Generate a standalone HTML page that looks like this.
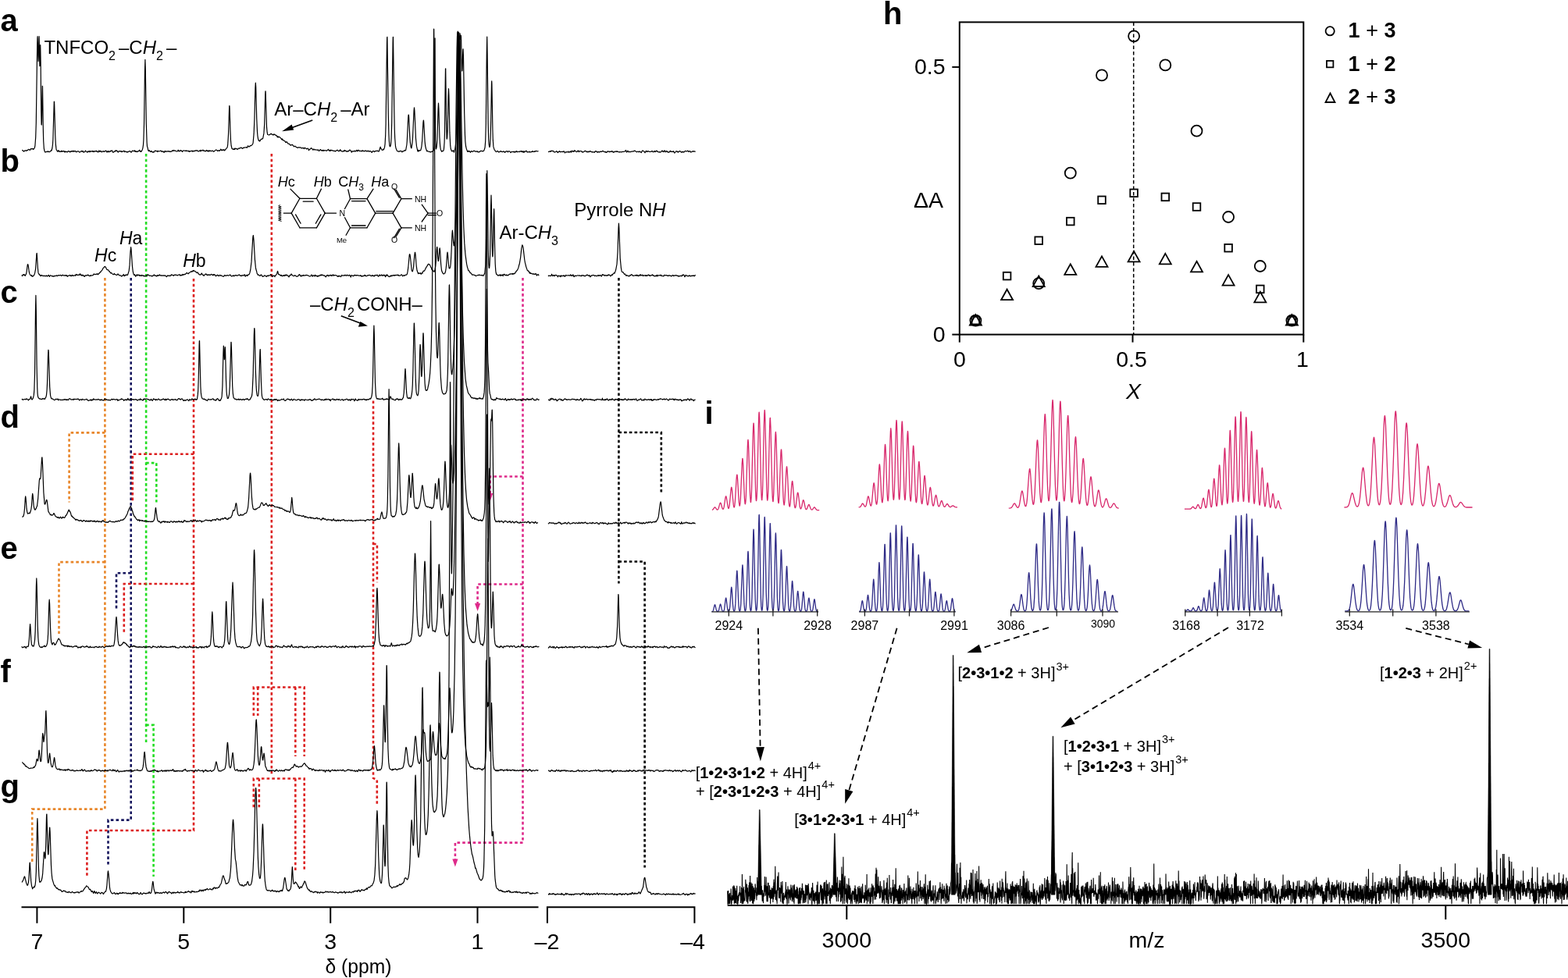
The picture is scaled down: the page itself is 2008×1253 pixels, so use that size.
<!DOCTYPE html><html><head><meta charset="utf-8"><style>html,body{margin:0;padding:0;background:#fff;overflow:hidden}svg{display:block;font-family:'Liberation Sans',Arial,sans-serif}</style></head><body><svg width="2008" height="1253" viewBox="0 0 2008 1253" style="font-family:'Liberation Sans',Arial,Helvetica,sans-serif"><rect width="2008" height="1253" fill="#fff"/><g fill="none" stroke-width="2.6" stroke-dasharray="3.6 3.1"><path d="M134.4,356 L134.4,1036.6 L41.2,1036.6 L41.2,1105" stroke="#E8862A"/><path d="M134.4,554.4 L88.6,554.4 L88.6,643.6" stroke="#E8862A"/><path d="M134.4,720.1 L75.5,720.1 L75.5,812" stroke="#E8862A"/><path d="M167.7,356 L167.7,1050.6 L138.5,1050.6 L138.5,1108.5" stroke="#16165E"/><path d="M167.7,734.2 L149,734.2 L149,781.6" stroke="#16165E"/><path d="M187.1,197 L187.1,951.8" stroke="#22DD22"/><path d="M187.1,593.1 L200.3,593.1 L200.3,643.6" stroke="#22DD22"/><path d="M187.1,928.9 L196.6,928.9 L196.6,1122.9" stroke="#22DD22"/><path d="M248,357 L248,1064 L111.4,1064 L111.4,1122" stroke="#DC2020"/><path d="M248,581.8 L169.8,581.8 L169.8,643.6" stroke="#DC2020"/><path d="M248,748 L158.8,748 L158.8,811.7" stroke="#DC2020"/><path d="M347.8,197 L347.8,991.6" stroke="#DC2020"/><path d="M324.8,917 L324.8,880.5 L389.7,880.5 L389.7,969" stroke="#DC2020"/><path d="M330.2,880.5 L330.2,917" stroke="#DC2020"/><path d="M378.3,880.5 L378.3,969" stroke="#DC2020"/><path d="M324.8,1034.3 L324.8,997.5 L389.7,997.5 L389.7,1116" stroke="#DC2020"/><path d="M331.8,997.5 L331.8,1034.3" stroke="#DC2020"/><path d="M378.3,997.5 L378.3,1116" stroke="#DC2020"/><path d="M478,513.5 L478,997 L482.8,999 L482.8,1030" stroke="#DC2020"/><path d="M478,697 L482.9,697 L482.9,746.3" stroke="#DC2020"/><path d="M669.5,356 L669.5,1079.6 L582.9,1079.6 L582.9,1102" stroke="#DE2A8A"/><path d="M669.5,610.5 L627.7,610.5 L627.7,634" stroke="#DE2A8A"/><path d="M669.5,748.5 L611.6,748.5 L611.6,775" stroke="#DE2A8A"/><path d="M792.4,356 L792.4,747.5" stroke="#000"/><path d="M792.4,554 L846.8,554 L846.8,631.3" stroke="#000"/><path d="M792.4,719.5 L825.6,719.5 L825.6,1111.6" stroke="#000"/><path d="M624.1,631.9 L631.3000000000001,631.9 L627.7,641.9 Z" fill="#DE2A8A" stroke="none"/><path d="M608.0,773.1 L615.2,773.1 L611.6,783.1 Z" fill="#DE2A8A" stroke="none"/><path d="M579.3,1100.5 L586.5,1100.5 L582.9,1110.5 Z" fill="#DE2A8A" stroke="none"/></g><g fill="none" stroke="#000" stroke-width="1.2" stroke-linejoin="round"><path d="M28.5,193.0L28.9,192.3 29.5,193.4 30.1,193.5 30.7,194.2 31.3,193.2 31.9,192.8 33.1,192.8 33.7,193.4 34.3,192.6 34.9,192.5 35.5,192.7 36.1,191.5 36.9,191.4 37.9,192.0 38.3,192.5 39.5,190.6 39.7,190.8 40.3,190.6 40.9,191.0 42.1,190.3 42.7,191.4 43.5,190.7 44.3,189.5 44.9,186.7 45.7,175.8 46.3,157.1 47.7,57.1 47.9,48.8 48.1,46.7 49.1,78.6 49.3,76.5 49.9,49.2 50.1,46.7 50.9,84.6 51.1,84.0 51.7,57.5 52.1,79.0 52.7,142.3 53.1,159.7 53.3,160.0 53.5,155.3 54.1,119.0 54.3,110.2 54.5,110.7 55.3,164.7 55.7,180.7 56.3,189.8 56.9,193.1 57.7,194.9 58.3,194.9 59.5,194.3 60.1,194.6 61.3,193.8 61.9,194.7 62.5,194.2 62.9,194.5 63.7,194.6 64.3,193.8 64.9,193.7 65.5,192.4 66.1,192.8 66.9,189.5 67.5,184.9 67.9,178.5 69.3,130.0 69.5,130.3 69.7,134.4 70.7,172.0 71.3,184.6 72.1,191.7 72.7,192.3 73.3,193.7 73.9,194.3 74.5,193.1 75.1,192.7 75.7,194.3 76.3,193.9 77.1,194.5 77.5,194.5 78.7,193.2 79.3,194.5 79.9,193.7 80.5,193.6 81.1,194.1 81.7,193.4 82.3,193.9 82.9,195.1 83.5,193.8 84.1,194.5 84.7,194.6 85.3,194.1 85.9,194.8 86.3,195.0 87.1,193.8 87.7,193.5 88.3,193.6 88.9,194.4 89.5,194.8 90.1,194.0 90.7,194.5 91.3,193.5 91.5,193.5 91.9,193.9 92.5,193.7 93.1,194.2 93.7,193.1 94.3,194.2 94.9,193.9 95.5,194.0 96.1,193.2 96.7,194.2 97.3,194.2 97.9,194.9 99.1,193.8 99.7,194.0 100.3,193.7 100.9,194.3 101.5,194.5 101.9,195.1 102.7,194.7 103.3,194.0 103.9,194.0 104.5,193.3 105.1,194.2 105.9,193.5 106.3,193.4 106.9,195.1 107.1,195.2 108.1,194.7 108.7,194.1 109.3,193.0 109.9,193.9 110.5,193.8 111.7,195.2 112.3,194.7 112.9,193.6 114.1,194.6 114.7,193.4 115.3,194.7 115.9,193.8 116.5,193.6 117.1,194.1 117.7,194.0 118.3,193.3 118.9,194.3 119.5,193.7 120.1,194.7 120.7,193.7 122.5,193.8 123.1,193.2 123.7,194.0 124.1,193.6 124.3,193.7 124.9,194.6 125.3,194.8 125.5,194.5 126.1,194.7 126.7,192.9 127.3,193.9 127.9,194.3 128.5,193.4 129.1,193.4 129.7,194.4 130.3,194.9 130.9,194.3 131.7,193.7 132.1,193.9 132.7,193.7 133.1,194.5 133.3,194.5 134.5,193.6 135.1,193.6 135.7,193.0 136.3,193.8 136.9,195.0 137.1,195.0 137.5,194.7 138.1,193.4 138.7,194.3 139.3,194.8 139.9,193.8 140.5,194.2 141.1,194.3 141.7,193.2 142.3,193.6 143.5,192.8 144.7,195.2 144.9,195.3 145.9,194.7 146.5,193.7 147.1,194.1 147.7,193.8 148.3,192.5 148.9,193.5 149.5,193.0 150.1,193.3 151.3,195.1 151.9,194.0 152.7,193.6 153.1,193.6 153.7,194.0 154.3,193.6 154.9,193.6 155.5,194.7 156.1,193.8 156.5,194.2 157.3,194.3 157.9,194.0 158.5,193.1 159.1,193.5 159.7,194.7 160.3,194.0 161.5,194.2 162.1,194.6 162.7,195.2 163.3,194.3 163.9,194.8 165.5,193.7 166.3,193.5 168.1,195.2 169.5,193.0 169.9,193.4 170.9,193.7 172.1,192.8 172.3,192.9 172.9,194.3 173.5,193.3 174.1,194.4 174.7,194.5 175.3,193.9 175.9,194.6 177.1,193.7 177.7,193.6 178.3,192.6 178.7,192.3 178.9,192.4 179.5,194.1 179.9,194.0 180.1,193.6 180.7,194.4 181.1,194.1 182.3,191.7 182.9,189.6 183.5,185.5 183.9,179.4 184.5,159.3 185.5,90.1 185.9,76.3 186.3,90.1 187.3,158.3 188.1,182.5 188.5,187.6 189.1,189.2 189.7,192.4 190.3,193.6 190.9,192.7 191.5,192.7 192.1,194.0 192.7,194.5 193.3,194.4 193.9,193.3 195.1,195.0 195.5,195.2 196.3,194.3 196.9,195.2 197.5,194.2 198.1,194.0 198.7,192.9 199.5,193.5 200.5,193.7 201.1,193.3 201.7,194.5 202.3,193.4 202.9,193.8 204.7,193.6 205.3,193.1 205.9,193.0 207.1,194.3 207.7,193.8 208.3,194.2 208.9,193.8 210.1,195.4 211.3,193.3 211.9,194.1 212.5,194.5 213.1,193.9 214.3,193.8 214.9,194.1 216.1,193.6 217.3,194.4 217.9,194.1 218.5,194.2 218.9,194.5 220.3,193.6 220.9,192.7 221.5,193.5 222.7,192.4 223.3,193.2 225.1,193.2 225.7,194.0 226.7,194.0 227.5,193.7 228.1,192.2 229.3,194.0 229.9,193.1 230.5,193.4 231.7,192.5 232.3,193.4 232.9,193.3 233.5,194.5 234.1,193.5 235.3,192.8 236.5,193.2 237.7,193.3 238.3,192.8 238.9,193.6 239.5,193.2 240.1,193.5 240.7,193.4 241.3,193.8 241.9,193.2 242.5,194.5 243.5,193.6 244.3,193.5 244.9,193.7 246.1,193.0 246.7,194.1 247.3,193.7 247.9,194.0 248.5,193.1 249.1,193.6 249.7,193.4 250.9,192.5 251.5,193.0 252.1,193.1 252.7,192.6 253.3,193.6 253.9,194.1 254.5,193.6 255.1,193.6 256.3,192.5 256.9,194.0 257.5,192.5 258.1,192.8 259.3,192.9 259.9,192.1 260.5,193.2 261.1,193.2 261.7,192.8 262.3,193.8 262.9,193.5 263.1,193.8 263.5,193.5 264.5,192.5 265.3,193.7 265.9,192.9 266.5,193.9 267.1,193.0 267.7,193.9 268.3,192.9 268.9,193.5 269.5,193.2 270.1,193.3 270.7,193.7 271.9,193.0 272.5,193.0 273.1,193.9 273.7,194.3 276.7,191.9 277.9,192.6 278.5,193.5 279.1,193.0 279.7,192.8 280.3,193.3 280.9,192.7 281.3,193.2 282.1,192.4 282.7,191.0 283.9,192.8 284.5,192.1 285.1,191.8 285.7,192.5 286.5,191.8 286.9,191.7 287.5,192.9 287.7,192.9 289.3,190.8 290.9,189.2 291.3,187.8 291.7,184.9 292.5,172.3 293.7,135.5 293.9,135.5 294.1,138.9 294.9,166.4 295.5,180.0 296.1,186.5 297.1,190.5 297.7,190.6 298.3,191.3 298.9,191.2 299.5,191.4 300.1,190.1 300.7,191.4 301.9,190.0 302.1,190.0 302.5,190.5 303.1,190.5 303.7,191.5 304.3,190.9 304.9,191.0 305.5,190.2 305.9,190.0 306.1,189.9 306.7,190.1 307.9,189.6 308.5,188.9 309.7,189.6 310.3,190.4 310.9,190.2 311.5,189.2 312.7,189.4 313.3,188.8 314.5,189.0 315.1,188.7 315.7,188.7 316.3,189.2 316.5,189.1 316.9,188.6 317.5,186.8 317.7,186.9 318.1,187.7 318.7,187.6 319.3,188.0 320.5,186.7 321.7,186.7 323.5,184.8 324.1,183.1 325.1,171.4 325.9,152.2 326.9,112.8 327.3,106.1 327.7,111.8 328.7,151.5 329.5,168.9 329.9,173.8 330.5,177.6 331.3,180.2 331.9,179.9 332.5,181.0 333.1,180.4 334.3,178.3 334.9,178.5 335.5,177.8 336.1,177.9 336.7,177.1 337.9,170.9 338.7,158.7 339.7,121.3 339.9,116.8 340.1,116.8 341.5,162.3 342.1,169.2 342.5,171.5 342.7,172.4 342.9,172.5 343.9,172.8 344.9,172.8 345.7,172.4 346.3,171.6 347.5,171.3 348.1,172.1 348.7,172.2 348.9,172.5 349.3,172.5 349.9,173.1 350.5,172.0 351.1,172.4 351.7,172.1 352.3,172.9 354.1,173.6 355.3,175.8 355.9,174.5 356.5,176.0 357.7,175.3 357.9,175.3 360.1,177.7 360.7,178.8 361.3,177.8 361.9,179.5 362.5,179.3 363.7,180.4 364.9,180.8 365.7,182.5 366.1,182.5 366.7,181.8 367.1,181.7 367.9,182.5 368.5,183.8 370.3,184.3 370.9,184.8 371.5,185.9 372.1,185.9 372.3,186.1 373.5,185.5 373.9,185.7 374.5,185.3 375.1,186.2 375.7,186.7 376.3,187.8 376.9,187.7 377.5,187.2 378.1,187.4 379.3,188.5 379.9,188.6 380.1,188.9 381.1,189.4 381.7,189.0 382.3,189.0 382.9,188.6 383.5,189.2 384.7,188.8 385.9,189.8 386.5,189.8 387.9,189.4 388.3,189.5 389.5,190.6 390.1,189.2 391.9,190.3 392.5,190.9 394.3,190.1 394.9,190.9 395.5,192.7 396.1,191.7 397.9,190.5 398.5,189.5 399.1,190.4 400.3,191.1 400.9,192.3 401.5,191.2 402.1,191.2 402.7,191.9 403.3,191.7 404.5,192.0 404.9,191.9 406.1,192.3 406.9,192.2 407.5,191.8 408.1,193.3 409.3,193.0 410.1,191.6 410.5,191.7 411.3,192.6 412.3,193.1 412.9,192.4 413.5,193.2 414.1,192.2 414.7,193.3 415.9,192.5 416.5,192.8 417.7,192.9 418.3,193.4 419.5,192.1 420.1,191.9 420.5,191.3 421.3,193.0 421.7,193.2 421.9,192.8 422.5,193.3 423.1,192.0 423.7,193.1 424.3,192.3 424.9,192.7 425.7,192.7 426.9,193.5 427.9,193.0 428.5,193.6 429.1,193.6 429.7,193.9 430.3,193.1 432.1,192.2 433.3,193.7 433.5,193.7 434.5,193.0 435.1,193.4 435.7,191.7 436.1,192.1 436.3,192.7 436.9,193.1 437.5,193.9 438.1,193.9 438.7,194.2 439.3,194.0 439.9,193.4 440.5,193.8 441.1,192.3 441.7,193.4 442.5,193.2 442.9,193.2 443.5,193.7 444.1,194.4 444.7,193.8 445.3,193.6 445.9,194.1 446.5,193.2 447.1,193.1 447.7,192.0 448.9,192.5 450.3,195.1 450.7,194.2 451.3,194.1 451.7,193.6 452.5,193.6 452.9,194.0 453.7,194.0 454.3,193.0 454.9,193.9 455.5,194.0 456.1,193.6 456.7,192.3 457.3,192.8 457.9,193.9 458.5,192.8 459.1,192.3 459.7,192.5 460.3,193.6 462.1,193.3 463.3,193.9 463.9,192.9 464.5,192.7 465.1,193.7 466.3,193.4 467.1,193.8 468.5,192.8 469.9,194.2 470.5,193.5 471.1,193.2 471.7,193.2 472.3,194.2 472.5,194.2 472.9,194.2 473.5,193.5 474.1,193.5 474.7,194.0 475.3,194.1 475.9,195.3 476.3,195.3 476.5,194.8 477.1,194.4 477.7,193.3 478.9,193.7 479.5,194.6 480.1,194.2 480.7,193.5 481.5,193.3 481.9,193.5 483.7,193.1 484.3,193.9 485.3,194.0 487.1,188.3 487.3,188.4 487.9,190.6 488.5,190.8 489.1,192.2 490.3,192.3 490.9,191.0 491.5,191.6 492.5,188.9 493.1,184.3 493.7,173.1 494.1,158.7 495.5,55.5 495.7,47.8 495.9,47.4 497.3,147.3 497.9,171.6 498.3,180.1 498.9,186.5 499.3,187.6 499.5,187.8 499.7,187.7 500.1,186.8 500.5,184.8 501.1,177.1 501.7,157.7 503.1,55.0 503.3,47.6 503.5,47.4 504.7,135.0 505.3,166.8 505.7,177.0 506.5,187.3 507.1,190.0 508.3,193.0 510.1,194.4 510.7,193.8 511.3,193.8 511.9,194.2 512.5,193.3 513.1,193.5 513.7,193.4 514.9,194.8 515.5,193.9 516.7,194.0 517.9,192.6 519.3,192.8 519.7,192.2 520.9,185.5 521.3,180.7 522.7,151.3 523.1,147.0 523.3,147.2 523.5,148.5 523.7,151.3 524.7,173.6 525.3,182.2 526.1,187.8 526.5,189.3 526.9,189.8 527.9,183.6 528.5,176.6 530.1,141.5 530.5,137.8 530.9,141.8 532.5,177.5 533.5,187.4 534.9,193.7 535.3,194.1 535.9,192.2 536.5,193.6 537.3,193.1 537.7,192.6 538.3,192.8 538.5,192.6 538.9,192.1 539.9,187.8 540.7,179.8 541.9,157.4 542.3,154.1 542.5,154.5 542.7,156.7 544.1,181.4 544.7,187.0 545.5,190.5 546.7,193.8 547.3,193.2 547.9,194.0 549.1,194.1 549.7,194.5 550.3,194.6 550.9,194.3 551.5,194.9 552.7,194.4 553.3,193.8 553.9,194.2 554.3,194.1 555.7,191.9 556.1,187.2 556.3,179.8 556.5,161.7 556.9,49.2 557.1,48.9 557.5,161.4 557.7,179.7 558.1,189.7 558.3,190.8 558.5,190.9 559.1,188.8 559.9,179.8 561.1,139.7 561.5,132.2 561.9,139.0 562.9,175.8 563.7,187.7 564.3,191.4 565.1,193.2 565.9,194.3 566.5,193.4 567.3,193.5 567.7,193.4 568.3,191.7 568.5,190.3 569.1,182.4 569.5,168.7 570.3,100.6 570.5,88.0 570.7,87.8 571.5,154.1 572.1,176.8 572.3,178.2 572.7,176.1 573.1,167.9 574.1,123.3 574.5,113.7 574.9,122.2 575.9,169.4 576.7,186.2 577.3,190.8 578.5,193.8 579.1,193.3 579.7,193.7 580.3,192.9 580.9,193.6 581.5,195.2 582.1,192.2 582.7,191.2 583.5,185.2 583.9,180.0 584.3,170.2 584.9,141.7 585.9,52.7 586.1,42.3 586.3,40.2 587.5,98.4 587.7,97.4 587.9,91.2 588.5,55.9 588.9,42.7 589.1,43.1 589.7,50.2 590.3,45.4 590.5,47.0 591.3,80.9 591.7,91.0 591.9,90.7 592.1,86.9 592.7,67.3 592.9,63.4 593.1,62.8 593.5,73.8 594.7,145.5 595.5,173.8 595.9,181.6 596.5,187.0 597.3,190.6 598.5,193.8 598.9,194.4 599.5,193.4 600.1,194.1 600.7,193.3 601.3,194.3 601.9,194.1 602.5,195.3 603.1,194.2 603.7,193.6 604.3,193.7 604.9,194.5 606.1,194.0 606.7,193.2 607.5,193.3 608.9,194.2 609.7,194.2 610.3,193.8 610.9,194.2 611.5,193.8 612.1,194.9 613.3,194.6 613.9,194.8 615.1,193.3 615.7,193.6 616.7,193.4 617.5,193.5 618.1,194.0 618.7,193.6 619.3,193.5 619.9,192.6 620.7,190.3 621.1,188.5 621.7,180.9 622.3,158.5 623.3,67.5 623.7,47.0 624.1,68.0 625.1,158.1 625.7,178.6 626.1,184.6 626.7,188.1 626.9,188.5 627.1,188.4 627.5,186.4 628.1,177.1 628.7,154.1 629.5,107.0 629.7,103.8 629.9,107.5 630.9,165.7 631.3,179.4 631.9,187.9 633.1,191.9 633.7,192.3 634.3,193.5 635.5,194.6 636.7,193.6 637.3,193.4 637.9,194.3 638.9,195.1 639.7,194.2 640.1,194.0 640.9,194.1 641.5,193.5 642.1,194.5 643.3,194.4 643.9,194.7 644.5,194.0 645.3,193.9 645.7,194.2 646.3,195.2 646.7,195.3 647.5,194.2 648.1,193.9 648.7,194.0 649.3,193.6 650.5,194.8 651.1,193.7 651.7,193.9 652.3,193.8 652.9,194.2 654.1,195.6 654.7,194.8 655.7,194.2 656.9,194.7 657.7,194.7 658.3,193.9 658.9,195.2 659.5,194.8 660.1,195.0 660.9,193.6 661.3,193.7 661.9,194.5 662.3,194.8 663.1,194.0 664.9,194.7 665.5,193.9 666.1,194.1 666.7,193.8 667.3,194.1 667.9,193.5 668.5,194.6 669.1,194.0 669.7,194.8 670.3,193.8 670.9,195.5 671.5,194.2 672.1,193.8 672.7,194.4 673.9,193.2 674.5,193.6 675.1,195.1 675.7,194.5 677.5,194.9 678.1,194.0 678.7,194.8 679.9,194.9 681.1,194.1 681.7,194.4 682.3,193.5 682.9,194.5 684.3,194.3 684.7,193.7 685.3,194.2 686.5,193.3 687.1,193.6 688.9,193.8 689.5,193.4"/><path d="M702.0,194.6L703.6,194.1 704.2,194.3 704.8,193.5 705.4,194.2 706.0,193.4 706.4,193.2 707.8,193.6 708.4,193.3 709.0,193.9 709.6,194.8 710.4,194.8 711.6,194.6 712.6,193.6 713.0,193.8 714.4,195.5 715.6,194.1 716.2,194.4 716.8,193.6 717.4,194.7 718.2,194.7 719.6,194.2 720.4,194.4 720.8,194.7 722.0,193.7 722.8,194.5 723.4,195.9 725.2,194.4 726.0,195.1 727.0,194.7 727.6,194.0 728.6,195.4 729.8,194.3 730.6,193.9 731.2,195.3 731.8,194.0 732.4,193.1 733.0,194.1 733.8,193.8 734.2,193.4 734.8,194.3 735.4,193.7 736.0,192.5 736.6,193.7 737.2,194.0 737.8,194.0 738.4,194.6 739.6,194.0 740.2,192.8 741.4,194.7 742.0,193.5 742.6,193.7 743.2,193.5 743.8,193.5 744.4,193.9 745.0,193.7 745.6,195.1 746.2,194.7 746.8,195.0 748.0,194.3 748.6,193.5 749.4,193.2 749.8,193.7 750.4,193.8 751.0,194.8 751.6,194.0 752.2,194.1 752.8,195.0 754.0,193.9 754.6,194.7 755.8,193.5 757.0,194.3 757.2,194.7 757.6,194.5 758.2,194.8 758.6,194.6 759.4,194.9 760.0,194.8 760.6,194.9 761.2,195.3 762.4,193.6 763.6,193.8 764.2,194.8 764.8,194.3 765.4,195.2 766.2,194.5 766.6,194.3 767.6,195.1 769.0,194.1 770.8,194.3 771.6,193.4 772.0,193.3 773.2,194.4 774.4,194.4 775.0,195.0 775.6,194.3 776.2,195.3 776.6,195.4 776.8,195.4 778.0,193.9 778.6,194.2 779.2,193.9 780.6,194.8 781.0,194.0 781.6,194.5 782.0,194.3 782.8,194.3 783.4,193.5 784.0,194.2 784.6,194.1 785.2,195.3 785.8,194.5 786.4,194.9 787.0,194.7 787.6,193.9 788.2,194.2 789.4,194.5 790.0,193.5 790.6,194.4 791.8,194.4 793.0,195.1 793.6,194.5 795.4,194.8 796.0,194.6 796.2,194.8 797.6,194.2 798.4,194.5 800.2,193.8 800.8,193.9 801.4,192.4 802.6,195.1 804.0,193.2 805.0,194.6 805.4,194.9 806.2,194.2 807.4,194.8 808.6,194.1 809.2,194.0 809.8,194.2 810.4,193.8 811.0,194.0 811.6,193.9 812.2,193.0 812.8,193.4 813.2,193.3 814.0,193.7 814.4,194.1 814.6,194.0 815.2,194.8 815.8,194.6 816.4,194.2 817.0,194.1 817.6,194.7 818.2,194.2 818.8,194.7 819.4,194.0 819.6,194.1 821.2,195.7 822.2,193.5 823.0,192.9 823.6,193.0 824.2,194.0 825.4,194.4 826.0,195.8 827.4,193.3 827.8,193.3 828.4,194.4 829.0,194.3 830.0,193.5 831.2,194.3 832.0,194.3 833.2,194.5 833.8,194.4 834.4,193.5 835.0,193.6 835.2,193.4 836.4,194.9 836.8,194.5 837.4,194.3 838.0,193.3 838.6,194.6 839.2,194.5 839.8,194.0 840.4,193.0 841.0,194.0 841.8,193.6 842.2,193.8 843.0,194.9 844.0,195.0 844.6,194.5 845.2,195.2 846.8,194.5 847.6,193.1 848.2,193.2 848.8,194.1 849.4,193.9 850.0,194.7 850.8,193.1 851.2,192.9 852.2,194.7 852.4,194.8 853.0,193.8 853.4,193.7 853.6,193.9 854.2,193.6 854.8,194.9 856.0,194.8 856.6,195.4 857.2,194.2 857.8,194.2 858.4,193.2 859.0,194.3 859.6,194.2 861.2,194.3 861.4,194.2 862.0,194.6 862.6,193.7 863.8,196.1 865.0,194.8 865.6,193.8 866.2,194.0 866.8,193.7 867.4,194.6 868.0,194.3 868.6,195.0 869.2,194.1 869.8,194.2 870.4,193.5 871.0,193.6 872.8,195.4 873.4,194.4 874.2,194.4 874.6,195.0 875.2,194.4 875.6,194.8 876.4,194.7 877.0,193.7 877.6,193.4 878.2,193.5 878.8,193.9 880.0,193.6 880.6,193.2 880.8,193.2 881.2,193.4 881.8,194.4 883.2,193.9 883.6,193.5 884.8,195.1 885.4,194.5 886.0,194.5 887.2,193.7 887.8,193.7 888.4,194.2 889.0,193.8 889.6,194.0 889.8,193.9 890.2,194.3 890.6,194.1"/><path d="M27.6,352.8L28.0,352.8 28.6,353.5 29.2,352.3 29.8,351.7 30.4,352.4 30.8,351.7 31.0,351.7 32.2,353.4 32.8,352.1 33.4,351.4 34.0,348.8 35.2,339.6 35.6,338.5 36.0,339.4 36.4,341.5 37.2,348.0 37.8,350.4 38.4,351.9 40.0,353.4 40.6,352.6 41.2,354.4 41.8,353.9 42.4,353.9 43.0,352.9 43.8,352.4 44.6,349.9 45.6,344.6 46.8,326.4 47.0,324.6 47.2,324.4 48.4,343.2 49.0,349.4 49.6,351.1 50.2,351.1 50.8,352.4 51.4,352.4 52.0,353.8 52.6,352.5 53.2,353.1 53.8,352.7 55.0,353.6 55.6,353.7 56.2,353.1 57.4,353.8 58.0,353.5 58.6,353.6 59.2,353.0 60.4,354.0 61.0,353.4 61.6,353.2 62.0,352.4 62.2,352.3 62.8,353.7 63.4,354.4 64.0,353.3 64.6,352.8 65.2,352.9 66.4,353.9 67.0,353.5 67.6,353.6 68.2,354.3 68.6,354.2 69.4,353.3 70.0,353.9 72.4,352.8 73.0,353.8 74.8,352.5 75.4,353.0 76.2,352.7 76.6,352.9 77.2,352.4 77.8,352.5 78.4,353.5 80.2,352.2 80.8,353.0 81.4,352.9 82.6,353.2 83.2,352.7 83.8,352.6 84.4,353.3 85.6,352.6 86.2,354.4 87.4,353.3 88.0,353.2 88.6,352.9 89.2,352.9 89.8,352.4 90.4,353.6 91.0,353.2 91.6,353.7 92.2,352.6 92.8,352.4 93.4,353.3 94.0,353.4 94.6,353.0 95.8,352.8 96.4,353.3 97.0,352.0 97.6,351.4 98.2,352.5 98.8,352.2 100.0,352.4 101.2,352.2 101.8,352.3 102.4,350.8 103.0,351.2 103.6,352.7 104.2,352.1 104.8,353.2 105.4,352.9 106.0,352.1 106.6,353.3 107.2,353.7 107.8,353.3 108.4,354.4 109.0,352.9 110.2,353.1 110.8,352.6 111.4,352.9 112.0,352.8 112.6,352.0 113.2,352.4 114.0,353.4 115.0,353.7 115.6,352.7 116.2,353.5 116.6,353.0 117.4,352.7 118.0,353.0 119.2,352.6 119.8,351.5 120.4,350.9 121.6,351.8 122.2,351.4 123.2,351.4 124.0,351.1 124.6,350.6 125.2,351.8 125.4,351.7 129.4,347.8 130.0,346.8 131.2,345.6 131.8,344.0 132.4,343.1 133.0,343.0 133.6,341.9 134.2,341.3 135.0,341.9 136.0,343.6 136.6,345.1 137.2,345.6 137.8,345.4 138.4,346.0 139.0,346.1 139.6,347.6 140.2,347.7 140.8,348.8 141.4,349.2 142.0,350.1 142.6,349.6 143.2,350.0 144.4,351.5 145.0,351.5 145.6,351.8 146.2,350.4 146.8,351.4 147.8,351.5 148.0,351.8 149.0,352.4 149.8,352.3 151.0,351.0 152.8,352.9 153.4,352.8 154.0,353.0 154.6,352.8 155.6,354.0 156.4,353.4 157.0,353.4 158.2,351.5 158.8,353.0 159.4,353.7 160.0,352.6 160.6,352.9 161.2,351.9 161.8,352.5 162.4,352.1 163.0,352.5 163.6,352.2 165.2,346.8 166.0,339.9 167.0,322.3 167.6,316.7 168.0,319.1 169.4,340.6 170.2,347.6 171.0,351.1 171.2,351.4 171.4,351.4 172.0,352.7 172.6,351.7 173.8,354.3 174.4,352.9 175.6,351.8 176.2,353.2 176.8,352.4 178.0,352.1 178.6,353.3 179.0,353.4 179.2,353.4 179.8,352.6 180.2,353.1 181.0,353.6 181.6,352.4 182.2,352.9 182.8,352.9 183.4,353.5 184.0,353.0 184.6,353.8 185.8,353.6 186.4,353.7 186.8,353.2 187.6,352.7 188.2,353.7 188.8,352.2 189.4,351.6 190.8,353.1 191.2,353.0 191.8,353.3 192.4,353.1 193.6,353.5 194.2,353.3 194.8,354.1 195.4,353.3 196.0,353.0 196.6,353.1 197.2,351.9 197.8,352.9 198.4,352.9 199.0,353.5 199.6,353.2 199.8,353.2 200.2,353.4 200.8,354.1 201.4,352.6 202.0,352.6 202.6,353.3 203.2,352.5 203.8,352.8 204.4,351.9 205.0,352.9 205.6,352.8 206.2,353.2 206.8,352.8 208.0,353.1 209.8,352.9 210.2,353.2 211.6,352.9 212.2,353.8 212.8,354.0 213.4,354.7 214.6,352.9 215.2,353.3 215.8,353.3 216.4,352.9 217.0,353.4 217.6,353.6 218.2,353.0 218.8,353.2 219.4,351.8 221.2,352.6 221.8,352.5 222.4,353.4 223.0,352.4 223.6,352.0 224.2,352.0 224.8,352.4 225.4,352.0 225.8,352.1 226.6,352.9 227.0,353.0 227.8,352.4 229.0,352.2 229.6,351.6 229.8,351.7 230.2,352.0 230.8,353.3 231.0,353.2 231.4,352.5 232.0,352.2 232.6,352.9 233.2,352.8 233.8,351.4 234.4,352.1 235.0,351.6 235.6,352.2 236.2,351.4 237.4,351.4 239.2,349.5 241.0,350.9 242.2,349.5 243.4,349.0 244.0,348.2 245.2,347.6 245.8,348.3 246.4,347.7 247.0,346.7 247.6,347.4 248.2,346.3 248.8,347.2 249.4,347.6 250.6,347.8 251.2,349.0 252.4,349.6 253.0,348.8 253.6,350.0 254.2,350.2 254.8,351.5 255.4,352.0 256.0,351.8 256.6,352.2 257.0,352.0 258.2,350.0 258.4,350.0 259.0,351.8 259.6,352.2 260.2,352.2 261.0,353.3 261.4,353.2 262.0,352.6 262.6,351.3 263.2,351.5 263.8,350.8 264.4,352.1 265.0,351.7 265.6,352.7 266.2,352.2 266.8,352.3 267.4,351.8 268.0,352.4 268.6,352.1 269.2,352.5 269.8,352.1 270.4,351.4 272.2,352.1 272.8,352.9 273.4,351.5 274.0,352.2 274.6,351.7 275.2,351.9 275.8,353.2 276.4,353.7 277.0,353.5 278.2,352.2 278.8,352.8 279.4,352.5 280.0,353.6 280.4,353.6 281.8,352.3 282.4,353.1 283.6,352.9 284.8,353.9 286.0,354.3 286.6,354.1 287.2,353.0 287.8,352.5 288.2,352.5 288.4,353.0 289.4,353.4 290.8,352.5 291.4,352.6 292.0,353.2 292.2,353.2 293.2,352.9 293.8,352.3 294.4,352.4 295.0,352.1 296.2,353.8 296.8,353.9 297.4,353.8 298.0,353.5 298.6,352.7 299.2,353.6 299.8,353.8 300.4,353.1 301.0,352.7 301.6,352.8 302.2,352.5 302.8,353.1 303.4,353.1 304.0,352.8 304.6,353.1 305.8,352.1 306.4,351.9 307.6,353.3 308.2,353.4 308.8,352.9 309.4,353.7 310.0,352.8 310.6,352.7 311.2,352.9 311.8,352.7 312.4,353.0 313.0,351.8 313.6,352.3 314.2,354.3 314.8,353.3 316.0,352.3 316.6,353.5 317.2,352.9 317.8,351.9 318.6,351.8 319.2,351.4 319.8,349.9 320.8,345.5 322.0,335.4 323.8,304.6 324.2,301.7 324.4,301.6 325.0,307.5 326.4,332.4 327.4,342.9 327.8,345.0 328.6,347.5 329.2,350.5 329.8,351.0 330.4,352.4 331.0,352.1 332.8,353.4 333.4,353.1 334.0,352.2 334.6,352.1 335.0,352.3 335.8,353.9 336.2,354.3 337.0,354.1 338.2,353.6 338.8,352.8 340.0,353.3 340.6,354.1 341.2,354.5 341.8,353.5 342.4,353.7 343.0,352.8 343.6,353.7 344.2,353.1 346.0,352.7 346.6,351.6 347.8,353.1 348.4,353.4 349.0,354.6 349.6,353.3 350.2,353.0 350.8,353.5 351.4,353.3 352.0,354.7 352.6,352.7 353.8,352.2 354.6,350.8 355.4,347.6 355.6,347.4 356.6,351.3 356.8,351.6 357.4,351.5 358.6,352.6 359.2,352.4 359.8,353.3 360.4,352.4 361.0,353.5 361.6,353.8 362.4,352.9 362.8,352.9 363.4,353.5 363.6,353.5 364.0,352.6 364.6,353.4 365.2,352.0 365.8,352.9 366.2,352.8 367.0,351.9 367.6,352.9 368.2,353.2 368.8,353.1 370.0,354.9 371.2,352.5 371.8,352.9 372.4,352.4 373.0,350.9 373.6,352.1 374.0,352.2 375.2,353.4 376.0,353.7 376.6,353.3 377.2,353.2 377.8,352.7 379.6,354.1 380.2,354.4 380.8,353.9 381.4,353.9 381.8,353.7 383.0,351.9 383.8,351.7 384.4,353.3 385.0,353.0 385.6,354.1 386.2,353.1 386.8,352.9 388.0,353.5 388.6,352.4 389.2,352.9 390.4,353.2 391.0,352.6 391.6,352.8 392.2,352.3 392.8,352.6 393.4,352.5 394.0,352.9 394.8,353.0 395.8,353.7 397.0,354.1 397.4,354.0 398.8,352.1 399.4,352.3 400.0,354.3 400.6,353.3 401.4,352.9 401.8,352.8 402.4,353.8 402.6,353.8 403.0,353.5 403.6,352.2 404.2,353.7 404.8,353.2 405.2,353.2 406.6,354.3 407.2,353.1 407.8,354.0 409.0,353.0 409.6,353.1 410.2,352.2 410.8,352.9 411.4,352.0 412.0,352.8 412.6,352.0 414.2,353.1 414.4,353.1 415.0,352.6 415.6,353.4 416.2,353.7 417.0,354.7 417.4,354.8 418.0,353.3 418.6,352.8 419.2,353.1 419.8,352.3 421.0,353.8 422.2,352.5 422.8,352.6 423.4,353.1 424.0,352.2 424.6,353.4 425.2,353.2 425.8,352.9 426.4,351.7 427.2,353.1 428.6,352.7 430.0,352.7 431.8,353.4 432.4,354.5 432.6,354.5 433.0,354.3 433.6,353.3 433.8,353.4 434.2,354.2 434.8,353.4 435.4,353.8 436.0,354.0 436.4,354.6 436.6,354.5 437.8,352.4 438.4,353.0 439.0,353.2 440.2,352.7 440.8,353.2 442.0,352.2 442.6,352.9 443.2,353.1 443.8,353.1 444.4,352.2 445.0,352.8 445.6,352.8 446.8,353.3 447.4,352.3 448.6,353.3 449.2,355.1 449.8,353.0 450.6,352.6 452.0,353.7 452.2,353.6 452.8,353.7 453.4,352.4 454.0,352.9 454.6,352.3 455.2,352.8 455.8,352.7 456.4,353.1 457.2,352.5 457.6,352.5 458.2,352.9 459.8,353.1 460.0,353.0 461.2,353.5 461.8,352.7 462.4,353.2 463.0,354.3 463.6,353.6 464.2,353.9 465.0,353.6 465.4,353.7 466.0,353.3 466.6,352.4 467.2,353.3 467.8,352.5 468.4,353.7 469.0,353.5 469.6,353.6 470.2,353.5 471.4,352.4 472.0,352.8 472.6,352.9 473.2,352.4 473.8,352.4 474.4,353.2 475.6,353.8 476.2,352.8 476.8,352.6 477.4,353.6 478.0,353.0 478.6,353.4 479.2,354.0 479.8,352.7 481.0,353.0 481.6,352.3 482.2,352.9 483.2,352.1 483.4,352.3 484.0,353.8 484.4,354.2 485.2,353.8 485.8,352.2 486.4,352.2 487.0,353.3 487.6,353.1 488.8,352.0 489.4,353.1 489.8,353.3 490.6,352.9 491.2,352.2 491.8,353.0 492.4,352.4 493.0,353.0 493.6,354.7 494.8,352.0 495.4,353.0 496.0,352.0 497.2,353.9 498.8,354.6 499.6,354.0 500.2,353.0 500.8,354.0 501.4,353.0 502.0,353.5 502.6,352.8 503.2,352.9 503.8,352.5 504.4,353.0 505.0,352.4 505.6,353.1 506.6,352.4 507.4,352.8 508.0,352.4 509.2,352.0 509.8,353.1 510.4,352.3 511.0,353.0 512.2,353.4 513.4,352.2 514.4,351.8 514.6,351.9 515.2,353.5 515.8,353.8 516.4,353.1 517.0,352.8 517.6,352.7 518.2,353.4 519.4,352.2 520.8,352.1 521.4,350.9 522.0,348.2 522.8,342.7 524.2,327.0 524.6,325.6 525.0,326.3 525.4,328.8 527.2,346.0 527.8,347.6 528.2,347.8 528.4,347.6 529.2,344.4 529.6,341.6 530.8,327.3 531.4,323.3 531.6,323.4 532.0,325.8 533.2,340.3 534.0,346.3 535.6,350.7 536.2,349.7 537.4,350.4 538.6,349.7 539.2,351.3 540.4,349.7 541.0,350.1 541.8,347.6 542.2,347.2 543.0,347.3 544.0,346.1 544.6,345.2 545.2,343.1 545.8,343.1 546.4,341.2 547.0,341.0 547.6,339.5 548.8,338.2 549.4,338.9 549.8,338.8 550.6,339.4 551.8,342.5 552.4,343.1 553.0,345.6 553.4,345.8 553.6,345.7 555.6,348.0 556.0,348.2 556.2,347.9 557.0,345.4 557.8,340.8 558.4,333.5 559.2,319.3 559.6,316.4 559.8,316.6 560.0,318.1 560.8,331.4 561.2,334.5 561.4,334.5 561.6,334.0 561.8,332.7 562.8,319.6 563.0,318.1 563.2,317.8 563.6,321.0 564.6,337.9 565.4,345.5 565.8,347.3 566.8,349.7 567.8,350.9 568.6,351.0 569.2,350.2 569.8,350.2 570.6,347.5 571.0,345.2 571.6,339.9 572.6,325.7 573.0,323.1 573.4,325.1 574.4,338.4 575.0,343.0 575.4,344.0 575.8,343.9 576.2,343.3 576.8,341.3 577.2,337.6 577.8,327.6 579.0,299.2 579.4,295.0 579.8,298.1 580.6,310.2 581.2,314.8 581.4,314.8 581.8,313.0 582.4,305.6 583.6,278.4 584.4,249.4 585.4,199.8 587.4,74.3 588.0,52.3 588.2,48.2 588.4,46.2 588.6,46.1 589.0,51.8 589.6,75.0 592.0,221.8 592.8,258.3 593.8,291.1 594.8,311.9 596.0,326.3 597.6,338.2 598.6,342.8 599.2,344.4 599.8,346.9 600.2,346.7 601.0,347.0 601.6,348.6 602.2,349.6 602.8,349.6 603.4,350.5 604.0,351.0 604.6,352.1 605.4,352.2 605.8,351.8 606.4,352.1 607.0,352.1 607.6,352.7 608.2,352.5 609.4,353.7 610.0,353.2 611.2,352.8 611.8,352.6 612.4,352.8 613.6,351.9 614.2,352.6 614.8,352.5 615.8,352.5 616.6,353.0 617.2,352.3 618.4,353.3 619.0,353.3 620.2,350.9 620.8,350.3 621.8,339.2 622.4,319.7 623.4,236.9 623.8,218.6 624.2,237.0 625.2,319.3 625.8,338.0 626.2,342.9 626.4,343.5 626.6,343.3 627.0,340.5 627.6,326.8 628.6,264.6 629.0,250.0 629.4,263.8 630.2,314.9 630.6,326.8 630.8,328.8 631.0,328.4 631.4,320.2 632.2,279.0 632.6,267.7 632.8,271.0 633.6,315.6 634.2,337.7 634.8,347.1 635.2,349.5 635.8,351.5 637.0,352.1 637.6,353.0 638.0,353.3 639.4,352.1 640.0,352.4 640.6,353.5 641.2,351.8 642.4,353.0 643.6,352.0 644.2,353.6 644.8,351.7 645.4,351.6 645.8,351.3 646.0,351.4 646.6,352.5 647.2,352.4 647.8,352.8 648.4,352.0 649.0,352.9 649.6,352.4 650.8,352.9 651.4,351.8 652.2,351.7 652.6,351.2 653.2,351.4 653.6,350.9 654.4,350.8 655.6,351.2 656.2,350.3 656.8,351.4 657.4,350.7 658.0,351.1 658.6,350.1 659.2,350.3 659.8,350.0 660.4,348.5 662.8,345.6 664.0,342.6 664.6,340.0 665.2,338.3 666.6,330.1 667.8,318.6 668.8,313.8 669.6,315.6 670.0,317.1 671.8,333.0 672.4,336.4 673.8,342.0 675.4,346.6 675.6,346.7 676.0,346.5 676.6,347.4 677.2,347.4 677.8,349.3 678.4,350.0 679.0,349.1 679.6,350.4 680.8,350.4 682.2,351.1 682.6,351.1 683.2,350.6 683.8,351.3 684.4,351.2 685.0,351.5 685.6,351.1 686.2,350.4 687.4,353.1 688.0,352.0 688.6,351.9 689.2,351.5 689.8,352.7 690.4,353.1"/><path d="M702.0,353.2L702.4,353.6 703.0,352.9 703.6,353.4 704.0,353.2 705.2,353.7 706.0,352.7 706.6,351.2 707.2,353.0 707.8,353.6 709.0,352.3 709.6,353.4 710.2,353.7 710.8,352.5 711.4,352.6 711.8,352.3 712.6,353.0 713.2,352.9 713.8,353.4 714.4,354.9 715.0,353.3 715.6,353.1 716.8,354.0 717.4,353.5 718.0,354.7 718.6,352.8 719.2,353.5 719.8,353.7 720.8,353.4 721.0,353.0 721.6,353.5 722.2,352.8 722.8,353.8 723.4,354.4 724.6,352.4 725.2,353.0 726.4,352.8 727.4,353.0 728.6,352.6 728.8,352.9 730.0,353.2 730.6,351.9 731.2,353.0 731.8,352.4 732.4,353.6 733.0,353.2 733.8,351.9 734.2,352.4 734.8,354.3 735.2,354.7 736.4,353.0 737.6,353.6 739.0,353.0 740.2,352.8 741.4,353.3 742.0,352.9 742.6,352.9 744.2,353.8 745.0,352.6 745.6,352.8 746.2,353.2 746.8,352.9 747.4,352.9 748.0,353.6 748.6,353.3 749.2,353.9 749.8,353.2 750.4,352.8 751.0,353.0 752.0,351.9 752.8,352.8 754.0,353.5 754.6,352.6 755.2,353.2 755.8,354.9 756.4,353.7 757.0,353.7 757.6,352.9 758.2,353.1 759.4,352.4 760.0,352.6 760.6,352.6 761.8,353.7 762.4,353.0 763.0,353.3 763.6,353.3 764.2,353.8 765.0,353.4 766.0,352.4 766.6,353.4 767.2,352.8 767.8,353.3 768.4,352.6 769.0,352.5 770.2,354.1 770.8,353.1 771.4,351.5 772.6,352.4 773.2,352.1 774.4,353.3 775.0,352.5 775.6,353.0 776.2,352.9 776.8,353.3 777.4,352.7 778.0,353.2 778.6,352.2 779.2,352.6 779.8,351.8 780.4,352.5 781.0,352.6 781.8,353.8 782.2,353.6 783.4,351.9 784.0,352.7 784.6,351.5 785.2,350.8 785.8,350.5 786.4,349.5 787.0,350.2 788.2,347.1 788.8,344.8 790.0,338.5 791.0,323.2 792.0,292.5 792.4,286.2 792.8,292.1 794.2,330.8 795.4,343.5 796.2,347.9 797.2,348.8 797.8,348.6 799.2,350.8 799.6,351.3 800.2,350.9 802.0,353.3 802.6,352.5 803.2,353.1 803.8,353.0 805.6,354.1 806.2,353.1 806.8,352.7 807.4,353.0 808.6,351.6 809.2,352.1 809.8,352.2 810.4,353.4 811.8,353.3 812.2,353.0 812.8,353.1 813.4,352.6 814.0,352.7 814.6,353.4 815.2,352.4 815.8,352.2 816.4,353.4 817.0,352.8 817.6,353.8 818.2,352.7 819.4,353.2 820.0,351.5 820.8,352.9 821.2,352.8 821.8,353.0 822.4,352.1 823.6,353.5 824.2,352.9 824.8,352.7 826.0,353.3 826.6,352.7 827.2,353.6 827.8,352.6 828.4,353.5 828.6,353.5 829.6,352.8 830.0,352.2 830.8,352.0 831.4,353.3 832.0,352.7 832.6,353.5 833.2,353.0 833.8,353.2 834.4,352.6 835.0,352.4 835.2,352.0 835.6,351.8 836.2,353.2 836.8,352.8 838.0,353.9 838.6,353.8 839.2,353.3 839.8,353.7 840.4,352.8 841.0,353.9 841.6,352.3 842.2,353.8 842.8,352.8 844.4,352.9 845.2,352.4 845.6,352.7 845.8,353.0 846.4,352.2 847.0,353.6 847.6,353.3 848.8,353.7 849.4,353.5 850.0,353.9 850.6,352.3 851.2,352.7 851.8,352.5 852.4,353.0 853.6,352.5 854.8,353.4 855.4,353.0 856.0,353.5 856.6,352.9 857.4,352.8 857.8,352.8 858.4,353.5 859.0,353.3 859.6,353.8 860.0,353.9 861.4,352.5 862.0,352.5 862.6,353.7 863.8,352.9 864.4,352.8 865.0,353.1 865.6,352.6 866.4,352.8 867.4,353.6 868.0,353.1 868.6,353.4 869.2,354.3 870.4,353.4 871.0,353.6 872.2,353.2 872.8,353.8 873.0,353.8 873.4,353.5 874.0,352.1 874.6,352.6 875.4,351.8 875.8,352.3 876.8,354.6 877.0,354.7 878.2,352.4 880.0,353.6 880.6,353.6 881.2,353.3 881.8,353.9 882.4,353.1 883.0,353.4 883.6,353.0 884.2,353.8 884.6,353.9 886.0,353.0 886.6,353.5 887.2,353.2 887.8,353.5 888.4,352.9 889.0,353.6 889.6,353.6 890.2,352.5 890.6,353.0"/><path d="M28.1,512.2L28.5,511.3 28.7,511.4 29.1,512.3 30.3,511.9 30.9,512.0 31.3,511.5 32.1,511.3 32.5,511.6 33.3,511.9 33.9,510.8 34.5,511.1 35.1,511.7 35.7,511.8 36.3,512.9 36.9,511.9 37.5,511.5 38.1,511.6 38.5,511.2 39.5,507.9 39.7,508.2 40.5,511.6 41.1,512.0 42.3,510.3 43.3,506.4 43.9,499.1 44.5,479.3 45.5,396.6 45.9,378.4 46.3,397.6 47.1,468.3 47.7,495.6 48.1,504.1 48.5,507.8 49.1,509.5 50.1,510.6 50.9,511.2 51.9,510.9 52.5,511.5 53.5,511.6 54.3,510.5 54.9,511.1 55.5,511.1 56.1,510.4 57.3,511.5 58.9,508.6 59.5,506.1 60.1,499.8 60.5,491.5 61.5,456.5 61.9,448.3 62.1,448.7 62.3,452.0 63.7,495.8 64.5,506.1 64.9,508.1 65.7,510.5 66.3,510.9 66.9,510.7 69.9,512.7 70.5,512.0 71.1,511.9 71.7,511.1 72.9,511.7 73.5,511.6 74.1,510.9 74.7,512.7 75.3,512.1 75.5,512.3 76.7,511.8 78.1,512.7 78.9,512.2 79.5,512.0 80.7,512.7 81.3,511.9 81.9,511.8 82.5,512.1 83.1,511.4 83.7,512.1 84.3,512.3 84.9,511.7 85.5,512.6 86.1,511.9 86.7,512.0 87.3,512.5 87.9,511.9 88.5,510.8 89.9,510.9 91.1,512.2 92.5,511.7 93.3,511.9 93.9,512.3 94.5,511.0 95.1,511.9 95.7,511.4 96.3,511.2 97.5,511.8 98.1,511.6 98.7,511.0 99.3,511.3 99.9,511.4 100.3,511.1 100.5,511.1 101.7,513.0 102.3,512.1 102.9,511.8 103.5,511.8 104.1,512.3 104.7,512.6 105.3,511.2 105.9,512.0 107.1,511.9 107.9,512.3 108.9,512.1 110.1,511.4 110.7,511.6 111.3,511.4 111.9,512.5 113.3,513.5 114.5,512.8 114.9,513.0 115.5,512.3 116.1,511.9 116.7,513.1 117.3,512.1 117.9,513.0 118.5,512.1 119.1,512.4 119.7,510.8 120.9,512.0 121.5,511.8 122.3,512.2 123.3,512.1 123.9,511.7 124.5,512.1 124.9,512.2 125.7,511.3 126.9,512.1 127.5,512.1 128.1,512.8 128.7,512.0 129.3,512.6 130.1,511.9 130.5,512.0 131.3,512.8 132.3,512.9 132.7,512.9 133.5,512.0 134.1,510.8 134.7,511.0 135.3,512.2 136.5,511.7 137.1,512.5 137.7,512.4 138.9,512.7 139.5,512.2 140.1,512.7 140.7,512.7 141.3,513.0 141.9,512.6 142.5,511.7 143.1,511.3 143.7,511.3 144.3,512.3 144.9,511.5 145.5,511.3 147.3,512.1 148.5,511.8 149.1,512.0 149.7,511.4 150.3,511.8 150.9,513.5 151.5,512.3 152.1,512.6 153.9,512.0 154.5,511.4 155.1,511.8 155.7,510.7 156.3,511.3 157.5,511.5 158.7,513.3 159.3,512.5 160.1,511.9 160.5,512.0 161.1,512.6 161.7,511.8 162.3,512.6 162.7,512.6 163.9,510.4 164.7,512.4 165.1,512.4 165.3,512.2 165.9,512.7 167.1,511.2 167.9,511.9 168.9,511.4 169.5,511.9 170.1,511.6 170.7,511.6 171.3,512.3 171.9,511.9 173.1,511.9 173.7,511.5 174.3,511.5 174.9,512.3 175.5,512.4 176.1,513.2 177.3,512.0 177.9,511.8 179.1,512.6 179.7,510.8 180.9,512.2 181.5,512.0 182.7,512.9 183.3,512.8 183.9,511.2 184.5,511.8 184.7,511.1 185.1,510.8 185.9,511.7 186.9,510.9 188.1,511.0 189.3,511.6 189.9,511.5 191.1,512.7 191.7,512.3 192.3,512.8 192.9,512.4 193.5,511.3 195.1,513.4 195.9,512.3 196.5,510.8 197.1,511.4 198.9,511.9 199.5,512.8 200.1,511.5 200.7,512.0 201.7,512.4 202.9,511.0 203.1,511.0 203.7,511.6 204.3,512.5 204.9,512.4 205.5,512.7 206.1,512.1 206.9,512.3 207.3,511.9 207.9,511.9 208.5,511.2 209.1,511.5 209.3,511.1 209.7,511.0 210.7,512.3 211.5,512.5 212.1,511.1 212.7,512.7 213.3,511.7 213.9,512.0 214.5,511.2 215.1,511.6 215.7,511.1 216.9,512.3 217.5,512.3 218.1,512.9 219.3,511.6 220.5,511.9 221.1,511.4 221.7,512.6 222.3,512.1 223.5,512.0 224.1,511.5 224.7,512.2 225.3,512.0 225.9,512.1 226.5,512.9 227.5,512.0 228.3,510.8 229.5,510.5 230.1,511.6 230.7,511.7 231.3,512.1 231.9,511.2 232.5,511.2 232.9,510.8 234.3,512.1 234.9,513.4 235.5,513.0 236.1,513.2 236.7,512.4 237.3,513.1 237.9,513.1 238.5,512.5 239.7,511.8 240.5,512.1 240.9,512.7 241.9,513.6 242.7,511.9 243.1,511.5 243.9,512.5 244.5,512.7 245.1,512.3 245.7,510.8 247.5,512.3 248.1,511.8 248.7,511.9 249.3,511.6 249.9,511.0 251.1,512.4 251.7,511.6 252.3,511.8 252.5,510.9 253.3,505.4 253.7,500.0 254.3,483.0 255.1,442.5 255.3,436.8 255.5,436.6 256.9,495.6 257.3,502.4 257.7,506.0 258.1,508.2 258.9,510.4 259.9,511.1 260.7,511.4 261.3,511.1 261.9,511.2 262.5,512.1 263.1,512.0 263.7,512.4 264.9,512.9 265.3,513.5 266.1,512.5 266.7,511.2 267.3,511.6 269.1,512.1 269.7,511.7 270.5,512.1 272.7,510.8 273.1,511.1 273.9,512.3 274.5,512.1 275.7,513.1 276.3,512.2 276.9,512.9 277.5,511.5 278.3,510.5 278.7,510.5 279.3,511.8 279.9,511.8 280.5,513.3 280.9,513.5 281.1,513.5 281.7,512.6 282.3,513.2 282.9,511.5 283.5,510.7 284.1,508.2 284.9,495.0 285.9,453.1 286.3,443.1 286.5,444.3 287.3,460.7 287.5,460.0 288.1,446.9 288.3,444.6 288.5,446.4 289.5,487.2 290.1,501.7 290.5,506.1 291.3,510.3 291.5,510.5 291.9,510.5 292.5,509.8 293.5,505.3 294.3,494.2 295.9,438.4 296.1,438.5 296.5,448.0 297.7,494.8 298.3,504.0 299.1,509.4 300.5,511.2 301.5,511.4 301.7,511.2 302.1,511.2 302.7,512.2 304.5,511.7 305.1,512.1 305.7,511.1 306.9,512.3 308.1,511.3 308.7,511.9 309.3,512.1 309.5,512.5 309.9,512.5 310.5,512.1 310.9,511.5 311.7,511.4 312.3,512.4 312.9,512.5 314.1,511.4 314.7,511.5 315.3,511.1 315.9,511.7 316.5,510.7 317.1,511.4 317.3,511.2 318.5,512.7 318.7,512.7 319.5,511.9 320.1,511.9 322.3,507.8 322.7,506.0 323.1,502.3 324.1,480.9 325.3,429.8 325.7,420.7 325.9,420.7 326.1,424.0 327.3,474.1 328.1,495.4 328.5,501.2 329.1,505.9 329.5,506.8 330.1,507.5 330.3,507.4 330.5,507.0 330.9,505.1 331.5,498.7 332.9,451.6 333.1,447.7 333.3,447.6 334.5,489.8 335.1,503.7 335.5,507.4 336.3,510.7 336.9,510.8 337.5,511.8 338.1,512.3 339.3,512.1 339.9,511.6 341.1,511.5 342.3,512.6 342.9,511.4 343.5,510.8 344.1,511.4 345.3,512.3 345.9,512.0 346.5,512.4 347.1,511.3 347.7,512.0 348.3,512.3 348.9,512.0 349.5,512.7 350.1,512.8 351.3,511.5 351.9,512.3 352.5,511.6 353.1,512.4 353.7,511.4 354.9,512.4 355.5,513.6 356.1,512.4 356.3,512.3 356.7,512.8 357.3,512.8 357.9,513.1 358.5,512.5 359.1,512.5 359.7,512.3 360.9,511.3 361.5,511.9 362.7,511.7 363.3,511.0 363.9,512.6 364.5,513.2 365.3,513.5 366.3,512.5 366.9,512.2 367.5,511.4 368.1,511.1 369.3,511.6 369.9,511.3 370.5,512.3 371.1,512.1 371.7,512.4 371.9,512.7 372.3,512.5 373.1,511.2 373.3,511.2 374.1,512.2 374.5,513.0 375.3,512.6 375.7,512.0 376.5,511.3 377.1,511.9 378.3,512.1 378.9,512.6 379.7,512.7 380.7,512.5 381.3,511.6 381.9,511.8 382.3,511.5 383.7,512.1 384.3,513.3 385.5,511.9 386.1,512.5 386.7,511.9 387.9,512.4 388.5,512.0 389.1,512.2 389.7,513.2 390.1,512.9 390.9,511.7 393.3,512.5 393.9,512.3 394.5,512.7 395.1,512.5 395.7,511.8 397.5,511.6 398.7,513.2 399.1,513.3 399.9,512.7 400.5,513.1 401.7,511.6 402.3,511.9 402.9,510.7 403.5,511.3 404.1,512.2 404.3,512.3 405.3,512.2 405.9,511.6 406.5,511.5 407.1,511.8 408.3,511.1 408.9,511.0 409.5,511.7 410.7,512.0 411.3,512.6 411.9,511.8 412.5,512.4 413.5,512.0 414.7,512.8 415.5,512.2 416.1,511.4 416.7,512.5 417.3,511.5 417.9,511.1 418.5,512.2 420.3,511.3 421.5,512.4 422.1,511.6 422.7,512.9 423.3,513.6 423.9,511.9 425.7,511.5 426.3,510.8 426.9,512.1 427.7,512.2 428.1,512.5 428.7,511.6 429.3,512.5 429.9,512.6 430.5,512.4 431.1,511.3 432.3,511.5 432.9,512.4 433.1,512.4 433.5,512.2 434.1,511.4 434.3,511.4 434.7,512.0 435.9,512.7 438.3,511.5 438.9,512.0 439.5,513.1 440.9,512.1 441.3,512.0 442.1,512.3 443.1,511.4 443.7,511.4 444.3,511.2 444.7,511.5 445.5,512.7 446.1,512.1 446.7,512.9 447.3,511.9 447.9,511.9 448.7,513.2 449.1,513.1 449.9,511.2 450.9,512.0 452.5,511.4 453.3,512.3 453.9,513.8 455.1,510.9 455.7,512.0 456.3,512.5 456.9,512.8 457.5,512.7 457.7,513.1 458.1,513.2 459.3,511.3 459.9,512.4 460.5,511.8 461.1,511.9 462.3,511.6 462.9,512.1 463.5,511.8 464.1,512.1 464.7,511.5 465.5,511.4 465.9,511.6 466.5,511.3 467.1,512.1 467.7,511.9 468.3,512.5 468.9,511.8 469.5,512.7 470.1,511.7 470.7,512.0 471.3,511.6 471.9,512.1 473.1,511.2 473.3,510.8 473.7,510.7 474.5,511.1 474.7,510.9 475.7,508.5 476.1,507.0 476.5,504.0 477.1,494.8 477.5,482.8 478.5,428.0 478.9,417.0 479.3,427.9 480.5,490.9 481.3,505.5 481.7,508.3 482.3,510.3 482.7,510.9 483.3,511.2 483.9,510.5 484.5,510.8 485.1,511.5 485.7,511.4 486.3,511.0 486.9,511.4 487.5,511.5 488.1,511.2 488.7,511.2 489.9,510.2 490.5,511.7 491.1,511.8 491.7,512.3 492.9,511.4 493.5,511.4 494.1,511.7 494.7,511.7 495.3,510.6 495.9,511.4 496.5,511.4 496.7,511.7 497.1,511.8 498.3,511.5 498.9,512.0 499.5,508.9 499.9,507.9 500.3,508.3 501.1,510.3 501.9,511.3 502.5,511.7 503.1,511.0 503.7,512.0 504.5,512.2 504.9,512.1 505.9,512.9 506.1,512.9 507.3,511.2 507.9,511.6 508.5,510.8 509.1,511.5 509.7,511.1 510.3,512.2 510.9,512.7 511.5,511.5 512.3,511.4 513.3,512.4 513.9,511.7 514.5,511.9 515.1,511.8 515.7,510.1 516.3,510.0 517.3,503.1 518.9,472.5 519.1,472.7 519.3,475.2 520.3,498.1 520.7,503.5 521.3,508.1 521.7,509.7 522.1,510.1 522.9,510.1 523.5,510.4 524.1,509.3 525.3,510.8 525.9,510.4 526.3,509.3 527.3,505.0 527.9,499.8 528.3,493.0 528.9,475.2 529.9,425.4 530.3,414.0 530.5,414.2 530.9,425.3 532.3,486.9 532.9,499.5 533.3,503.7 533.9,505.8 534.3,506.1 534.9,506.9 535.5,505.4 536.1,500.5 536.9,482.4 537.7,450.0 538.1,441.4 538.3,442.5 538.5,447.3 539.5,479.9 539.7,482.0 539.9,482.4 540.1,481.1 540.5,473.4 541.9,426.9 542.1,426.9 542.3,430.6 543.5,477.3 544.1,491.2 544.7,497.3 545.1,499.4 545.7,500.3 546.1,499.8 546.9,500.1 547.5,498.9 549.1,491.3 550.1,484.1 550.7,477.7 551.3,468.1 552.1,449.3 552.9,416.6 553.5,372.1 554.1,298.3 555.5,37.2 555.7,37.4 555.9,57.5 557.3,326.6 557.9,388.0 558.5,424.7 559.3,450.5 559.7,456.7 559.9,458.1 560.3,458.7 560.7,455.1 561.9,417.9 562.1,414.1 562.3,413.5 562.7,422.2 563.7,465.4 564.3,482.2 565.5,498.3 566.5,502.7 566.7,503.3 567.3,503.9 567.9,504.9 568.7,504.9 569.7,504.5 570.3,504.5 570.9,503.6 572.1,500.2 572.7,492.7 573.3,479.1 573.7,464.2 574.9,382.9 575.3,365.5 575.5,364.8 575.9,380.2 576.9,446.2 577.7,472.1 578.3,478.8 578.7,479.8 578.9,479.0 579.9,470.7 580.9,454.2 582.1,418.4 583.3,359.6 584.3,285.1 586.3,95.2 586.9,55.9 587.3,43.0 587.5,41.4 587.9,47.8 588.5,79.8 590.9,303.6 591.7,361.5 592.5,404.1 593.3,433.6 594.5,463.2 596.1,485.5 597.3,493.9 599.3,502.5 599.7,503.6 601.5,506.0 602.1,506.4 602.7,508.2 603.3,508.5 603.9,509.6 604.5,509.9 605.1,509.5 605.7,509.6 606.3,510.3 606.9,510.6 607.5,509.9 608.1,510.3 608.5,510.2 609.3,511.2 609.9,510.2 611.1,511.6 611.7,510.6 612.3,511.0 612.9,510.9 613.7,509.8 614.1,509.7 614.7,510.8 615.3,510.2 616.3,511.0 616.5,510.9 617.1,511.1 617.7,510.5 618.3,511.1 619.3,508.1 620.1,502.9 620.5,496.5 620.9,484.3 621.5,442.1 622.5,263.8 622.9,222.5 623.3,262.0 624.1,411.0 624.5,449.2 624.9,464.8 625.7,476.9 626.7,499.3 627.3,504.4 627.9,506.3 628.7,510.0 629.3,511.4 630.3,511.9 630.9,511.6 631.5,512.3 632.1,512.0 632.7,512.8 633.3,511.7 634.5,512.6 635.1,511.6 635.7,509.6 635.9,509.6 636.3,510.4 637.1,510.7 637.5,510.4 638.1,511.0 639.3,511.1 639.9,511.7 640.5,510.9 641.1,512.0 641.7,511.6 642.3,511.6 642.9,512.0 643.5,511.1 644.7,511.8 645.3,511.8 645.9,512.3 646.5,511.8 647.1,510.8 647.5,510.6 648.3,512.9 648.7,513.2 650.7,511.3 651.3,512.3 651.9,511.6 652.5,512.3 653.1,511.7 653.7,512.2 654.9,510.9 655.5,511.8 656.1,511.7 656.5,512.0 656.7,512.0 657.3,511.3 657.9,511.5 658.5,511.0 659.1,511.0 659.7,511.9 660.3,511.5 660.9,513.0 662.1,512.3 663.1,512.8 663.9,511.9 665.1,512.1 666.3,511.9 666.9,512.9 667.5,511.7 668.1,513.5 668.3,513.5 669.5,511.5 669.9,511.2 670.5,511.6 671.1,511.3 671.7,512.1 672.3,512.2 672.9,511.9 673.5,512.8 674.1,511.7 674.9,510.8 675.3,510.9 675.9,511.9 676.5,511.4 677.1,512.5 677.7,511.5 678.3,512.1 678.9,511.6 679.5,511.3 680.1,512.3 680.7,511.0 681.3,510.8 681.9,510.1 682.5,511.0 684.3,512.8 684.9,512.1 685.5,512.7 686.1,512.6 686.5,512.8 687.3,511.0 687.7,510.9 687.9,511.1 688.5,511.3 689.1,512.3 689.7,512.5 690.3,511.8 690.5,511.9"/><path d="M702.0,512.3L703.0,512.2 704.0,513.1 704.2,513.0 704.8,510.7 705.4,511.6 706.0,511.7 706.6,510.2 707.2,511.1 708.4,510.9 709.0,512.3 709.6,512.1 710.4,512.2 711.4,511.3 711.6,511.4 712.0,512.1 712.6,512.2 713.2,513.8 714.4,512.5 716.2,511.2 716.8,511.5 717.4,511.3 718.0,511.6 718.6,512.9 719.2,511.8 720.4,513.2 720.8,513.3 721.6,512.2 722.2,511.9 723.4,510.8 724.0,511.6 724.6,511.4 725.2,511.6 725.8,512.5 726.0,512.5 726.4,512.2 728.2,511.7 728.8,512.0 729.4,511.9 730.0,512.3 730.6,512.1 731.2,512.2 732.6,511.2 733.0,511.2 734.2,511.8 734.8,511.3 736.0,512.0 736.6,511.7 737.8,512.8 739.0,511.4 739.6,512.1 740.2,511.9 741.4,512.7 742.0,512.3 742.6,512.2 743.8,510.4 744.2,510.9 744.4,511.8 745.0,512.2 745.6,513.9 746.8,513.0 747.4,511.3 748.0,511.8 748.6,510.9 749.8,512.1 751.0,511.2 751.6,511.3 752.2,512.2 752.8,511.9 754.0,511.9 754.6,511.6 755.2,511.5 755.8,512.0 756.4,511.5 757.0,512.4 758.2,511.9 758.8,512.7 760.0,512.1 761.2,513.3 761.8,512.4 762.4,512.0 763.6,512.7 764.2,511.3 765.4,511.8 766.2,511.4 767.2,512.0 768.4,511.5 769.0,512.2 770.8,512.5 771.4,510.2 772.0,512.1 772.6,512.4 772.8,512.5 773.2,512.1 774.4,512.7 775.0,511.5 775.6,512.5 776.2,511.6 776.8,511.9 777.4,510.8 779.2,513.1 779.8,512.3 780.4,512.2 780.6,511.7 781.0,511.6 781.6,512.3 782.2,511.7 783.2,512.3 783.4,512.2 784.0,510.7 784.6,511.6 785.2,511.6 786.4,512.7 787.0,513.0 787.6,511.4 788.2,512.0 788.8,511.3 789.4,511.8 790.6,511.5 791.2,512.9 792.4,511.4 793.0,512.0 794.2,511.7 794.8,512.0 795.4,511.6 796.0,512.4 796.6,511.7 797.2,512.7 797.8,511.8 798.4,511.8 799.0,512.6 799.6,511.1 800.2,511.5 800.8,510.8 801.4,511.4 802.0,512.5 802.6,512.7 803.2,512.3 803.8,512.7 804.4,511.0 805.6,512.0 806.2,511.9 806.8,512.2 807.4,511.6 808.0,512.4 809.2,511.5 809.8,512.3 810.4,511.7 811.0,512.0 811.6,511.3 812.2,511.3 812.8,512.2 813.4,512.2 814.0,511.6 814.4,510.9 814.6,510.9 815.8,513.3 817.0,513.0 817.6,512.1 818.2,511.9 818.8,512.2 819.4,512.0 820.0,511.2 820.6,510.9 821.8,512.9 823.0,512.8 823.6,512.0 824.2,512.4 824.8,513.0 825.4,511.3 826.0,511.2 826.6,511.8 827.2,511.8 827.8,512.4 828.4,512.1 828.8,512.5 829.6,512.2 830.0,511.7 830.8,511.6 831.4,512.5 832.6,511.7 833.2,511.6 833.8,512.7 834.4,511.6 835.0,513.3 835.6,512.7 836.2,513.1 836.8,511.8 837.4,512.1 837.8,511.6 838.0,511.6 838.6,511.9 839.2,511.8 840.4,512.4 841.0,512.5 841.6,512.1 842.2,512.1 842.8,511.5 843.4,512.2 844.2,511.3 845.2,511.4 845.8,510.7 846.4,511.1 848.2,511.5 848.8,512.1 850.6,510.9 851.2,511.8 851.8,512.1 853.4,510.9 854.8,512.1 855.4,512.2 856.0,513.1 856.6,512.6 857.4,511.2 857.8,511.1 858.6,511.7 859.0,511.5 859.6,511.6 860.2,511.1 860.8,511.6 861.4,511.5 862.0,511.0 862.6,512.2 863.2,511.7 863.8,512.8 864.4,511.1 865.2,511.5 865.6,512.0 866.2,512.2 866.8,511.7 867.4,512.5 868.6,512.2 869.0,512.8 869.2,512.9 870.4,511.8 871.0,512.1 871.6,511.8 872.2,512.2 872.8,513.8 873.0,513.8 874.0,513.0 874.6,513.2 875.2,512.8 875.8,512.0 876.4,512.6 877.0,512.1 877.6,512.2 878.2,511.9 878.8,512.8 879.4,512.7 880.6,510.9 881.2,511.6 882.0,511.4 882.4,511.6 883.0,513.2 883.6,512.2 884.2,511.9 884.8,510.8 886.0,512.3 886.6,512.1 887.2,512.2 887.8,512.6 888.4,513.7 889.0,512.6 889.6,512.1 889.8,512.0 890.6,512.3"/><path d="M28.5,662.3L28.9,662.4 29.5,661.4 30.1,661.1 30.9,657.4 31.5,651.5 32.3,638.7 32.7,635.8 33.1,638.5 34.1,651.7 34.7,655.7 35.5,658.2 37.3,657.2 37.9,657.9 38.1,657.8 39.1,655.3 39.9,652.2 40.5,647.6 41.3,635.6 41.7,632.3 42.1,634.5 43.1,647.4 43.7,650.8 44.1,652.1 44.7,653.2 45.1,653.2 46.3,651.4 46.9,649.5 47.5,648.5 48.7,638.7 50.3,615.8 50.7,613.4 50.9,613.0 51.5,613.5 51.7,613.3 52.1,611.2 53.5,587.8 53.7,586.1 53.9,585.9 54.5,594.6 55.9,631.2 57.1,645.4 57.5,646.1 57.9,645.8 59.3,640.9 59.7,640.3 60.1,641.1 60.3,642.1 61.9,655.1 63.1,657.3 63.7,657.9 64.3,659.6 64.9,659.6 65.5,659.2 66.1,660.3 66.5,660.2 67.9,659.4 68.7,657.7 69.3,657.8 70.5,660.6 71.5,661.9 71.9,662.0 72.7,662.6 73.3,662.5 73.9,663.3 74.5,662.5 75.9,664.0 76.3,663.8 77.3,662.2 77.5,662.2 78.1,663.4 78.5,663.8 78.7,663.6 79.3,664.0 79.9,662.4 80.5,662.9 81.1,662.5 82.3,663.5 82.5,663.4 83.5,662.3 84.1,660.4 84.7,660.4 85.1,659.9 87.5,654.4 88.3,653.1 88.9,655.1 89.5,654.9 90.3,656.7 91.5,661.2 91.9,661.3 92.5,661.2 93.1,662.7 93.7,662.6 94.3,663.7 94.9,663.8 95.5,664.6 96.1,665.0 96.7,666.1 97.3,665.3 97.9,666.1 98.5,665.4 99.7,666.3 100.3,666.3 100.9,667.3 101.5,667.5 102.7,666.5 103.3,666.9 103.9,666.4 104.5,667.6 105.7,668.1 107.1,666.5 107.5,666.5 108.7,667.5 109.3,667.5 109.9,668.4 110.5,667.1 111.1,667.2 111.7,667.8 112.3,667.6 112.9,668.3 113.5,667.2 114.1,668.0 114.7,668.2 115.3,667.0 115.9,668.0 116.5,667.2 117.1,667.5 117.5,667.3 118.9,668.3 119.5,667.4 120.1,667.5 120.7,668.2 121.3,667.0 121.9,668.3 122.5,668.6 122.7,668.6 123.1,668.2 123.7,668.4 124.3,667.2 124.9,668.0 125.3,668.0 125.5,668.2 126.1,667.7 126.7,668.8 127.3,668.1 127.9,668.1 129.1,668.3 129.7,669.1 130.3,667.7 130.9,667.8 131.5,666.9 131.9,666.8 132.1,666.9 132.7,667.9 134.5,668.8 135.1,669.4 135.7,668.9 136.3,668.9 136.9,669.5 138.1,668.9 138.7,669.1 139.9,667.5 140.5,667.7 140.9,667.3 142.1,668.2 143.5,668.7 144.1,668.4 145.3,668.8 145.9,668.4 146.5,669.0 147.3,668.7 148.7,667.5 149.5,668.2 150.1,668.5 151.3,667.0 151.9,667.6 152.5,668.0 153.7,667.3 154.3,666.4 154.9,666.0 155.5,666.5 156.1,666.5 157.3,665.9 157.9,666.1 158.5,664.8 159.1,664.8 160.3,663.3 162.1,660.1 163.3,657.7 163.9,655.1 164.5,654.3 165.1,652.4 166.7,649.2 167.3,648.7 167.5,648.7 168.1,650.8 168.7,651.7 169.3,654.3 169.9,655.4 170.5,658.3 171.7,660.6 172.3,662.2 172.9,662.0 174.7,665.2 175.3,665.4 176.5,666.8 177.1,665.9 177.3,665.9 177.7,666.3 178.3,665.9 178.9,667.8 179.5,666.7 179.9,666.4 180.7,666.5 181.9,667.5 182.5,666.7 183.1,667.3 183.9,667.4 184.9,668.0 185.5,667.0 186.1,667.9 186.5,667.8 186.7,668.0 187.3,667.6 187.7,668.1 188.5,668.0 189.1,668.5 189.7,668.0 190.3,668.4 191.7,668.0 193.3,668.7 193.9,667.9 194.5,668.3 195.7,668.4 196.3,667.3 196.9,667.1 197.7,664.8 198.3,660.7 199.1,652.1 199.3,650.7 199.5,650.6 201.1,663.1 201.7,666.0 202.3,667.5 202.9,667.8 203.5,668.6 204.1,667.8 205.9,670.2 207.1,668.2 207.7,669.0 208.3,668.0 208.9,668.1 209.5,668.4 210.1,667.7 210.7,669.1 211.1,669.2 211.3,669.2 211.9,668.1 212.3,668.0 213.7,669.1 214.3,669.3 214.9,668.0 215.5,668.8 216.1,668.9 216.3,669.2 217.3,669.4 217.9,668.4 218.9,667.6 219.1,667.6 219.7,668.2 220.3,668.5 220.9,668.5 221.5,669.5 222.9,667.7 224.5,668.8 225.1,668.2 225.7,669.1 226.3,668.4 226.9,668.1 227.5,668.8 227.9,668.7 228.7,667.5 229.3,667.6 229.9,668.7 230.5,668.3 231.1,668.8 231.7,668.5 232.3,667.7 232.9,669.0 233.5,668.7 234.1,669.3 234.5,669.0 234.7,668.4 235.3,668.5 235.9,666.5 236.5,667.1 237.1,667.0 237.7,667.3 238.3,668.4 238.9,668.6 239.7,668.0 240.1,667.9 240.7,668.5 241.3,668.0 241.9,668.2 242.3,668.0 243.1,668.1 244.3,666.9 244.9,666.6 245.5,667.9 246.1,668.6 246.7,667.4 247.5,666.5 247.9,666.7 248.5,667.6 249.7,666.7 250.1,666.0 251.5,668.3 252.1,668.1 252.7,666.8 253.3,667.7 254.1,667.8 255.7,666.8 256.3,667.3 257.5,667.3 258.1,669.1 258.7,667.9 259.3,668.1 259.9,667.7 260.5,667.9 261.7,667.5 262.3,666.7 263.1,666.3 264.1,666.1 264.7,666.6 265.3,666.4 265.9,667.0 266.5,666.9 267.1,667.1 267.7,666.5 268.3,666.8 268.9,666.4 269.5,667.4 270.1,667.7 270.7,667.0 270.9,667.3 271.3,667.3 272.1,665.7 272.3,665.6 273.5,666.2 274.3,666.0 274.9,665.4 276.1,666.9 277.3,664.8 277.9,664.6 278.7,664.7 279.7,666.1 280.3,665.3 280.9,666.0 281.5,666.1 282.1,666.6 282.7,664.8 283.9,665.2 284.5,664.0 285.1,664.0 285.7,665.2 286.3,664.5 286.5,664.7 286.9,664.5 287.9,663.0 288.1,663.1 288.7,664.3 289.3,663.7 289.9,664.9 290.3,665.2 290.5,665.4 291.1,664.8 291.7,665.6 292.9,663.6 293.5,664.0 294.1,663.9 294.7,663.1 295.5,663.1 295.9,662.8 296.5,661.0 297.1,660.3 297.7,657.2 298.9,653.5 299.5,654.3 300.3,653.8 300.7,653.1 301.9,645.9 302.3,644.6 302.7,645.4 302.9,646.5 304.1,656.0 304.7,658.8 305.5,660.2 306.7,660.7 308.5,659.0 309.1,660.1 309.7,660.1 310.3,659.6 311.5,660.0 312.5,658.7 313.7,657.6 313.9,657.5 314.5,657.7 314.9,657.6 315.7,656.6 316.3,655.1 317.5,650.7 317.9,647.2 318.7,636.8 320.1,609.0 320.5,606.0 320.7,606.3 321.1,610.7 322.3,635.2 323.1,645.3 323.9,650.4 324.3,651.9 324.7,652.4 325.9,652.3 326.5,653.2 327.1,652.8 327.7,651.8 328.3,652.4 330.1,650.8 331.1,650.5 331.9,649.8 332.5,649.9 334.5,644.6 335.1,643.9 336.1,644.5 337.3,647.6 337.9,647.2 338.5,647.3 340.1,645.4 340.9,644.8 341.5,646.5 342.7,647.5 343.3,648.6 343.7,648.5 343.9,648.0 344.5,647.5 345.1,646.5 345.7,647.4 346.9,648.2 348.7,646.9 349.3,647.7 350.3,647.6 351.7,649.4 354.1,649.5 354.7,649.8 355.9,649.6 356.5,650.1 357.1,650.3 357.7,651.1 358.3,650.0 358.9,651.1 359.3,651.3 360.1,651.4 360.7,650.9 361.3,651.2 361.9,652.2 363.1,652.7 363.7,652.4 364.5,654.1 364.9,654.3 365.9,653.7 367.1,655.4 368.3,654.9 369.7,655.1 370.5,656.1 371.1,656.4 371.5,656.1 371.7,655.6 372.3,652.8 373.7,637.4 374.1,640.2 375.1,652.7 375.7,656.3 376.3,658.1 376.9,658.1 377.5,658.7 378.1,658.6 378.7,659.7 379.9,659.8 380.5,659.4 381.7,660.6 382.3,660.6 382.9,660.0 383.5,660.7 384.1,660.4 384.7,660.5 386.7,661.4 387.1,661.3 387.7,661.5 388.3,660.5 388.9,660.8 389.5,661.9 390.1,662.2 390.7,662.9 391.3,661.6 391.9,662.3 392.5,662.4 393.1,662.9 393.7,662.7 394.3,663.4 394.9,663.7 395.7,663.3 396.1,662.9 396.7,663.0 397.1,662.7 397.9,663.9 398.5,663.0 399.1,663.9 399.7,663.3 401.5,663.8 402.1,664.7 402.7,664.2 403.3,664.4 403.9,664.2 404.5,664.4 405.1,663.1 405.7,663.7 406.1,663.3 406.3,663.4 406.9,664.9 407.3,664.7 407.5,664.4 408.1,664.6 408.7,664.1 409.3,664.5 410.5,666.0 411.1,665.8 411.3,666.2 411.7,666.1 412.9,663.9 413.5,664.7 414.1,663.7 415.3,665.3 415.9,664.9 417.1,665.2 418.3,666.5 419.1,666.4 419.5,665.7 420.1,665.2 420.7,665.8 422.5,665.8 423.1,666.3 424.3,665.9 424.9,667.2 425.5,666.9 426.1,665.8 426.7,665.8 426.9,665.1 427.3,664.7 427.9,666.8 428.1,666.9 429.5,666.3 429.7,666.4 430.3,667.7 430.9,667.5 431.5,666.4 432.1,666.6 432.7,666.2 433.3,667.4 433.9,666.2 435.1,666.6 435.7,667.5 437.3,666.2 438.1,666.7 438.7,666.0 439.3,665.8 439.9,666.1 440.5,665.7 441.1,667.1 442.3,666.8 442.5,667.1 442.9,667.1 444.1,666.7 445.1,667.4 445.9,666.9 446.5,666.3 448.3,667.3 449.5,666.4 450.1,667.0 450.7,666.4 451.3,667.7 451.7,667.8 454.3,666.8 454.9,666.8 455.5,667.4 456.1,666.3 456.7,666.9 457.9,666.9 458.5,666.6 459.3,667.0 460.9,666.2 461.5,666.9 462.1,666.2 462.7,666.6 463.9,666.9 464.5,666.3 465.7,666.5 466.3,667.1 466.9,666.7 467.5,667.5 468.1,667.8 468.7,666.6 469.3,666.1 471.1,665.6 471.7,665.6 472.5,666.5 474.1,666.2 474.7,665.7 475.3,665.9 475.9,665.4 476.5,666.0 477.1,665.6 477.7,666.4 478.9,666.8 479.5,666.8 480.1,666.0 480.7,666.6 481.9,665.7 482.5,664.9 483.1,665.3 483.7,664.2 484.3,665.2 484.9,665.4 485.3,665.5 486.7,665.0 488.3,657.4 488.9,655.9 489.3,656.9 489.9,660.5 490.9,664.2 492.1,664.3 492.7,664.1 493.3,664.2 493.9,663.8 494.5,662.9 495.3,659.4 495.9,652.7 496.3,642.6 496.9,609.9 497.7,521.3 498.1,498.5 498.5,521.7 499.5,623.9 500.1,648.1 500.5,655.3 501.1,660.4 501.3,660.8 501.7,660.8 502.9,662.4 503.5,661.6 504.1,661.4 504.7,662.0 505.3,661.5 506.3,660.0 506.7,658.9 507.7,653.7 508.5,641.9 508.9,632.3 510.3,574.6 510.7,567.8 511.1,574.1 512.1,617.7 512.9,641.0 513.3,647.6 513.9,653.5 514.5,657.3 515.1,659.0 515.3,659.3 516.7,659.4 518.5,658.3 519.1,658.2 519.7,656.8 520.1,656.6 520.5,655.9 520.9,654.4 521.9,643.6 523.5,611.2 523.7,609.1 523.9,608.7 524.3,612.5 525.3,632.3 525.7,636.6 525.9,637.4 526.1,637.4 526.7,631.6 528.1,606.4 528.3,606.7 528.7,611.7 529.9,637.8 530.3,643.2 530.9,648.2 531.3,649.6 532.1,650.9 532.9,651.7 533.5,649.9 534.1,651.5 534.7,651.8 534.9,651.7 535.9,650.5 537.1,647.8 538.3,642.2 540.1,625.4 540.5,622.8 540.9,621.8 541.3,622.7 541.5,624.4 543.1,640.2 544.9,647.7 545.3,648.4 546.7,648.9 547.3,649.8 547.9,649.3 548.5,649.3 550.3,650.5 550.9,649.9 551.5,650.6 552.1,650.0 552.7,651.5 552.9,651.6 553.3,651.6 553.9,650.4 554.5,650.5 555.5,647.0 555.9,643.9 557.1,623.7 557.5,619.7 557.7,620.0 557.9,621.5 559.1,637.6 559.3,638.8 559.5,639.2 559.7,638.9 560.3,634.4 561.5,614.6 561.9,612.9 562.3,616.2 563.3,636.9 563.9,645.4 564.3,648.7 565.1,652.5 565.3,653.2 565.5,653.3 565.9,653.2 566.7,651.4 567.1,649.6 567.9,642.1 568.5,629.6 569.5,597.9 569.9,591.1 570.1,591.5 570.5,598.9 571.9,638.6 572.9,648.2 573.3,649.9 573.7,650.3 574.3,648.2 574.7,644.7 575.5,632.3 576.1,616.6 577.1,576.7 577.5,569.8 577.7,570.6 577.9,574.1 579.3,612.9 579.7,617.9 579.9,618.8 580.1,619.0 580.7,616.0 581.5,605.3 582.7,570.5 583.7,521.3 584.7,445.5 587.5,101.4 588.1,55.9 588.5,47.6 588.9,57.6 589.5,103.3 591.9,406.8 592.7,480.5 593.5,534.5 594.5,579.8 595.7,612.7 596.5,627.1 597.3,637.5 597.7,641.6 598.9,649.6 600.7,657.2 601.1,658.0 601.9,658.8 602.5,660.1 603.1,660.8 603.7,662.5 604.3,662.8 604.9,664.4 606.1,663.3 606.3,662.9 606.7,662.9 607.3,663.7 607.9,665.5 608.5,664.7 608.9,664.6 609.1,664.9 609.7,664.7 610.1,665.4 610.9,666.2 611.5,665.8 612.1,666.0 612.7,667.2 613.3,666.5 614.1,666.6 614.5,666.2 615.1,666.7 615.7,666.0 616.3,667.3 616.9,666.6 617.5,667.4 617.9,666.9 618.7,664.8 619.3,663.8 620.3,657.1 620.7,650.6 621.1,638.0 621.7,599.9 622.9,404.7 623.3,370.3 623.7,404.6 624.9,598.7 625.5,634.4 626.1,645.7 626.3,646.4 626.5,645.7 626.7,643.0 627.3,623.8 628.5,543.7 628.7,538.1 628.9,536.8 629.3,539.2 629.5,538.4 630.1,525.5 630.3,525.0 630.7,541.3 631.9,633.7 632.7,656.0 633.1,661.4 633.7,665.9 634.3,666.6 634.9,668.2 635.5,668.7 636.1,667.7 636.7,667.9 637.5,668.6 638.9,667.1 639.7,668.9 640.1,668.9 640.3,668.4 640.9,668.2 641.3,667.7 642.1,667.3 642.7,668.2 643.3,668.0 643.9,668.4 644.5,669.8 645.1,668.9 645.3,668.9 646.9,667.2 647.5,668.0 648.1,667.8 649.3,668.5 649.9,669.5 650.5,669.0 651.1,668.9 651.7,668.0 652.3,668.5 653.1,667.6 654.1,669.5 654.5,669.8 656.5,667.9 656.9,668.2 657.7,669.6 658.9,669.9 659.5,668.5 660.1,668.9 661.3,667.9 662.5,669.7 663.1,669.0 664.3,670.1 664.7,670.3 665.5,669.9 666.1,668.7 666.7,669.6 667.3,669.9 667.9,669.2 668.5,669.5 669.1,669.4 669.7,669.0 671.3,669.5 672.1,668.7 673.3,669.1 673.9,669.0 674.5,669.8 676.3,668.0 676.9,668.8 677.5,668.7 678.1,670.4 678.7,669.6 679.1,670.2 679.9,669.0 680.5,669.0 681.1,668.7 681.7,668.8 682.3,669.4 682.9,669.6 683.5,669.1 684.1,670.4 685.7,668.4 685.9,668.4 686.5,669.8 686.9,670.1 687.7,670.4 688.3,669.5 688.9,669.7"/><path d="M702.0,670.4L702.4,670.9 702.6,670.8 703.6,669.6 704.2,669.4 705.4,670.2 706.0,670.2 706.6,669.8 707.2,670.3 707.8,670.1 708.4,670.2 709.0,669.9 709.6,670.9 710.2,670.8 710.8,671.2 712.0,670.3 712.6,671.0 713.2,670.5 713.8,670.5 714.4,669.8 715.0,670.0 715.6,669.0 716.2,669.6 716.8,669.4 717.4,670.3 718.0,669.9 718.6,671.5 719.2,671.6 719.8,671.0 720.4,670.9 721.0,670.3 721.6,670.6 722.2,670.3 722.8,670.7 723.4,669.4 724.6,670.0 725.2,670.7 726.0,671.2 727.0,670.3 727.4,669.6 728.2,669.1 730.0,671.2 731.2,671.0 732.4,670.2 733.0,670.6 734.2,669.5 734.8,669.8 735.4,669.8 736.6,670.9 737.8,669.8 738.4,669.8 739.0,670.0 739.6,670.6 740.4,670.7 741.4,669.1 741.6,669.2 742.0,670.3 742.6,670.0 743.0,670.6 743.2,670.7 743.8,669.7 744.2,669.5 744.4,669.7 745.0,669.2 745.6,670.4 746.2,669.9 746.8,669.7 747.4,670.3 748.0,670.2 748.6,669.3 749.2,669.4 749.4,669.1 749.8,669.0 750.4,670.0 751.6,670.8 752.2,670.1 752.8,670.8 754.0,670.5 755.2,669.8 755.8,669.8 756.4,670.4 757.0,670.0 757.6,670.7 758.2,670.8 758.8,669.3 760.0,670.1 760.6,670.2 761.2,670.6 761.8,670.7 763.8,669.6 764.2,669.6 764.8,670.0 765.4,670.1 766.0,671.3 766.6,671.0 767.2,671.7 768.4,669.8 768.8,669.7 770.2,670.0 770.8,670.4 771.4,669.7 772.0,669.7 772.6,671.1 773.2,670.1 774.4,670.7 775.0,669.8 775.6,670.6 776.2,670.6 778.0,671.9 778.6,671.1 779.2,669.7 779.8,670.9 780.6,670.8 781.0,670.9 781.6,670.5 782.2,671.0 783.2,670.6 784.4,670.8 785.8,669.8 786.4,669.9 787.2,670.5 788.4,669.2 788.8,670.1 789.4,669.4 790.0,670.5 790.6,670.6 791.8,669.4 792.4,670.9 793.0,670.2 794.2,670.1 794.8,669.2 796.0,671.1 796.6,670.5 797.2,670.3 797.8,669.7 798.4,669.9 799.6,669.4 800.2,670.4 800.8,669.5 801.4,669.0 802.8,669.4 803.2,669.9 803.8,670.1 804.4,671.1 805.0,669.9 805.6,670.6 806.2,670.0 806.8,670.4 807.4,670.1 808.0,671.2 808.6,671.3 809.2,670.3 810.4,671.1 811.0,670.8 811.6,670.0 812.2,670.8 812.8,670.7 814.4,669.2 815.2,669.4 815.8,669.0 816.4,669.3 817.0,669.9 817.6,668.9 818.2,669.5 818.4,669.4 818.8,669.6 819.6,670.9 821.0,669.7 821.8,670.9 822.2,671.0 822.4,670.7 823.0,670.8 823.6,669.3 824.2,670.2 824.8,670.2 825.4,670.9 826.0,670.2 826.6,670.4 827.8,669.0 828.6,669.7 829.6,670.1 830.2,668.6 831.4,669.7 832.0,668.8 832.6,668.5 833.2,668.7 834.4,669.8 835.0,669.1 835.6,669.3 836.2,668.6 838.0,668.6 838.6,669.0 839.2,667.9 839.8,668.6 840.4,668.4 841.0,666.8 841.6,666.3 843.0,663.0 843.4,661.0 845.2,646.4 845.6,644.1 846.0,642.9 846.2,643.0 846.4,643.7 848.2,659.5 848.6,661.2 850.6,666.6 851.2,666.8 852.4,668.4 853.4,668.3 854.2,668.7 854.6,669.4 855.4,669.9 856.0,668.4 856.6,669.6 857.4,669.3 858.4,669.4 859.0,670.3 859.6,669.5 860.2,670.3 861.2,670.0 862.0,670.2 862.6,669.6 863.2,669.8 863.8,670.8 865.0,668.8 865.6,670.2 866.4,671.1 866.8,671.2 868.0,669.8 869.0,669.5 869.2,669.7 869.8,669.7 870.4,670.5 871.0,670.5 871.6,671.2 872.2,671.1 872.8,668.7 873.4,670.4 874.2,671.1 875.6,669.8 875.8,669.8 876.4,670.2 876.8,670.2 877.0,669.9 877.6,670.0 878.8,669.0 879.4,669.8 880.0,670.0 880.6,669.4 881.2,670.2 881.8,670.3 882.4,670.7 883.0,669.8 883.6,670.6 884.2,670.6 884.6,670.8 885.4,670.4 886.0,670.9 886.6,670.0 887.8,669.6 888.4,670.7 889.0,670.1 889.6,670.1 889.8,670.5 890.2,670.8 890.6,670.6"/><path d="M27.6,828.8L28.0,828.6 28.6,829.6 29.2,829.7 29.8,829.3 30.4,829.2 31.0,828.2 31.6,829.0 32.2,828.7 33.4,830.4 34.0,828.6 34.6,828.2 35.2,828.6 35.8,828.2 36.0,828.4 36.4,827.6 37.4,818.2 38.2,803.7 38.6,799.5 39.0,803.6 39.8,819.4 40.4,824.9 40.8,826.4 41.4,827.4 41.8,827.9 42.4,827.4 43.0,828.2 43.8,825.4 44.6,819.5 45.2,808.1 46.4,751.1 46.8,740.9 47.2,751.2 48.2,801.6 48.8,816.5 49.2,821.6 49.8,825.9 50.6,828.1 51.6,829.2 52.6,829.3 53.2,828.7 53.8,829.7 54.4,829.0 56.2,827.9 56.8,827.0 57.4,828.6 58.0,828.3 58.6,828.3 59.8,826.7 60.6,823.9 61.2,818.7 61.6,812.1 62.8,773.4 63.2,768.2 63.6,773.9 64.6,805.8 65.2,817.7 65.8,823.2 67.0,826.0 67.6,824.0 68.6,823.3 69.4,824.4 70.0,826.4 70.6,825.6 71.0,825.9 71.2,825.7 74.8,818.3 75.2,818.1 75.4,818.1 76.0,819.4 76.6,819.8 77.0,820.6 79.0,826.0 80.2,826.1 80.8,826.5 81.4,827.3 82.0,826.9 82.6,827.3 82.8,827.7 83.2,828.1 84.0,827.2 85.0,827.5 85.4,827.6 85.6,827.4 86.2,828.6 86.8,827.0 87.4,827.4 88.0,828.4 88.6,827.7 89.4,828.6 90.4,828.0 91.0,828.4 91.6,828.0 92.2,828.9 93.2,829.0 93.4,828.7 94.0,828.8 95.8,827.7 96.4,827.7 97.0,828.3 97.6,827.6 98.2,827.5 98.8,828.7 99.4,829.0 100.0,830.1 100.6,829.2 101.2,829.4 101.8,829.0 103.0,829.9 103.6,828.5 104.2,829.2 104.8,828.3 105.4,827.9 106.2,828.0 106.6,828.3 107.2,828.3 107.8,829.2 108.8,829.0 109.6,828.4 110.2,828.7 110.8,827.5 111.4,827.7 112.0,828.7 112.6,828.4 113.2,829.4 114.0,829.8 114.4,829.5 115.0,828.5 115.6,828.1 116.2,829.7 116.8,829.1 117.4,829.5 117.8,829.5 118.6,829.2 119.8,829.1 120.4,829.8 121.0,829.5 121.8,828.3 122.8,828.7 123.4,828.3 124.6,829.3 126.4,829.4 127.0,828.1 127.6,829.0 128.8,828.9 129.6,829.3 130.0,829.2 130.8,828.3 131.2,828.1 131.8,828.4 133.0,829.7 133.6,829.9 135.4,828.1 136.0,827.9 136.6,828.2 137.2,827.6 137.8,828.4 138.4,828.2 138.8,828.5 139.0,828.5 139.6,827.4 140.0,827.4 140.8,828.3 141.2,828.5 142.0,827.7 142.6,827.9 143.2,827.2 143.8,827.6 145.2,827.7 145.6,827.1 146.2,824.9 147.0,819.1 148.6,793.1 149.0,790.4 149.4,792.9 150.6,813.7 151.2,820.9 151.8,824.7 152.2,826.1 152.6,826.7 153.4,827.3 154.0,826.7 154.6,826.9 154.8,826.8 156.4,825.6 157.0,824.3 158.2,822.7 158.8,823.7 159.4,823.2 160.6,824.3 161.2,824.4 161.8,825.9 162.4,825.4 163.0,827.2 164.2,827.5 164.8,828.7 165.4,828.8 166.0,829.7 166.6,828.7 167.2,828.8 167.8,827.4 169.6,828.6 170.2,827.6 170.8,828.0 171.4,827.2 172.0,828.2 172.6,827.7 173.2,828.8 173.8,828.1 174.4,828.9 175.0,829.2 175.6,828.6 176.8,829.4 177.4,829.2 178.0,828.3 178.6,829.2 179.2,828.7 179.8,829.1 180.4,828.9 181.6,829.1 182.2,829.5 182.8,829.0 183.4,828.7 184.0,828.8 184.2,828.4 184.6,828.2 185.4,829.8 185.8,829.7 186.4,828.5 187.0,829.2 187.6,829.0 188.2,829.4 188.8,828.7 189.4,828.7 190.0,828.4 190.6,829.0 191.2,828.2 191.8,828.7 192.4,828.7 193.6,830.0 194.2,829.3 194.6,829.5 195.4,829.0 196.0,827.6 196.6,828.3 199.6,828.9 201.0,829.8 201.4,829.6 202.4,828.1 203.2,828.4 203.8,829.2 204.4,829.4 205.0,829.2 205.6,827.7 206.2,827.7 206.4,827.9 207.4,829.6 207.6,829.6 208.0,828.8 208.6,829.1 209.2,828.9 209.8,829.1 210.4,828.2 211.0,828.8 211.6,829.0 212.2,828.5 212.8,829.4 213.4,829.0 214.0,829.6 214.6,829.2 215.2,829.6 215.8,829.2 217.6,829.2 218.2,828.2 218.8,829.3 219.4,828.6 220.0,828.6 220.6,827.9 221.2,828.8 221.8,828.2 222.4,828.8 223.0,828.1 223.2,828.1 223.6,828.6 224.2,828.2 224.8,829.8 225.4,829.2 225.8,829.3 226.0,829.6 228.4,830.2 229.8,829.7 230.8,828.1 232.6,829.3 233.6,829.5 233.8,829.1 234.4,829.0 235.0,827.9 235.6,828.2 236.2,829.3 236.8,828.0 238.0,829.7 238.6,829.9 239.2,829.0 239.8,829.2 240.4,828.9 241.0,829.6 241.4,829.4 241.6,828.9 242.2,828.7 242.8,827.6 243.4,828.3 244.0,829.4 244.6,828.8 246.4,829.2 247.0,830.2 247.6,829.7 248.2,828.6 248.8,829.6 249.2,829.7 251.2,828.4 251.8,830.1 252.4,829.9 253.0,829.3 253.6,830.2 254.4,830.0 256.0,828.3 257.2,829.3 257.8,828.7 258.4,830.2 259.0,828.7 259.6,829.1 260.2,829.0 261.0,829.8 261.4,830.0 262.0,828.7 262.6,828.3 263.8,828.8 264.4,827.8 265.0,829.7 265.6,828.7 266.2,829.1 266.8,828.6 267.4,827.4 268.0,828.2 268.8,827.3 269.2,826.5 269.6,824.3 270.4,815.4 271.4,789.4 271.8,783.9 272.2,788.9 273.2,815.1 273.8,822.4 274.6,827.2 275.2,828.2 275.8,828.5 276.4,827.7 277.0,828.4 278.2,827.9 278.8,828.3 279.4,829.4 280.0,828.9 280.4,829.6 280.6,829.6 281.2,828.5 282.4,828.4 283.6,829.1 284.2,830.0 285.4,828.1 286.0,828.3 286.2,827.8 287.0,824.9 287.6,821.1 288.2,811.8 289.4,773.9 289.6,770.8 289.8,770.6 291.2,808.8 291.8,819.0 292.2,822.4 293.0,825.0 293.4,825.5 293.8,825.3 294.4,822.7 295.2,815.4 295.8,805.5 297.4,756.5 298.0,746.2 298.6,756.7 300.2,806.2 301.0,817.9 301.8,823.1 302.8,826.7 303.8,828.6 305.2,828.6 306.4,828.3 307.0,828.7 307.6,828.4 308.2,829.4 309.0,830.1 310.2,828.7 311.2,828.6 312.4,830.4 312.8,830.8 313.0,830.7 313.6,829.9 314.2,829.7 314.8,829.5 315.4,829.7 317.2,829.3 318.4,828.0 319.0,828.4 320.2,827.2 321.6,821.6 322.6,812.4 323.6,788.3 325.0,718.5 325.4,706.1 325.6,704.5 326.0,710.7 327.4,780.3 328.4,810.0 329.0,818.5 329.4,821.5 331.0,826.1 331.6,826.3 332.2,827.7 332.4,827.6 333.0,826.1 333.8,823.7 334.4,818.1 335.2,803.3 336.2,772.1 336.6,767.0 337.0,772.1 338.0,803.4 338.8,818.4 339.6,825.1 340.4,827.1 341.2,828.3 341.8,828.2 343.0,828.8 343.6,827.9 344.2,828.2 345.4,829.3 346.0,828.3 346.8,829.2 347.2,829.2 348.0,828.0 348.4,828.0 349.0,828.8 349.6,828.3 350.2,829.8 352.4,828.8 353.2,827.2 353.4,827.1 355.0,827.9 355.6,829.0 356.2,828.2 357.0,828.1 357.4,828.3 358.4,829.3 359.2,828.8 359.8,829.2 361.0,829.3 361.6,829.7 362.8,827.9 363.6,827.0 364.0,827.8 364.6,828.1 365.0,828.7 365.2,828.8 366.4,828.3 367.0,829.3 367.6,829.2 368.2,828.5 368.8,827.3 369.4,828.1 370.6,827.9 371.4,829.1 371.8,829.3 373.4,825.9 373.6,825.9 374.2,828.2 375.2,829.3 377.2,828.8 377.8,828.2 379.0,829.4 379.6,828.6 380.2,828.8 380.8,829.4 381.4,829.5 381.8,830.0 382.0,830.0 382.6,828.2 383.2,828.2 384.4,829.1 385.0,828.2 385.6,827.8 386.8,829.1 387.4,828.5 388.0,829.7 388.6,829.3 389.2,829.3 389.8,830.2 391.0,828.8 392.2,829.5 393.4,827.9 394.0,828.9 394.8,829.7 395.2,829.8 396.4,828.7 397.0,829.1 397.4,828.7 398.2,828.6 400.0,829.0 400.6,828.5 402.6,830.0 403.6,829.6 404.2,828.5 404.8,828.8 405.4,829.5 406.0,827.9 407.2,828.6 407.8,828.0 408.4,828.9 409.2,829.1 409.6,829.1 410.2,828.6 410.8,829.3 411.4,828.1 412.0,827.8 412.6,828.3 413.0,828.1 413.8,828.6 414.4,829.2 415.0,829.0 415.6,828.3 416.2,828.0 416.8,828.4 417.4,828.4 418.2,829.4 418.6,829.5 419.2,829.0 419.8,829.5 421.0,828.5 422.8,827.9 423.4,828.9 424.0,828.3 424.6,829.1 425.2,828.3 425.8,828.4 426.4,827.9 427.4,828.0 428.2,828.6 428.6,828.6 429.4,827.4 429.8,827.2 430.6,828.3 431.2,829.6 431.8,829.6 432.4,828.8 433.8,828.3 435.4,829.9 436.0,829.0 436.6,829.2 437.2,828.9 437.8,829.9 438.4,828.4 439.0,827.7 439.6,828.9 440.4,829.4 441.4,829.6 441.6,829.6 443.2,827.3 444.2,828.5 444.4,828.7 445.0,828.4 445.6,828.8 446.2,829.7 446.8,829.0 447.4,829.0 448.0,828.0 448.6,828.6 449.2,828.3 449.8,828.4 450.4,829.1 451.0,827.8 451.6,828.7 452.2,828.6 452.8,829.1 453.4,828.9 454.0,827.5 454.6,828.4 455.2,830.1 455.8,828.3 456.4,828.8 457.0,829.0 457.6,828.5 458.8,829.1 459.4,827.9 460.0,828.0 460.6,827.7 461.2,828.0 462.4,827.9 463.0,829.1 463.6,829.7 464.2,828.4 465.0,827.4 465.4,827.6 466.2,828.5 466.6,828.7 467.2,828.1 467.8,828.7 468.4,828.8 469.6,828.0 470.2,828.0 470.8,828.5 471.6,828.0 472.0,828.1 472.6,828.5 473.8,827.8 475.0,828.5 476.2,828.0 476.8,827.4 477.4,827.4 478.0,828.4 479.0,826.1 479.4,824.6 480.2,820.4 480.6,816.1 481.4,798.0 482.6,756.7 482.8,753.7 483.0,753.6 483.4,761.3 484.4,796.9 485.0,811.5 485.8,821.7 486.4,823.3 487.0,826.2 489.4,827.7 490.0,826.9 490.6,827.6 491.0,826.7 491.8,826.6 493.0,828.6 493.6,826.7 494.8,827.2 495.4,827.1 496.0,828.1 496.2,828.1 496.6,827.7 497.8,827.9 498.4,827.4 498.8,827.3 499.0,827.4 499.6,828.2 500.4,826.7 501.2,823.9 501.4,823.8 502.2,827.1 502.6,828.0 504.0,826.9 504.4,827.3 505.0,827.0 505.6,827.9 506.2,827.1 506.8,826.9 507.4,827.6 508.0,826.3 508.6,826.8 509.2,826.1 509.8,827.1 510.4,826.5 511.0,826.6 511.6,827.1 512.2,825.8 514.0,825.8 514.6,825.0 515.2,826.3 517.0,825.2 517.6,825.7 518.2,825.5 519.4,826.1 520.6,824.4 521.2,824.2 521.8,824.9 522.4,823.8 523.0,823.8 523.6,823.0 524.2,823.2 524.6,822.9 526.0,821.2 527.2,815.4 527.8,810.2 528.6,797.7 529.2,783.2 530.8,722.1 531.4,709.1 531.6,709.2 531.8,711.4 532.2,721.2 533.4,767.6 534.2,790.4 535.0,803.4 536.2,813.9 536.6,814.6 537.4,815.3 538.0,814.8 538.6,814.8 538.8,814.4 539.8,811.7 540.8,802.9 541.8,785.5 543.4,728.7 543.8,720.2 544.0,719.1 544.2,720.1 544.6,727.8 546.0,776.0 546.8,792.8 547.4,799.7 548.2,804.5 548.6,804.7 549.0,804.4 549.6,802.6 550.2,795.5 550.6,778.5 551.6,667.6 552.6,779.1 553.0,795.8 553.2,799.8 553.8,805.7 554.2,808.1 554.6,808.4 555.4,808.0 556.0,808.1 557.2,809.7 558.4,806.0 559.4,799.1 560.0,790.2 560.4,780.1 561.8,730.1 562.0,725.3 562.2,723.0 562.4,723.0 563.0,735.1 564.0,768.7 564.6,778.4 564.8,779.2 565.2,778.0 566.4,762.3 566.6,761.3 566.8,761.6 567.4,768.2 568.8,798.5 569.8,809.8 570.6,812.8 571.8,814.6 572.2,814.9 572.8,814.2 573.4,814.2 573.8,813.8 574.2,813.0 575.2,809.2 576.0,800.8 576.8,785.9 577.8,759.2 578.2,754.1 578.4,754.2 579.2,761.3 579.6,763.0 580.0,761.5 580.2,759.0 581.2,736.9 582.2,696.1 583.2,631.5 584.0,555.4 587.0,115.2 587.6,62.0 588.0,51.1 588.4,61.8 589.0,114.3 591.4,482.7 593.0,648.0 594.0,709.2 595.0,748.3 596.2,777.0 598.0,800.2 599.6,811.0 601.6,818.2 602.8,819.5 603.4,821.3 604.0,821.2 604.6,823.0 605.4,823.1 605.8,822.4 606.4,823.2 607.0,823.3 608.0,822.7 608.6,820.8 609.4,815.7 610.0,808.5 611.0,791.5 611.6,786.6 611.8,787.0 612.0,788.8 613.2,808.9 613.8,816.1 614.2,819.4 615.4,824.6 615.8,825.4 616.4,825.6 616.6,825.7 617.2,825.1 617.8,826.5 618.4,827.0 619.6,823.3 620.2,819.8 620.8,811.0 621.2,801.0 621.8,768.1 622.4,695.3 623.2,550.8 623.4,532.3 623.6,531.1 625.0,713.2 625.2,719.5 625.4,717.6 625.6,707.9 626.4,621.8 626.8,600.2 627.2,628.1 628.2,757.6 628.8,793.6 629.2,803.4 629.4,804.6 629.6,804.0 630.0,797.8 631.2,758.2 631.4,758.7 631.6,763.3 633.0,814.3 633.4,819.9 634.0,824.6 634.4,825.9 635.4,827.7 635.8,828.0 636.4,827.2 637.0,828.9 637.6,828.6 638.2,828.9 638.8,828.8 639.2,829.3 639.4,829.2 640.0,829.7 640.6,827.7 641.2,828.6 641.8,827.9 642.4,827.8 643.0,829.1 643.6,829.0 644.2,830.0 644.8,829.3 645.4,827.8 646.0,828.4 646.6,828.2 647.2,828.7 647.8,828.1 648.4,827.8 649.0,827.3 649.6,828.0 650.2,827.9 650.8,827.4 652.6,829.2 653.2,827.7 654.4,828.0 655.0,827.5 656.2,828.8 656.8,828.0 658.6,827.4 660.0,829.3 661.0,829.6 662.2,828.7 662.8,828.8 663.4,828.0 664.0,827.6 664.6,828.6 666.4,829.0 667.0,828.0 667.6,827.5 668.2,825.4 668.8,827.6 669.4,827.3 670.0,828.3 670.6,827.7 671.2,828.8 672.4,829.2 673.6,828.4 674.2,828.8 675.6,828.0 677.0,829.3 677.8,829.4 678.4,828.3 679.0,828.4 679.4,828.2 680.2,828.5 680.8,829.2 682.0,829.6 682.6,828.6 683.2,829.5 683.8,828.4 684.4,828.7 684.8,828.4 685.0,828.5 685.6,827.9 686.2,828.5 686.8,827.9 687.2,827.9 688.0,828.7 688.6,828.9 689.2,828.9 689.8,828.4 690.4,828.3"/><path d="M702.0,829.6L702.4,830.0 703.0,829.1 703.6,829.2 704.2,827.9 704.8,828.7 706.0,829.6 706.4,829.7 707.2,828.9 707.8,828.6 708.4,830.1 709.0,829.0 709.6,828.3 710.2,829.7 710.8,830.3 711.4,830.3 713.0,828.5 713.2,828.5 713.8,829.3 714.4,829.3 715.0,829.6 715.6,830.7 716.2,829.4 717.0,829.3 718.0,829.7 718.6,829.0 719.2,829.5 719.8,828.8 720.4,830.0 721.0,829.2 723.4,829.6 724.0,828.3 724.6,828.2 725.2,828.5 725.8,829.8 726.4,829.4 727.0,829.7 727.2,829.6 728.2,828.8 728.8,828.8 729.4,829.3 730.0,828.3 730.6,829.2 731.2,828.8 731.8,828.8 732.4,829.1 733.0,828.5 734.2,829.9 734.8,829.3 735.4,830.1 736.0,828.5 736.4,828.4 737.2,829.0 737.8,829.1 739.0,828.6 739.6,829.0 740.2,828.7 741.4,828.5 742.0,828.1 742.8,828.4 744.2,829.8 745.0,828.8 745.4,828.8 746.2,829.7 746.8,828.7 747.4,828.7 748.0,828.0 748.2,828.0 748.6,828.3 749.2,828.4 749.8,830.2 750.4,829.4 751.6,828.4 752.0,828.5 753.4,829.8 754.6,829.1 755.2,829.9 755.8,828.9 756.4,829.2 757.0,829.2 757.2,829.0 757.6,829.0 758.2,828.1 759.4,829.2 761.2,828.9 762.4,829.7 763.0,829.3 763.6,829.2 764.2,828.6 764.8,829.6 765.4,829.3 766.0,830.3 766.4,830.1 767.2,828.6 767.6,828.2 769.0,829.7 769.6,829.0 770.8,829.0 771.6,828.3 773.2,828.3 774.4,828.7 775.4,828.2 776.2,828.4 776.8,827.5 777.4,829.6 778.0,828.5 778.6,828.5 779.2,829.1 779.8,828.2 780.4,828.5 781.0,827.9 781.6,828.3 782.8,827.3 783.2,827.4 783.4,827.8 784.0,827.2 784.4,827.6 785.2,827.9 787.0,825.9 787.6,825.8 788.2,824.9 789.4,819.8 789.8,816.2 790.6,802.5 791.8,761.6 792.0,761.7 792.2,766.7 793.2,804.1 794.0,817.1 794.6,821.2 796.0,825.4 796.6,825.2 797.2,826.7 797.8,826.9 798.4,827.7 799.0,828.0 799.6,826.7 800.2,827.2 801.4,827.1 802.0,827.3 802.6,828.6 803.2,828.2 803.8,828.5 804.4,828.0 805.0,828.9 805.6,828.8 806.2,829.2 806.8,828.4 807.4,829.0 808.0,828.5 809.2,829.6 810.6,828.3 811.0,828.1 811.6,828.4 812.2,828.0 812.8,828.2 813.4,829.3 814.0,829.5 814.4,830.0 815.2,829.2 815.8,828.1 817.0,828.8 817.6,828.4 818.2,829.0 818.8,828.6 819.6,829.4 820.0,828.9 820.6,829.3 821.8,827.8 822.4,829.0 823.0,828.5 823.6,829.8 824.8,829.7 826.0,828.9 827.2,829.1 827.8,828.3 828.6,829.0 829.0,829.1 829.6,828.5 830.0,827.5 830.2,827.5 830.8,828.6 832.0,828.5 832.6,829.8 833.2,828.6 835.0,829.6 835.6,828.7 836.2,829.8 836.8,828.3 838.0,828.4 838.6,828.0 839.8,829.3 841.0,828.5 841.6,828.6 842.2,829.8 842.8,829.4 843.0,829.5 843.4,829.3 844.0,829.4 844.6,828.7 845.6,828.4 846.4,829.1 847.0,829.0 847.6,829.2 848.2,828.9 849.4,829.9 850.0,829.1 850.6,827.6 851.2,829.0 852.0,829.1 853.0,828.1 853.6,828.8 854.2,829.1 854.8,830.3 856.0,829.9 856.6,830.5 857.4,829.9 857.8,829.2 858.4,829.4 859.6,827.9 860.8,829.1 861.4,828.4 862.0,829.0 862.6,828.6 863.2,829.8 863.8,829.6 864.4,829.9 865.6,828.6 866.2,828.9 866.8,828.3 867.6,828.5 868.0,828.8 868.6,828.4 869.2,829.2 869.8,828.4 870.4,829.4 871.0,829.4 871.6,829.1 872.2,829.4 873.4,828.7 874.0,829.4 874.6,827.7 875.2,829.0 875.8,828.3 877.0,828.8 877.6,828.4 878.0,828.3 878.8,828.8 879.4,828.8 880.0,830.0 880.6,829.0 881.8,827.8 883.0,828.7 883.6,829.5 884.2,829.0 884.6,829.7 884.8,829.6 885.4,830.1 886.6,828.6 887.2,828.4 887.8,829.2 888.4,828.4 889.0,828.2 889.6,829.3 890.6,829.7"/><path d="M28.5,976.2L28.9,977.1 29.5,977.6 30.1,978.6 30.7,978.6 31.3,979.6 31.7,979.6 31.9,979.8 32.5,981.6 32.9,981.8 33.7,981.7 34.3,982.1 34.9,982.9 35.5,983.3 36.1,983.5 36.9,984.2 37.9,984.6 38.5,984.5 39.1,984.0 39.7,984.2 42.1,984.0 43.3,982.6 43.9,983.3 45.7,980.1 47.1,972.6 47.3,972.5 47.5,972.8 48.3,975.0 48.7,974.3 49.3,970.0 49.9,961.9 50.1,961.1 50.5,963.0 51.7,974.7 52.1,975.7 52.5,975.3 52.9,972.8 53.3,967.1 54.3,944.4 54.7,939.7 54.9,939.7 55.1,941.4 55.9,950.5 56.1,950.1 56.9,943.4 57.5,940.4 57.9,934.0 58.7,911.5 58.9,910.5 59.3,919.5 60.5,964.6 60.9,971.8 61.5,977.1 61.7,977.5 61.9,977.4 62.3,975.8 63.3,966.9 63.7,965.2 65.1,978.2 66.1,982.2 66.9,982.7 67.3,982.4 67.5,981.9 68.1,979.4 69.5,970.7 69.7,970.9 69.9,972.0 70.9,980.4 71.9,983.8 72.5,984.7 73.9,985.9 74.5,985.4 75.1,985.7 75.7,985.0 75.9,985.1 76.3,985.4 76.9,986.8 77.5,985.9 78.1,985.8 78.7,986.3 80.5,986.3 81.1,986.9 82.3,986.1 82.9,987.0 83.5,986.0 84.1,987.3 84.7,986.4 85.3,986.1 85.9,986.2 86.5,986.9 87.1,985.3 87.7,985.9 88.3,985.7 88.9,986.6 90.1,987.3 91.3,986.8 91.9,987.4 92.5,986.6 93.1,986.4 93.7,986.7 94.3,987.6 94.9,988.0 95.5,987.4 96.7,987.8 97.3,987.2 98.1,986.9 98.5,986.9 99.1,987.3 99.7,987.2 100.7,987.5 101.5,987.2 101.9,986.9 103.1,987.5 103.9,987.0 104.5,985.8 105.1,985.7 105.7,987.6 106.3,987.2 106.9,987.8 107.5,986.7 108.3,986.0 108.5,986.0 109.7,988.0 110.5,988.3 111.1,987.7 111.7,987.6 112.9,987.8 113.5,987.1 114.1,987.8 114.7,987.8 115.3,988.1 115.9,987.1 116.5,987.5 117.1,986.7 117.7,987.6 119.5,987.4 120.7,986.2 121.3,985.9 122.5,986.6 122.7,986.4 123.1,986.4 124.1,987.8 124.9,987.8 125.5,986.5 126.1,986.8 127.9,986.7 128.5,987.8 129.1,987.7 129.7,988.1 130.9,986.8 131.5,987.5 132.1,987.7 132.7,987.3 133.1,988.0 133.3,988.0 133.9,987.6 134.5,986.5 135.1,987.2 135.7,986.9 136.9,987.8 137.5,986.8 138.1,988.0 138.7,987.0 139.3,987.0 139.7,986.5 140.5,986.6 141.1,986.2 141.7,987.0 142.9,987.1 143.5,987.7 144.1,987.5 144.7,985.8 146.1,987.7 146.5,987.3 147.1,986.3 147.7,987.5 148.3,987.7 148.7,988.7 148.9,988.6 149.5,987.5 150.1,987.7 150.7,986.4 151.3,987.6 152.5,989.1 153.1,988.0 153.9,988.0 154.3,988.5 154.9,988.0 155.5,988.1 156.1,988.7 156.7,988.0 157.3,988.1 158.5,987.7 159.1,988.4 159.7,987.4 160.9,988.0 162.1,987.0 162.7,987.3 163.3,987.9 163.9,987.2 164.5,987.2 165.1,988.1 165.7,987.0 166.3,987.0 166.9,986.3 167.5,986.3 168.7,988.5 169.3,987.4 169.9,988.2 170.5,987.7 171.1,987.7 172.3,986.7 172.9,987.0 174.1,987.0 175.3,986.6 175.9,986.0 176.5,987.2 177.3,987.0 178.3,987.6 178.9,987.1 179.9,987.3 180.1,987.5 180.7,987.0 181.9,986.6 183.1,982.9 183.7,978.5 184.7,965.3 184.9,963.8 185.1,963.4 185.5,965.7 186.5,978.0 187.1,982.7 188.5,987.2 189.1,987.9 189.7,987.8 190.9,988.5 191.5,988.1 192.1,988.5 193.3,987.5 193.9,988.4 195.1,987.2 195.7,987.1 196.3,986.5 197.5,986.6 198.1,986.1 198.7,987.3 199.9,987.4 201.1,988.7 201.7,987.3 202.3,988.7 202.9,988.8 203.5,988.0 204.1,987.8 205.3,988.0 207.1,986.7 208.3,988.5 208.9,987.5 209.5,987.4 210.1,987.8 210.7,987.0 211.3,987.9 211.9,988.2 212.5,986.7 213.7,988.0 214.3,987.2 215.1,986.7 216.1,988.0 216.3,988.0 217.3,986.9 218.5,987.1 219.1,987.4 219.7,987.1 220.3,987.3 221.5,985.6 222.7,988.3 223.3,987.2 223.9,988.2 224.5,988.3 225.1,987.4 225.7,988.0 226.3,987.3 226.9,988.2 227.5,987.3 228.1,987.6 228.7,987.6 229.3,987.3 229.9,987.9 230.5,988.1 231.1,987.6 231.9,987.5 232.3,988.0 232.9,988.3 233.5,987.5 234.1,988.1 234.7,986.6 235.7,986.7 236.5,986.4 237.1,985.2 237.7,986.9 238.3,986.8 238.9,987.2 239.7,988.3 240.7,987.6 241.9,987.4 242.5,987.8 243.1,987.0 243.7,987.0 244.9,987.4 245.5,987.1 246.1,987.7 246.7,987.1 247.3,987.9 247.9,988.1 248.5,987.9 249.1,988.7 250.1,986.6 250.9,986.5 251.5,987.6 252.1,988.1 253.3,987.2 253.9,986.1 256.3,987.7 256.9,987.7 258.1,987.2 259.1,987.3 259.3,987.6 259.9,987.0 260.5,989.3 261.1,988.1 261.7,988.0 262.3,987.4 262.9,986.2 264.1,987.6 264.7,987.0 265.3,988.3 265.9,987.6 266.5,988.1 267.1,988.2 267.7,987.6 268.9,987.5 269.5,986.8 270.9,988.4 272.3,987.4 273.7,986.9 274.3,985.8 274.9,985.2 276.5,976.9 276.9,975.9 277.3,976.8 278.9,984.7 279.5,986.7 280.1,987.8 280.3,987.9 281.3,987.4 282.1,988.1 282.7,987.8 283.3,987.8 283.9,987.4 284.5,986.5 285.1,986.7 286.3,986.3 286.9,985.5 287.5,985.5 288.1,984.5 288.3,983.8 289.1,979.8 289.5,976.4 290.9,955.0 291.3,951.4 291.5,951.3 291.9,954.9 293.5,980.4 293.9,982.1 294.7,983.8 295.1,983.7 295.5,983.0 296.1,980.6 297.5,967.3 297.9,964.6 298.1,964.4 298.5,967.2 299.9,982.6 300.5,985.4 301.3,987.0 302.1,987.1 302.5,986.5 303.1,986.4 303.5,985.7 303.7,985.7 304.3,986.5 304.9,987.9 305.5,987.6 306.1,987.0 306.7,987.0 307.3,988.0 307.9,987.0 308.5,987.9 309.1,986.9 309.7,987.5 310.3,987.4 310.9,988.1 311.5,987.3 312.1,987.9 313.9,986.5 315.1,988.2 315.7,987.0 316.9,985.7 317.7,984.3 318.3,984.6 318.7,985.1 319.3,986.9 320.5,985.8 321.1,986.6 321.7,986.2 322.3,986.5 322.9,986.6 323.5,985.4 324.1,984.6 325.1,979.0 325.7,973.1 326.5,958.7 327.7,927.1 327.9,923.8 328.1,922.1 328.3,921.9 328.9,931.3 330.3,967.3 330.9,975.2 331.5,979.3 331.9,980.3 332.1,980.3 332.5,979.3 332.7,978.1 334.3,958.1 334.5,956.8 334.7,956.6 334.9,957.4 335.7,968.4 336.3,973.1 336.5,973.8 336.7,973.8 337.9,965.0 338.1,965.0 338.7,969.4 339.7,980.8 340.1,982.3 341.1,984.2 341.5,985.7 342.5,987.5 343.3,986.9 343.7,987.2 343.9,987.7 344.5,987.3 345.1,988.0 345.7,986.9 346.9,987.7 347.5,987.0 348.1,987.7 349.3,986.8 350.5,987.6 351.1,987.4 351.7,988.3 352.3,988.0 352.9,986.8 353.5,987.6 354.1,985.8 355.9,987.9 356.7,988.1 357.1,987.5 357.7,987.2 358.1,986.7 358.9,987.2 359.5,987.9 360.7,986.6 361.9,987.8 362.5,987.4 363.1,987.6 363.7,986.9 364.3,987.9 364.9,986.1 365.9,985.9 366.7,985.9 367.3,986.7 368.5,986.2 369.1,987.2 369.7,986.2 370.3,987.0 370.9,987.0 371.5,985.3 372.1,985.3 372.3,985.0 372.7,984.8 373.3,983.8 374.5,983.1 375.1,983.6 375.7,982.3 376.3,981.7 376.9,979.4 377.1,979.3 377.5,979.2 378.7,981.3 379.3,982.0 379.9,981.3 380.5,981.9 381.7,982.2 382.3,983.1 384.1,982.0 384.7,981.8 385.3,982.4 385.9,982.1 387.1,981.2 387.7,980.0 387.9,980.0 389.1,978.4 390.1,977.9 390.7,979.0 391.3,979.3 391.9,981.1 393.1,981.5 394.9,984.0 395.5,983.7 396.1,985.5 396.7,984.5 397.3,984.7 398.3,984.7 399.7,986.8 400.3,986.3 400.9,985.0 402.1,986.0 403.3,987.5 403.9,986.4 404.5,987.4 405.1,986.8 405.7,986.8 406.9,987.4 407.5,987.0 408.1,987.6 409.3,986.2 409.9,987.2 412.3,986.5 413.5,987.3 414.1,987.9 414.7,986.8 415.1,986.7 415.9,987.7 416.5,989.2 417.7,986.6 418.3,987.1 420.1,987.6 420.7,986.3 421.3,987.7 421.9,987.2 422.5,988.8 423.1,988.6 423.7,987.1 424.3,987.2 424.9,987.0 425.5,986.2 426.1,986.8 426.7,986.9 426.9,987.4 427.9,987.1 428.5,986.3 429.1,987.4 429.7,986.7 430.3,987.7 430.9,987.2 431.5,987.1 432.1,987.3 432.7,986.3 433.5,987.2 433.9,987.3 435.1,986.7 436.1,986.5 436.9,987.1 437.5,987.2 438.1,987.5 438.7,986.4 439.9,986.3 440.5,987.7 441.3,988.0 441.7,987.7 442.3,987.8 443.5,987.5 444.7,986.4 445.1,986.3 445.3,986.5 445.9,985.8 446.5,986.4 447.1,986.3 447.7,986.7 448.3,986.4 449.5,987.5 450.3,986.6 451.3,986.9 451.9,987.5 452.5,987.5 452.9,987.8 454.3,986.9 454.9,988.6 455.5,988.1 456.1,987.9 456.7,987.0 458.1,988.6 458.5,987.5 459.5,985.9 460.7,987.5 460.9,987.6 461.5,986.6 462.1,987.3 463.3,987.0 463.9,987.2 464.5,988.0 465.1,987.6 465.7,986.5 466.3,986.6 466.9,986.3 467.5,987.1 468.1,987.0 468.7,986.4 469.9,987.2 470.5,986.5 471.1,986.6 471.7,987.5 472.3,986.3 473.5,987.1 474.7,985.9 475.3,986.0 475.7,985.4 476.3,984.0 476.9,981.7 477.7,975.1 478.7,960.9 479.3,955.7 479.5,955.9 479.7,957.5 481.1,977.5 481.9,983.0 483.1,987.1 483.7,986.4 484.1,987.0 484.5,987.0 484.9,986.8 485.5,985.9 486.7,986.9 487.3,985.6 488.1,985.2 488.5,984.7 489.3,979.9 489.7,974.7 490.3,958.5 491.5,904.3 491.7,903.7 491.9,907.8 492.9,948.0 493.1,950.8 493.3,950.7 493.5,948.3 494.1,922.4 495.1,852.5 495.3,852.9 495.5,861.1 496.3,926.0 496.9,959.0 497.7,976.4 498.5,982.8 498.7,983.7 499.3,985.1 499.9,985.4 500.5,985.5 501.1,986.3 501.7,986.3 502.3,986.8 502.9,985.3 503.5,986.4 504.1,985.5 504.7,985.7 506.5,984.9 507.1,986.1 507.7,985.9 508.9,986.4 510.1,985.3 510.7,985.5 511.3,984.7 511.9,985.2 512.7,985.2 513.9,984.5 514.3,984.5 514.9,984.0 515.3,984.1 515.9,983.5 516.7,981.3 517.9,974.8 519.5,959.4 519.7,958.1 519.9,957.5 520.1,957.4 520.5,958.4 520.9,960.6 522.9,977.6 524.5,982.0 525.1,982.1 525.7,981.6 526.3,982.7 526.9,981.2 527.5,980.9 528.1,980.0 529.1,974.6 530.1,964.9 531.5,946.1 531.7,944.2 531.9,943.3 532.1,943.1 532.5,944.4 532.9,948.0 534.1,964.5 534.9,972.2 535.9,976.8 536.9,978.2 537.1,978.3 537.5,978.1 538.9,972.4 539.3,969.1 540.1,959.0 541.1,940.9 541.5,936.3 541.9,934.7 542.9,938.8 543.1,939.0 543.5,938.5 543.7,938.5 543.9,939.3 544.3,943.6 545.1,959.6 545.7,967.4 546.5,972.8 547.3,975.3 547.9,975.4 548.5,974.9 549.1,974.8 550.3,974.0 551.5,972.8 551.7,971.8 552.3,967.9 552.9,962.0 554.1,940.7 554.5,937.4 554.9,939.4 555.9,955.5 556.7,963.3 557.5,967.3 558.7,967.4 559.3,966.3 560.1,960.3 560.9,949.9 561.9,931.4 562.5,926.7 562.7,927.0 562.9,928.5 563.1,931.4 564.5,955.8 565.1,962.6 565.9,968.9 567.3,971.3 567.7,971.4 568.3,972.2 568.7,971.6 569.5,971.8 569.9,972.6 570.1,972.5 570.7,970.4 571.3,969.7 572.5,965.2 573.1,958.4 574.1,936.5 575.5,886.5 575.9,881.3 576.1,882.2 576.5,889.5 578.1,933.8 578.5,938.3 578.7,938.9 578.9,938.9 579.1,938.2 579.5,936.1 580.3,925.7 580.9,910.9 582.1,863.0 583.1,790.9 584.1,669.4 586.5,160.8 587.1,73.0 587.5,54.8 587.9,73.8 588.3,125.5 590.3,564.8 591.7,773.5 592.7,855.4 593.7,903.9 594.9,936.5 595.9,953.3 596.5,959.9 597.7,968.4 598.9,973.9 600.1,977.6 601.1,979.1 601.9,981.7 603.1,983.1 603.7,982.1 604.3,982.5 604.9,983.4 606.1,983.2 606.7,984.8 607.3,984.8 607.7,985.1 608.5,984.7 609.1,985.1 610.3,985.0 611.5,985.4 612.1,984.1 612.7,984.3 613.3,984.8 613.9,985.0 614.5,984.4 615.1,985.2 616.3,985.5 617.5,986.8 618.1,984.9 618.7,985.4 619.3,985.3 620.1,984.5 620.5,983.8 621.1,981.3 621.5,978.2 622.1,968.2 622.5,955.8 623.1,917.5 624.3,724.9 624.7,690.1 625.1,723.9 626.3,916.4 626.9,952.1 627.1,957.6 627.5,962.2 627.7,961.7 628.1,954.7 629.1,909.0 629.5,900.6 629.9,910.6 631.1,967.4 631.9,980.5 632.5,984.0 633.1,986.0 634.3,986.5 634.9,987.6 635.5,986.8 636.1,986.7 636.7,988.0 637.3,986.9 637.9,986.9 638.5,987.7 639.1,986.7 639.7,986.9 640.3,986.6 640.9,985.9 641.5,986.9 642.1,985.9 642.7,986.4 643.3,986.6 643.9,986.1 644.5,987.6 645.1,987.4 645.3,987.6 646.5,986.2 646.9,986.7 648.1,986.8 648.7,986.4 649.3,985.5 649.9,987.5 650.5,987.4 651.7,986.3 652.9,987.0 653.5,986.4 654.1,987.4 654.3,987.4 655.3,986.7 655.9,986.7 656.5,986.2 657.1,986.6 657.7,986.3 658.3,987.5 659.5,986.5 660.1,987.5 660.9,987.6 661.3,987.2 661.9,987.3 662.5,986.8 663.1,986.9 663.7,987.6 664.3,987.3 664.9,987.3 665.5,986.6 666.1,987.2 666.7,986.6 667.9,987.3 668.5,986.9 669.1,987.5 669.9,986.5 670.9,986.9 672.1,986.3 673.3,987.0 673.9,985.9 674.5,986.3 675.7,988.0 676.3,987.1 676.9,987.1 677.5,986.5 678.1,985.6 678.7,986.8 679.1,986.3 679.3,986.4 679.9,987.0 680.5,988.2 681.1,987.4 681.7,987.8 682.3,986.8 683.5,987.0 684.7,987.6 685.5,987.3 685.9,986.8 687.7,986.5 688.3,987.3 688.9,986.8 689.3,987.4"/><path d="M702.0,987.1L702.6,987.2 703.0,987.7 703.6,987.6 704.2,988.5 704.8,987.9 705.4,988.0 706.0,986.6 707.2,986.8 707.8,987.7 708.4,987.5 709.0,987.9 710.2,988.2 710.8,987.3 711.4,988.3 712.6,986.3 713.0,986.3 714.4,987.8 715.0,987.6 715.6,986.4 716.2,987.6 717.0,988.3 717.4,988.2 718.0,987.1 718.6,988.0 719.2,986.9 719.8,987.6 720.4,987.5 721.0,986.9 721.6,986.9 722.2,987.6 722.8,987.0 723.4,986.6 724.0,987.1 724.6,988.1 725.2,987.1 725.8,987.8 726.4,987.1 727.0,987.6 728.2,987.8 728.6,988.0 729.4,987.8 730.6,988.3 731.2,987.4 731.8,988.2 732.4,987.4 732.6,987.4 733.0,987.4 733.6,988.2 734.2,988.2 734.8,988.6 736.0,988.2 736.6,988.4 737.2,988.0 737.8,988.3 738.4,988.1 739.0,986.9 739.6,987.2 740.2,987.0 740.8,986.3 741.4,988.1 742.0,987.6 742.6,987.9 743.2,987.5 743.8,987.6 744.2,987.5 745.4,988.6 746.8,986.9 748.6,988.1 749.2,987.4 749.8,987.9 750.4,987.3 751.0,987.4 751.6,987.1 752.8,987.8 754.6,988.4 755.2,987.9 755.8,988.3 756.4,987.3 757.0,987.4 757.6,987.2 758.2,987.9 758.8,987.3 759.4,987.3 760.0,986.9 760.6,987.4 761.0,987.5 761.8,987.2 762.4,986.3 763.0,986.6 763.6,987.8 763.8,987.8 764.2,987.4 764.8,987.3 766.0,986.8 766.6,986.2 767.2,987.8 767.8,987.5 768.4,986.9 769.0,988.3 769.6,988.1 770.2,987.5 770.8,987.7 771.4,988.7 772.0,987.5 772.6,987.7 772.8,987.3 773.2,987.1 773.8,988.1 774.4,987.3 775.0,987.0 775.6,987.4 776.2,987.4 777.4,986.9 778.0,987.2 778.6,987.8 779.2,987.2 779.8,987.8 781.0,986.8 781.6,987.7 782.2,986.5 783.4,989.0 784.0,988.4 784.6,989.4 785.8,987.4 786.4,988.3 787.0,987.0 787.6,987.8 788.2,987.6 788.8,988.5 789.4,988.2 790.0,987.3 790.6,987.5 791.0,986.9 791.8,987.8 793.0,988.2 793.6,987.2 794.2,987.2 794.8,988.1 795.4,987.5 796.0,987.3 797.2,988.5 797.6,988.5 798.4,987.9 798.8,987.8 800.2,988.6 800.8,987.7 802.0,988.3 802.6,986.8 803.8,988.1 804.4,987.4 805.0,988.4 805.6,987.9 806.2,986.3 806.8,987.6 807.4,987.2 808.0,987.6 808.6,987.6 809.2,988.4 809.8,988.4 810.4,987.4 811.0,987.7 811.6,986.7 812.2,987.3 813.0,987.1 814.0,988.5 814.4,988.3 814.6,988.1 815.8,988.3 817.0,986.8 817.6,987.9 818.2,987.1 818.8,987.2 819.6,986.7 820.8,987.9 821.0,987.9 821.8,987.3 822.4,988.0 823.0,987.5 823.6,986.3 824.2,987.2 824.8,986.6 825.4,986.5 827.2,987.3 828.4,986.8 829.0,987.4 829.6,987.3 830.2,986.6 830.8,987.2 831.4,986.5 832.0,986.7 832.6,988.0 833.2,987.8 833.8,986.7 834.4,987.3 835.0,987.5 836.2,987.1 836.8,988.3 837.4,988.0 837.8,988.5 839.8,986.9 841.0,986.5 841.6,987.0 842.8,986.5 844.2,988.3 844.6,987.8 845.2,988.1 845.8,987.4 847.0,987.8 848.2,987.7 848.8,988.4 849.4,988.4 850.0,986.9 850.6,987.4 850.8,987.1 851.2,987.2 851.8,986.8 852.4,986.7 853.4,987.2 854.2,987.2 854.8,987.5 855.4,987.1 856.0,987.7 856.6,987.6 857.2,986.5 857.4,986.5 857.8,986.6 858.4,987.8 860.2,987.1 860.8,987.6 861.4,988.7 862.0,988.1 862.6,988.2 863.2,987.0 863.8,987.2 865.0,986.6 865.6,988.2 866.2,987.4 866.8,987.7 867.4,987.5 867.8,986.9 868.0,986.9 868.6,987.9 869.2,987.3 869.8,987.6 870.4,987.0 871.0,987.5 871.6,988.4 872.2,988.4 872.8,988.8 874.0,986.7 874.2,986.7 874.6,987.3 875.2,987.1 875.8,987.5 876.8,986.9 877.0,987.0 878.2,986.5 878.8,987.7 879.4,987.6 880.0,988.1 881.2,987.8 881.8,988.0 882.4,987.4 883.2,987.3 884.6,988.8 885.4,988.0 886.0,986.7 886.6,986.8 887.2,987.6 887.8,987.4 888.4,986.9 889.6,987.3 889.8,987.2 890.6,987.3"/><path d="M28.1,1130.6L29.1,1128.5 29.7,1127.8 31.1,1123.5 31.5,1122.9 31.9,1123.8 33.7,1131.4 35.1,1134.4 35.7,1133.7 36.5,1130.2 36.9,1126.6 37.9,1108.5 38.1,1105.6 38.3,1105.1 39.7,1128.4 40.5,1134.8 41.7,1138.9 42.3,1137.2 43.5,1136.2 44.1,1136.8 45.1,1133.8 45.7,1128.5 46.3,1116.8 47.5,1058.7 47.9,1048.5 48.3,1058.3 49.3,1108.0 49.9,1122.3 50.7,1130.1 50.9,1130.2 51.3,1129.7 51.9,1130.1 52.5,1128.9 53.1,1128.2 54.1,1124.0 54.7,1118.9 56.3,1092.5 56.5,1091.6 56.7,1091.9 57.7,1099.9 57.9,1099.6 58.1,1098.0 58.7,1082.8 59.5,1047.6 59.7,1043.2 59.9,1043.1 60.9,1080.4 61.5,1093.5 61.7,1094.8 61.9,1094.4 62.1,1092.6 63.3,1063.6 63.5,1060.8 63.7,1060.1 64.1,1065.6 65.5,1108.7 66.1,1118.7 66.9,1126.2 68.7,1132.2 69.9,1134.9 70.5,1134.6 71.1,1136.3 71.7,1137.2 72.3,1137.4 72.9,1138.4 73.5,1137.9 74.1,1138.6 74.7,1139.7 75.5,1139.8 75.9,1139.5 76.5,1140.1 77.1,1140.1 78.1,1140.6 78.9,1142.2 79.3,1142.5 80.1,1142.4 80.7,1141.5 81.3,1141.1 82.5,1141.6 83.1,1141.3 83.3,1141.4 84.3,1142.8 85.5,1142.9 86.1,1143.4 86.7,1143.0 87.3,1143.5 87.9,1142.7 88.5,1142.3 89.7,1143.5 90.3,1143.4 90.9,1143.9 91.1,1143.8 92.5,1142.3 93.9,1143.7 94.5,1143.5 95.1,1144.0 95.7,1143.4 96.9,1143.7 97.5,1143.0 98.1,1143.1 98.9,1142.8 99.3,1143.2 99.9,1142.7 101.1,1144.0 101.7,1143.3 103.5,1142.5 104.1,1141.4 104.7,1142.2 105.9,1142.0 106.5,1140.8 108.9,1137.3 109.5,1136.5 110.1,1136.3 110.7,1134.8 111.3,1135.5 112.3,1136.1 113.1,1136.8 114.5,1139.7 114.9,1139.7 115.5,1139.3 115.7,1139.4 117.3,1142.7 117.9,1141.9 118.3,1141.6 118.5,1141.7 119.7,1144.4 120.9,1141.5 121.5,1143.3 122.3,1144.4 122.7,1143.5 123.5,1142.6 124.5,1144.9 124.9,1144.7 126.3,1143.1 126.9,1143.7 127.5,1143.9 128.7,1145.1 130.1,1143.3 130.5,1143.6 131.1,1143.6 131.7,1144.3 132.3,1145.5 132.7,1145.3 133.5,1143.6 134.7,1142.3 135.3,1142.5 136.3,1139.1 136.9,1134.3 138.1,1117.7 138.5,1115.8 139.1,1120.1 140.5,1137.0 140.9,1139.4 141.7,1142.1 141.9,1142.7 142.5,1143.3 143.1,1144.5 143.5,1144.8 144.5,1144.8 145.7,1144.1 146.1,1144.1 146.7,1143.7 147.3,1145.0 147.9,1145.6 149.7,1144.2 150.3,1145.4 150.9,1144.7 151.5,1145.6 152.1,1144.8 152.7,1144.7 153.5,1143.7 153.9,1144.4 154.5,1144.0 154.9,1144.4 155.7,1144.3 156.3,1144.7 156.9,1143.3 157.3,1143.3 158.1,1144.2 158.7,1143.9 159.3,1144.2 159.9,1144.2 161.3,1143.7 162.5,1145.0 162.9,1145.0 163.5,1144.4 164.1,1144.7 164.7,1144.2 165.3,1145.0 165.9,1144.5 166.5,1144.6 167.1,1144.1 167.7,1145.1 168.3,1145.4 169.1,1145.1 170.1,1143.8 170.7,1145.0 171.3,1143.4 171.9,1144.8 172.5,1143.8 172.9,1144.1 173.7,1143.8 174.3,1144.9 174.9,1144.5 175.5,1143.6 176.1,1144.3 176.7,1144.2 177.3,1145.1 178.1,1145.8 179.1,1145.2 179.5,1144.2 180.3,1143.6 180.9,1145.2 182.1,1145.8 183.5,1144.1 185.1,1144.3 185.7,1144.8 186.3,1144.5 186.9,1145.1 187.3,1145.0 188.1,1144.3 188.7,1144.3 189.3,1144.0 189.9,1144.6 191.1,1142.6 192.3,1144.6 192.9,1144.5 193.7,1143.3 194.3,1140.7 195.3,1131.5 195.7,1129.4 195.9,1129.5 196.1,1130.4 197.1,1139.3 198.9,1145.1 199.5,1144.3 200.1,1143.1 200.3,1143.1 200.7,1143.9 201.3,1143.4 201.9,1144.2 202.9,1143.4 204.3,1144.6 205.5,1143.7 206.1,1144.3 206.7,1143.9 207.3,1144.6 208.5,1143.4 209.3,1142.9 209.7,1143.4 210.3,1143.6 210.7,1144.0 211.5,1142.9 211.9,1142.7 212.7,1142.6 213.3,1143.8 213.9,1143.7 214.5,1144.9 216.3,1142.4 216.9,1142.8 217.5,1142.9 218.1,1143.7 218.5,1143.5 219.3,1144.0 219.9,1145.0 221.1,1143.2 222.3,1144.3 222.9,1143.1 224.7,1144.2 225.3,1143.3 225.9,1143.7 226.3,1143.7 227.1,1143.3 227.7,1142.2 228.3,1143.7 229.5,1143.5 230.1,1144.2 231.5,1142.7 231.9,1142.7 232.7,1143.5 234.1,1143.3 234.3,1143.5 234.9,1143.6 235.5,1144.1 236.7,1143.4 237.3,1142.3 237.9,1143.7 238.5,1142.9 239.1,1143.1 239.7,1143.0 240.9,1141.8 241.5,1141.7 242.1,1142.6 242.7,1143.0 243.3,1142.6 243.9,1142.7 244.5,1143.9 245.1,1143.1 245.7,1141.4 246.3,1142.3 246.9,1141.7 247.5,1142.5 248.1,1142.2 248.7,1143.0 249.3,1142.2 249.9,1142.9 250.5,1143.0 251.1,1142.7 251.7,1142.2 252.3,1142.7 252.9,1142.6 253.5,1142.1 254.1,1142.3 254.7,1141.3 255.3,1141.8 255.9,1140.0 257.1,1140.8 257.7,1141.9 258.3,1140.5 258.7,1140.3 259.5,1140.6 260.1,1141.9 260.7,1140.1 261.9,1140.2 262.5,1140.9 263.1,1139.3 263.7,1140.0 265.5,1138.5 266.1,1139.7 266.7,1140.0 267.9,1139.5 268.5,1138.9 269.1,1138.7 269.7,1139.5 270.3,1139.4 270.9,1139.6 271.5,1140.1 272.7,1138.1 273.3,1138.9 273.9,1137.2 274.3,1136.8 275.1,1137.4 275.7,1138.6 276.3,1137.6 276.9,1137.1 277.5,1137.9 278.3,1138.0 278.7,1137.7 279.3,1136.7 280.5,1136.8 280.9,1136.2 281.7,1134.1 282.9,1132.5 283.5,1130.9 284.9,1124.0 285.7,1121.9 285.9,1121.9 286.5,1122.9 287.1,1125.6 288.3,1128.2 288.9,1131.5 289.5,1132.5 290.1,1131.8 290.7,1131.7 291.3,1132.0 291.9,1131.1 292.7,1130.4 293.1,1129.5 293.7,1126.5 294.3,1125.3 295.3,1115.8 295.7,1109.9 297.7,1061.1 298.1,1053.6 298.5,1050.2 298.7,1051.0 299.1,1055.9 300.5,1087.1 301.3,1099.4 301.5,1101.4 302.1,1103.9 302.3,1105.6 304.1,1123.8 305.1,1129.4 306.9,1133.1 307.3,1133.6 307.5,1133.8 309.3,1133.7 309.9,1134.9 310.5,1133.7 311.1,1134.7 312.1,1135.3 312.3,1135.0 312.9,1134.8 313.5,1133.3 314.1,1133.4 314.7,1134.0 315.3,1133.8 316.7,1130.1 317.3,1129.4 317.7,1130.0 318.3,1132.8 318.7,1133.8 319.3,1134.2 320.3,1134.1 320.9,1133.7 321.5,1132.9 322.5,1129.5 323.5,1121.7 324.1,1113.5 325.1,1090.4 326.9,1020.7 327.5,1009.5 327.7,1009.5 327.9,1011.6 328.3,1020.5 330.3,1097.6 330.9,1110.6 331.7,1120.7 332.3,1124.5 332.5,1125.2 332.9,1125.6 333.3,1124.7 333.5,1123.5 333.9,1119.5 334.7,1102.4 335.9,1062.9 336.3,1055.9 336.5,1056.1 336.9,1063.0 338.1,1104.0 338.9,1122.3 339.3,1128.2 340.1,1134.6 341.1,1139.5 341.7,1140.4 342.3,1140.5 342.9,1141.2 343.5,1140.6 344.7,1141.0 345.3,1140.9 345.9,1141.0 346.5,1142.0 347.7,1141.2 348.3,1140.2 348.9,1141.1 349.5,1140.8 350.1,1142.0 350.7,1142.0 351.3,1141.3 351.9,1141.8 352.5,1141.1 353.1,1141.6 353.7,1142.7 354.3,1142.7 354.9,1141.6 356.1,1141.9 356.7,1142.6 357.3,1142.1 357.9,1142.6 358.5,1141.3 358.9,1140.8 359.7,1141.5 360.3,1141.6 360.9,1140.3 361.5,1141.6 362.7,1137.3 364.1,1126.5 364.7,1124.3 365.1,1125.0 365.3,1126.1 367.1,1138.5 367.5,1139.7 368.1,1140.0 368.7,1141.3 369.3,1140.8 369.9,1141.7 370.5,1141.1 371.1,1139.7 371.7,1139.6 372.3,1138.1 372.7,1135.7 373.3,1128.8 374.3,1110.5 374.5,1111.6 375.3,1126.1 375.9,1131.5 376.3,1132.3 376.7,1132.3 377.7,1131.2 378.3,1130.0 379.1,1130.7 381.3,1134.0 381.9,1136.2 382.3,1135.7 382.5,1135.6 383.1,1137.9 383.5,1138.5 383.7,1138.4 384.3,1137.0 384.9,1136.2 385.5,1136.1 386.1,1137.3 386.5,1137.0 387.3,1134.9 387.9,1134.1 388.5,1132.1 388.7,1132.3 389.1,1132.1 389.7,1129.4 390.1,1128.9 390.5,1129.2 390.9,1129.8 393.3,1137.4 395.1,1140.1 395.7,1140.4 396.3,1140.1 396.9,1141.8 397.5,1141.9 398.1,1142.7 398.7,1141.9 399.3,1141.8 400.5,1143.2 401.1,1143.2 401.7,1143.7 402.9,1142.3 403.5,1142.9 404.1,1142.1 404.7,1142.7 405.3,1142.5 406.5,1144.2 407.1,1142.6 407.7,1143.5 409.5,1144.2 410.1,1142.6 410.7,1143.1 411.3,1143.1 411.9,1143.5 412.5,1143.2 413.1,1143.2 413.7,1144.1 414.3,1143.3 415.5,1143.4 416.7,1142.8 417.3,1141.9 417.9,1142.7 418.7,1142.9 419.1,1142.8 419.7,1142.2 420.9,1143.2 421.5,1143.1 422.7,1142.4 424.5,1143.2 425.1,1142.9 425.7,1142.9 426.3,1142.3 426.9,1143.3 428.7,1143.6 429.3,1142.8 431.1,1143.4 431.7,1143.7 432.3,1143.6 432.9,1144.3 434.7,1143.0 435.3,1142.8 435.9,1143.5 436.9,1142.6 438.1,1144.0 438.3,1144.0 438.9,1143.2 439.5,1143.6 440.1,1143.1 440.7,1142.1 440.9,1142.0 441.3,1142.4 442.1,1144.3 442.5,1144.2 443.3,1142.9 444.3,1143.2 445.5,1143.1 446.1,1143.7 447.3,1142.3 447.9,1143.1 448.5,1142.9 449.1,1143.5 449.9,1143.8 450.9,1142.5 451.5,1142.6 452.1,1142.3 452.7,1143.1 453.3,1141.7 453.7,1141.6 454.5,1141.9 455.1,1141.2 455.7,1141.7 456.5,1141.7 456.9,1141.3 457.5,1142.5 458.1,1140.7 458.7,1141.0 458.9,1140.6 459.3,1140.3 459.9,1140.3 460.3,1141.5 461.1,1142.4 461.7,1141.2 462.3,1141.1 462.9,1140.0 463.5,1139.6 464.1,1140.4 464.7,1140.7 465.5,1140.4 466.5,1140.9 466.7,1140.8 467.7,1139.3 468.1,1139.3 468.3,1139.5 468.9,1139.2 469.5,1137.9 470.1,1139.5 470.7,1138.1 472.1,1136.7 472.5,1136.6 473.3,1137.1 473.7,1136.8 474.5,1135.3 475.5,1134.7 476.1,1134.9 476.7,1134.2 477.3,1132.2 477.9,1131.8 479.1,1127.8 479.9,1120.9 480.7,1107.4 482.3,1049.6 482.9,1038.5 483.1,1039.5 483.5,1048.9 484.7,1096.7 485.7,1119.9 486.1,1124.1 486.9,1129.2 488.1,1131.7 488.7,1130.2 489.5,1120.1 489.9,1109.4 491.1,1057.1 491.3,1057.1 491.5,1061.8 492.5,1102.9 492.9,1109.6 493.1,1109.6 493.3,1107.3 493.9,1086.3 495.1,1002.2 495.3,1002.5 495.5,1010.6 496.3,1075.4 496.9,1108.4 497.5,1123.7 498.1,1130.3 498.9,1134.7 500.7,1136.3 501.9,1137.9 502.5,1137.3 503.1,1137.1 504.3,1136.3 504.9,1136.2 505.7,1136.7 506.7,1136.1 507.3,1136.1 508.5,1134.6 509.1,1135.7 509.7,1134.7 511.5,1133.6 512.1,1132.5 512.7,1133.8 513.3,1133.4 513.9,1133.5 515.1,1131.5 515.7,1131.8 516.3,1131.3 517.5,1129.1 518.1,1125.7 518.5,1125.2 518.9,1124.9 519.3,1125.1 519.7,1124.9 520.1,1125.0 521.3,1127.0 521.7,1126.9 522.9,1124.4 523.7,1119.9 524.3,1115.0 524.9,1106.2 526.5,1060.2 527.1,1050.7 527.3,1051.0 527.5,1053.1 528.7,1078.5 529.1,1082.5 529.3,1083.2 529.5,1082.7 529.9,1077.0 530.3,1065.4 531.5,1007.2 531.9,994.6 532.1,993.1 532.5,999.9 533.9,1064.4 534.7,1086.7 535.3,1095.1 535.9,1098.2 536.1,1098.3 536.3,1097.4 537.1,1091.6 537.9,1078.0 538.7,1048.1 540.5,899.7 540.9,881.5 541.1,880.8 541.5,896.3 543.3,1033.8 543.9,1054.5 544.3,1061.3 544.9,1067.3 545.3,1069.3 545.5,1069.5 545.9,1069.2 546.5,1067.0 546.9,1064.6 547.5,1059.0 548.3,1044.0 549.3,1008.7 550.5,941.8 550.9,929.8 551.1,928.8 551.5,937.7 552.9,1003.8 553.5,1021.0 554.1,1031.3 555.1,1038.5 555.3,1039.4 555.9,1040.4 556.5,1040.6 558.1,1038.2 558.9,1035.4 560.1,1019.9 560.7,999.5 561.3,967.1 562.5,875.9 562.9,861.1 563.1,861.3 563.5,877.0 564.9,984.6 565.7,1021.2 566.1,1032.1 566.7,1041.4 566.9,1043.0 567.9,1046.7 568.5,1046.1 569.1,1043.8 569.7,1042.4 570.5,1037.4 571.3,1029.3 572.3,1015.3 573.5,987.4 574.3,948.5 575.1,855.1 576.5,489.6 576.7,495.3 576.9,526.7 577.9,717.7 578.3,734.8 578.5,733.5 578.9,718.1 579.7,658.1 580.5,576.3 584.1,138.1 585.1,62.2 585.5,46.9 585.9,41.2 586.1,41.4 586.3,44.0 586.7,55.5 587.7,122.4 591.9,635.3 593.1,753.1 594.3,845.0 595.7,925.2 597.3,988.0 599.1,1035.0 600.7,1061.8 601.3,1069.1 602.1,1077.5 603.3,1087.2 604.5,1094.6 605.1,1096.0 605.7,1098.3 606.9,1104.5 608.1,1108.8 608.7,1112.3 609.3,1112.2 611.1,1118.5 612.3,1121.0 614.1,1126.2 614.7,1126.4 615.3,1127.6 616.3,1127.9 616.5,1127.8 617.9,1125.7 618.3,1124.7 618.9,1120.8 619.5,1112.3 619.9,1101.6 620.7,1059.5 622.5,850.0 622.7,846.2 622.9,850.5 623.9,901.9 624.1,905.1 624.3,905.5 624.9,900.2 625.1,900.5 625.7,904.5 625.9,903.7 626.1,900.2 626.3,893.3 627.3,842.0 627.7,857.1 628.9,1011.2 629.5,1055.6 630.1,1070.5 630.3,1071.0 631.1,1065.6 631.3,1065.4 631.7,1069.0 633.7,1121.0 634.1,1126.7 635.1,1134.5 635.7,1137.0 636.1,1137.8 636.3,1138.1 636.9,1138.3 637.5,1139.2 638.1,1139.4 639.3,1141.3 641.1,1140.3 641.7,1141.6 642.3,1141.6 642.9,1141.0 643.5,1142.4 644.1,1142.1 644.7,1142.2 645.3,1142.8 645.9,1142.2 646.3,1142.6 647.1,1142.9 647.7,1142.6 648.3,1142.5 648.9,1141.5 649.5,1142.4 650.1,1142.6 650.7,1141.3 651.3,1141.3 651.9,1140.9 652.5,1142.5 653.1,1143.3 653.7,1142.0 654.3,1143.0 655.3,1143.6 656.1,1143.5 656.7,1142.8 657.3,1143.4 657.9,1142.8 658.5,1143.0 659.7,1142.2 660.3,1143.1 660.9,1143.4 661.5,1142.0 662.1,1142.5 662.7,1143.7 663.1,1143.6 663.3,1143.3 664.3,1142.8 665.1,1143.2 665.7,1142.8 666.3,1143.9 666.9,1143.4 667.5,1143.5 668.1,1144.5 668.7,1144.4 669.3,1144.5 669.9,1143.3 671.1,1144.1 671.7,1144.1 672.3,1143.7 672.9,1143.8 673.5,1143.2 674.1,1144.4 674.7,1143.3 675.3,1143.1 676.5,1143.2 677.5,1143.5 678.9,1145.3 679.5,1144.3 680.1,1145.3 680.7,1144.6 681.3,1145.0 681.9,1143.8 682.7,1144.6 683.9,1144.6 685.1,1145.0 685.5,1144.9 686.1,1144.4 687.3,1143.7 688.5,1144.0 689.1,1144.5 689.3,1144.5"/><path d="M702.0,1145.6L702.4,1145.6 702.6,1146.1 703.0,1146.2 703.6,1144.6 703.8,1144.6 704.8,1145.7 705.2,1145.8 706.0,1145.4 706.6,1145.4 707.2,1145.9 707.8,1144.7 708.4,1145.2 709.0,1144.6 709.6,1145.7 710.2,1145.6 710.4,1145.9 711.4,1146.4 712.0,1145.6 712.6,1146.0 713.0,1145.9 713.2,1145.6 714.2,1145.0 714.4,1145.1 715.0,1146.0 716.2,1145.5 717.4,1145.6 718.2,1146.1 718.6,1146.1 719.2,1144.3 719.8,1146.0 720.4,1145.4 721.0,1145.6 721.6,1146.6 722.2,1146.7 722.8,1146.3 723.4,1146.5 724.0,1145.2 724.6,1144.3 724.8,1144.3 725.8,1146.1 726.4,1144.8 727.6,1145.3 728.8,1146.4 730.0,1145.5 730.6,1146.1 731.2,1145.6 731.8,1146.8 732.4,1145.7 733.0,1146.1 733.8,1145.7 734.8,1146.7 735.4,1145.4 736.0,1145.6 736.4,1145.3 736.6,1145.5 737.2,1145.2 739.0,1145.3 739.6,1145.6 740.2,1145.1 740.8,1145.2 741.6,1145.0 742.0,1145.2 742.6,1145.3 743.2,1146.7 744.4,1145.1 745.0,1145.7 745.6,1144.7 746.2,1145.2 746.8,1144.0 747.4,1144.6 748.0,1144.5 748.6,1144.9 749.2,1146.2 750.4,1145.3 750.8,1144.6 751.0,1144.7 751.6,1145.4 752.0,1146.5 752.2,1146.5 753.2,1144.9 754.0,1144.7 754.6,1146.6 755.2,1145.5 755.8,1146.4 756.4,1145.3 757.2,1145.0 757.6,1145.1 758.6,1146.5 758.8,1146.5 759.4,1145.3 760.0,1144.9 760.6,1145.7 761.2,1144.9 761.8,1144.9 762.4,1145.9 764.2,1145.0 764.8,1143.8 765.4,1145.3 766.6,1146.3 767.2,1145.1 767.8,1144.7 769.0,1145.4 769.6,1145.5 770.2,1145.3 770.8,1144.7 771.4,1145.5 771.6,1145.5 772.6,1145.4 773.8,1144.6 774.4,1145.8 775.0,1145.5 775.6,1146.2 776.2,1145.1 778.0,1145.3 779.2,1145.9 780.6,1145.6 781.0,1145.2 781.6,1145.3 782.2,1145.6 782.8,1145.3 783.4,1145.5 784.0,1144.5 784.6,1145.4 786.4,1146.5 787.0,1144.9 787.6,1145.7 788.2,1145.7 789.4,1146.5 790.0,1145.2 790.6,1146.7 791.2,1145.8 791.8,1145.6 792.4,1145.0 793.0,1145.0 793.6,1145.6 794.2,1144.7 794.8,1145.1 795.4,1146.0 796.0,1146.5 796.6,1145.3 797.2,1146.2 797.8,1145.1 798.4,1145.5 799.0,1145.3 799.6,1146.2 800.2,1145.8 800.8,1144.9 801.4,1144.5 802.0,1144.8 802.6,1145.8 803.2,1145.5 803.8,1146.6 804.4,1145.2 805.2,1145.8 806.2,1145.7 806.8,1144.5 808.0,1145.9 808.6,1145.4 809.2,1143.5 809.8,1144.7 810.4,1143.8 811.0,1144.9 811.8,1145.4 812.2,1145.2 812.8,1144.1 813.0,1144.0 813.4,1144.2 814.0,1145.2 815.2,1144.6 816.4,1145.0 817.6,1144.1 818.2,1142.7 819.6,1144.7 820.0,1145.0 823.6,1136.6 824.8,1126.7 825.2,1125.0 825.6,1124.3 826.0,1125.0 827.8,1136.8 828.4,1138.0 829.0,1140.4 830.2,1142.8 830.8,1142.5 831.4,1143.3 832.6,1143.1 833.2,1143.7 834.0,1145.8 834.4,1145.9 835.6,1144.9 836.2,1145.3 836.8,1144.6 837.4,1144.5 838.6,1146.0 839.0,1146.1 839.8,1145.0 840.4,1144.7 841.0,1145.8 841.6,1144.9 842.2,1145.5 842.8,1144.6 844.6,1145.4 845.8,1145.5 847.0,1145.9 848.2,1146.0 849.4,1145.2 850.0,1145.2 850.6,1145.6 850.8,1145.6 851.8,1146.1 852.4,1146.7 853.6,1144.9 854.2,1145.6 854.8,1145.9 856.0,1145.1 857.8,1145.9 858.4,1145.4 859.0,1145.8 860.2,1145.7 861.4,1145.9 862.0,1144.8 862.6,1145.8 863.2,1146.4 863.8,1145.6 864.4,1145.5 865.0,1145.5 865.6,1146.3 866.2,1145.9 867.4,1146.0 868.0,1145.2 868.6,1146.0 869.2,1145.1 869.8,1146.3 870.4,1146.1 871.6,1146.3 873.4,1145.7 874.0,1145.2 874.6,1145.1 875.2,1144.3 876.4,1146.0 876.8,1146.2 877.0,1146.0 877.6,1146.5 878.2,1145.5 878.8,1145.7 879.4,1145.3 880.0,1145.8 880.6,1147.0 881.2,1145.7 882.0,1146.4 882.4,1146.5 883.0,1145.5 883.6,1145.3 884.2,1144.5 884.8,1145.2 885.4,1144.8 886.0,1145.8 886.6,1145.2 887.2,1145.7 887.8,1144.7 888.4,1144.3 889.0,1145.1 890.6,1144.8"/></g><text x="0.5" y="40" font-size="40" text-anchor="start" font-weight="bold" >a</text><text x="0.5" y="220" font-size="40" text-anchor="start" font-weight="bold" >b</text><text x="0.5" y="388" font-size="40" text-anchor="start" font-weight="bold" >c</text><text x="0.5" y="548" font-size="40" text-anchor="start" font-weight="bold" >d</text><text x="0.5" y="716" font-size="40" text-anchor="start" font-weight="bold" >e</text><text x="0.5" y="874" font-size="40" text-anchor="start" font-weight="bold" >f</text><text x="0.5" y="1021" font-size="40" text-anchor="start" font-weight="bold" >g</text><text x="56.4" y="69" font-size="24">TNFCO<tspan dy="8" font-size="16">2</tspan><tspan dy="-8" dx="4">–C</tspan><tspan font-style="italic">H</tspan><tspan dy="8" font-size="16">2</tspan><tspan dy="-8" dx="4">–</tspan></text><text x="351.2" y="147.7" font-size="24">Ar–C<tspan font-style="italic">H</tspan><tspan dy="8" font-size="16">2</tspan><tspan dy="-8" dx="4">–Ar</tspan></text><text x="121" y="334.6" font-size="23"><tspan font-style="italic">H</tspan>c</text><text x="152.9" y="312.6" font-size="23"><tspan font-style="italic">H</tspan>a</text><text x="234.2" y="341.9" font-size="23"><tspan font-style="italic">H</tspan>b</text><text x="639.4" y="306" font-size="24">Ar-C<tspan font-style="italic">H</tspan><tspan dy="8" font-size="16">3</tspan></text><text x="735.3" y="276.8" font-size="24">Pyrrole N<tspan font-style="italic">H</tspan></text><text x="397" y="397.6" font-size="24">–C<tspan font-style="italic">H</tspan><tspan dy="8" font-size="16">2</tspan><tspan dy="-8" dx="3">CONH–</tspan></text><g stroke="#000" stroke-width="1.6" fill="#000"><line x1="400.2" y1="153.9" x2="370" y2="165"/><path d="M361.1,168.2 L373.6,159.6 L376.2,166.4 Z" stroke="none"/><line x1="436.8" y1="404.8" x2="462" y2="414.3"/><path d="M470.9,417.4 L458.8,418.8 L461.4,411.9 Z" stroke="none"/></g><g stroke="#000" stroke-width="2" fill="none"><path d="M27.5,1162.2 H689.5"/><path d="M700.9,1182.8 V1162.2 H889.4 V1182.8"/><path d="M47.4,1162.2 V1182.8"/><path d="M235.3,1162.2 V1182.8"/><path d="M423.2,1162.2 V1182.8"/><path d="M611.5,1162.2 V1182.8"/></g><text x="47.4" y="1215.5" font-size="28.5" text-anchor="middle" font-weight="normal" >7</text><text x="235.3" y="1215.5" font-size="28.5" text-anchor="middle" font-weight="normal" >5</text><text x="423.2" y="1215.5" font-size="28.5" text-anchor="middle" font-weight="normal" >3</text><text x="611.5" y="1215.5" font-size="28.5" text-anchor="middle" font-weight="normal" >1</text><text x="700.4" y="1215.5" font-size="28.5" text-anchor="middle" font-weight="normal" >–2</text><text x="887" y="1215.5" font-size="28.5" text-anchor="middle" font-weight="normal" >–4</text><text x="416.5" y="1246.5" font-size="26.5" text-anchor="start" font-weight="normal" textLength="85" lengthAdjust="spacingAndGlyphs">δ (ppm)</text><g stroke="#000" stroke-width="1.3" fill="none" stroke-linecap="round"><line x1="383.9" y1="254.3" x2="405.4" y2="254.3"/><line x1="405.4" y1="254.3" x2="416.2" y2="273.1"/><line x1="416.2" y1="273.1" x2="405.4" y2="291.8"/><line x1="405.4" y1="291.8" x2="383.9" y2="291.8"/><line x1="383.9" y1="291.8" x2="373.2" y2="273.1"/><line x1="373.2" y1="273.1" x2="383.9" y2="254.3"/><line x1="388.144" y1="258.06" x2="401.21599999999995" y2="258.06"/><line x1="410.8832" y1="274.89520000000005" x2="404.3168" y2="286.2648"/><line x1="385.0528" y1="286.2648" x2="378.5472" y2="274.89520000000005"/><line x1="383.9" y1="254.3" x2="371.9" y2="242.1"/><line x1="405.4" y1="254.3" x2="411.4" y2="242.1"/><line x1="373.2" y1="273.1" x2="363.3" y2="273.1"/><line x1="416.2" y1="273.1" x2="430.5" y2="273.1"/><path d="M358.5,262.7 L356.6,263.85 L360.2,265.00 L356.6,266.15 L360.2,267.30 L356.6,268.45 L360.2,269.60 L356.6,270.75 L360.2,271.90 L356.6,273.05 L360.2,274.20 L356.6,275.35 L360.2,276.50 L356.6,277.65 L360.2,278.80 L356.6,279.95 L360.2,281.10 L356.6,282.25 L360.2,283.40" stroke-width="0.9"/><line x1="441.5" y1="267.5" x2="448.5" y2="254.7"/><line x1="448.5" y1="254.7" x2="470" y2="254.7"/><line x1="470" y1="254.7" x2="480.7" y2="273.1"/><line x1="480.7" y1="273.1" x2="470" y2="291.8"/><line x1="470" y1="291.8" x2="448.5" y2="291.8"/><line x1="448.5" y1="291.8" x2="441.5" y2="278.7"/><line x1="450.5" y1="257.6" x2="468" y2="257.6"/><line x1="450.5" y1="289" x2="468" y2="289"/><line x1="448.5" y1="254.7" x2="445.8" y2="243"/><line x1="470" y1="254.7" x2="478" y2="242.1"/><line x1="448.5" y1="291.8" x2="443.1" y2="301.3"/><line x1="480.7" y1="273.1" x2="503.1" y2="273.1"/><line x1="481.8" y1="270.7" x2="503.1" y2="270.7"/><line x1="503.1" y1="273.1" x2="513.9" y2="254.7"/><line x1="503.1" y1="273.1" x2="513.9" y2="291.8"/><line x1="513.9" y1="254.7" x2="527.3" y2="254.7"/><line x1="513.9" y1="291.8" x2="527.3" y2="291.8"/><line x1="513.9" y1="254.7" x2="507.2" y2="243.3"/><line x1="511.3" y1="253.2" x2="504.6" y2="241.8"/><line x1="513.9" y1="291.8" x2="507.2" y2="303"/><line x1="511.3" y1="293.3" x2="504.6" y2="304.7"/><line x1="540.2" y1="262.2" x2="548" y2="273.1"/><line x1="548" y1="273.1" x2="540.2" y2="284"/><line x1="548" y1="273.1" x2="558.5" y2="273.1"/><line x1="548" y1="275.6" x2="558.5" y2="275.6"/></g><text x="438.2" y="276.8" font-size="10.5" text-anchor="middle" font-weight="normal" >N</text><text x="538.6" y="258.5" font-size="10.5" text-anchor="middle" font-weight="normal" >NH</text><text x="538.6" y="295.6" font-size="10.5" text-anchor="middle" font-weight="normal" >NH</text><text x="505" y="243.2" font-size="10.5" text-anchor="middle" font-weight="normal" >O</text><text x="505" y="310.5" font-size="10.5" text-anchor="middle" font-weight="normal" >O</text><text x="563.2" y="276.9" font-size="10.5" text-anchor="middle" font-weight="normal" >O</text><text x="437.5" y="310.5" font-size="9.5" text-anchor="middle" font-weight="normal" >Me</text><text x="355.8" y="239.4" font-size="18"><tspan font-style="italic">H</tspan>c</text><text x="401.8" y="239.4" font-size="18"><tspan font-style="italic">H</tspan>b</text><text x="433.2" y="239.4" font-size="18">C<tspan font-style="italic">H</tspan><tspan dy="5" font-size="12">3</tspan></text><text x="475.3" y="239.4" font-size="18"><tspan font-style="italic">H</tspan>a</text><rect x="1228.8" y="28.4" width="440.5" height="400.20000000000005" fill="none" stroke="#000" stroke-width="2"/><g stroke="#000" stroke-width="2"><line x1="1219.3" y1="85.9" x2="1228.8" y2="85.9"/><line x1="1219.3" y1="428.6" x2="1228.8" y2="428.6"/><line x1="1228.8" y1="428.6" x2="1228.8" y2="438.6"/><line x1="1450.5" y1="428.6" x2="1450.5" y2="438.6"/><line x1="1669.3" y1="428.6" x2="1669.3" y2="438.6"/></g><line x1="1451.7" y1="28.4" x2="1451.7" y2="428.6" stroke="#000" stroke-width="1.5" stroke-dasharray="4.5 3"/><g fill="none" stroke="#000" stroke-width="1.8"><circle cx="1249.4" cy="410.6" r="7"/><circle cx="1330.2" cy="363.1" r="7"/><circle cx="1370.8" cy="221.7" r="7"/><circle cx="1411" cy="96.4" r="7"/><circle cx="1452.1" cy="46.3" r="7"/><circle cx="1492.3" cy="83.4" r="7"/><circle cx="1532.5" cy="167.7" r="7"/><circle cx="1573.1" cy="278" r="7"/><circle cx="1613.8" cy="341" r="7"/><circle cx="1654.4" cy="410.6" r="7"/><rect x="1244.6000000000001" y="405.8" width="9.6" height="9.6"/><rect x="1284.8" y="348.8" width="9.6" height="9.6"/><rect x="1325.4" y="303.4" width="9.6" height="9.6"/><rect x="1366.0" y="278.8" width="9.6" height="9.6"/><rect x="1406.2" y="251.5" width="9.6" height="9.6"/><rect x="1447.3" y="242.5" width="9.6" height="9.6"/><rect x="1487.5" y="247.6" width="9.6" height="9.6"/><rect x="1527.7" y="260.2" width="9.6" height="9.6"/><rect x="1568.3" y="312.9" width="9.6" height="9.6"/><rect x="1609.0" y="365.59999999999997" width="9.6" height="9.6"/><rect x="1649.6000000000001" y="405.8" width="9.6" height="9.6"/><path d="M1249.4,403.1 L1256.9,416.6 L1241.9,416.6 Z"/><path d="M1289.6,370.7 L1297.1,384.2 L1282.1,384.2 Z"/><path d="M1330.2,353.5 L1337.7,367 L1322.7,367 Z"/><path d="M1370.8,338.3 L1378.3,351.8 L1363.3,351.8 Z"/><path d="M1411,328.4 L1418.5,341.9 L1403.5,341.9 Z"/><path d="M1452.1,321.9 L1459.6,335.4 L1444.6,335.4 Z"/><path d="M1492.3,324.9 L1499.8,338.4 L1484.8,338.4 Z"/><path d="M1532.5,334.8 L1540.0,348.3 L1525.0,348.3 Z"/><path d="M1573.1,352.1 L1580.6,365.6 L1565.6,365.6 Z"/><path d="M1613.8,373.8 L1621.3,387.3 L1606.3,387.3 Z"/><path d="M1654.4,403.1 L1661.9,416.6 L1646.9,416.6 Z"/><circle cx="1703.2" cy="39.8" r="5.6"/><rect x="1699" y="77.9" width="8.4" height="8.4"/><path d="M1703.5,119.5 L1709.5,131 L1697.5,131 Z"/></g><text x="1726.6" y="48.4" font-size="27"><tspan font-weight="bold">1</tspan> + <tspan font-weight="bold">3</tspan></text><text x="1726.6" y="90.6" font-size="27"><tspan font-weight="bold">1</tspan> + <tspan font-weight="bold">2</tspan></text><text x="1726.6" y="132.8" font-size="27"><tspan font-weight="bold">2</tspan> + <tspan font-weight="bold">3</tspan></text><text x="1210.5" y="94.6" font-size="28.5" text-anchor="end" font-weight="normal" >0.5</text><text x="1210.5" y="437.6" font-size="28.5" text-anchor="end" font-weight="normal" >0</text><text x="1208" y="266" font-size="28.5" text-anchor="end" font-weight="normal" >ΔA</text><text x="1229" y="470.1" font-size="28.5" text-anchor="middle" font-weight="normal" >0</text><text x="1449" y="470.1" font-size="28.5" text-anchor="middle" font-weight="normal" >0.5</text><text x="1668" y="470.1" font-size="28.5" text-anchor="middle" font-weight="normal" >1</text><text x="1451.5" y="511.2" font-size="28.5" text-anchor="middle" font-style="italic">X</text><text x="1131" y="31" font-size="40" text-anchor="start" font-weight="bold" >h</text><g fill="none" stroke-width="1.3" stroke-linejoin="round"><path d="M912.0,653.5L913.0,652.8 914.8,650.3 915.4,649.9 915.8,650.0 916.2,650.3 918.0,652.8 918.6,653.1 919.2,652.9 919.8,652.1 920.2,651.2 921.8,645.4 922.2,644.4 922.6,644.1 923.0,644.5 923.4,645.5 924.6,650.0 925.2,651.7 925.8,652.4 926.2,652.2 926.8,651.0 927.2,649.4 928.8,638.7 929.2,636.7 929.6,635.8 929.8,635.9 930.0,636.3 930.4,638.0 932.2,649.6 932.8,651.3 933.0,651.4 933.2,651.3 933.8,649.6 934.2,647.2 936.0,627.9 936.4,625.1 936.6,624.4 936.8,624.3 937.0,624.8 937.4,627.2 939.2,646.4 939.8,649.6 940.0,649.9 940.2,650.0 940.6,649.0 940.8,647.9 941.4,642.2 943.0,614.8 943.4,610.0 943.8,608.1 944.0,608.4 944.2,609.6 944.6,614.2 945.8,635.6 946.4,643.8 947.0,647.8 947.2,648.1 947.4,647.9 948.0,644.0 948.4,638.4 950.2,594.6 950.8,587.5 951.0,587.5 951.2,588.7 951.6,594.6 953.4,638.1 954.0,644.9 954.2,645.7 954.4,645.8 954.8,643.8 955.0,641.5 955.4,634.6 957.2,575.5 957.6,566.3 957.8,564.0 958.0,563.3 958.4,567.0 958.8,576.6 960.0,619.2 960.6,635.0 961.2,642.8 961.4,643.5 961.6,643.2 962.2,636.4 962.6,626.6 964.2,560.0 964.6,547.5 965.0,542.1 965.2,542.5 965.4,545.0 965.8,555.6 967.6,628.7 968.0,637.3 968.2,639.9 968.4,641.3 968.6,641.6 969.0,638.9 969.2,635.7 969.6,625.8 971.4,543.3 971.8,531.4 972.0,528.6 972.2,528.1 972.6,534.2 973.0,548.3 974.6,623.1 975.2,637.4 975.4,639.7 975.6,640.7 975.8,640.6 976.4,632.7 976.8,621.1 978.4,544.3 978.8,530.7 979.2,525.4 979.4,526.4 979.6,529.7 980.0,542.7 981.8,626.4 982.2,636.0 982.4,638.9 982.6,640.6 982.8,641.2 983.2,638.7 983.4,635.6 983.8,626.0 985.6,548.0 986.0,537.5 986.2,535.3 986.4,535.3 987.0,548.1 988.8,626.2 989.2,636.1 989.4,639.3 989.8,642.5 990.0,642.5 990.2,641.5 990.8,632.2 992.6,567.0 993.0,556.9 993.2,554.3 993.4,553.5 993.8,557.6 994.2,568.3 995.8,628.4 996.4,640.7 996.6,642.9 997.0,644.7 997.2,644.4 997.4,643.1 998.0,634.6 999.6,588.4 1000.0,579.6 1000.4,575.9 1000.6,576.2 1000.8,577.9 1001.2,585.3 1003.0,636.5 1003.4,642.8 1004.0,646.9 1004.2,647.0 1004.4,646.4 1005.0,641.1 1006.8,604.6 1007.2,599.3 1007.4,598.1 1007.6,597.8 1008.0,600.5 1008.4,606.8 1010.0,640.2 1010.6,646.9 1010.8,648.1 1011.2,649.1 1011.6,648.3 1012.2,644.1 1013.8,621.9 1014.2,617.9 1014.6,616.4 1014.8,616.7 1015.0,617.7 1015.4,621.4 1017.2,645.9 1017.6,648.8 1018.2,650.7 1018.4,650.7 1018.6,650.5 1019.2,648.3 1021.0,633.5 1021.4,631.5 1021.6,631.1 1021.8,631.1 1022.4,633.5 1024.2,648.5 1024.6,650.4 1025.2,651.8 1025.6,651.9 1026.2,650.8 1026.8,648.5 1028.0,642.4 1028.4,641.0 1028.8,640.6 1029.2,641.1 1029.6,642.5 1031.2,650.4 1031.6,651.6 1032.2,652.6 1032.8,652.6 1033.4,651.9 1035.2,647.1 1035.8,646.4 1036.0,646.4 1036.4,646.9 1038.2,651.7 1038.6,652.4 1039.2,653.0 1039.8,653.2 1040.4,652.8 1042.2,650.4 1042.6,650.0 1043.0,649.9 1043.6,650.3 1045.2,652.6 1046.0,653.3 1047.0,653.6 1049.2,653.7" stroke="#D8286C"/><path d="M911.4,783.6L912.6,783.3 913.0,782.9 913.4,782.2 915.0,775.6 915.4,774.7 915.6,774.7 916.0,775.6 917.2,780.9 917.8,782.6 918.2,783.2 918.6,783.4 919.2,783.5 919.8,783.2 920.2,782.7 920.6,781.7 922.0,775.2 922.4,774.1 922.6,774.0 922.8,774.2 923.2,775.4 924.2,780.4 924.8,782.3 925.2,783.0 925.6,783.4 926.2,783.4 926.6,783.2 927.2,782.2 927.6,780.6 929.0,769.0 929.4,766.6 929.6,766.1 929.8,766.2 930.2,768.1 931.2,777.0 931.8,781.0 932.2,782.4 932.6,783.1 933.2,783.3 933.6,783.0 934.2,781.4 934.8,777.0 936.2,755.9 936.6,752.6 936.8,752.3 937.2,754.9 938.4,773.6 939.0,779.8 939.4,781.9 939.8,782.9 940.2,783.1 940.6,782.8 941.2,780.5 941.8,773.9 943.2,738.9 943.6,732.2 943.8,731.2 944.0,731.9 944.4,738.0 945.4,764.9 946.0,776.2 946.6,781.4 947.0,782.7 947.2,782.9 947.6,782.8 948.2,780.6 948.8,773.9 950.4,729.7 950.8,724.0 951.0,724.0 951.4,729.7 953.0,773.9 953.6,780.6 954.0,782.4 954.2,782.7 954.4,782.8 954.6,782.7 955.0,781.6 955.4,778.7 956.0,768.3 957.4,716.4 957.8,707.4 958.0,706.4 958.2,707.9 958.6,717.7 960.0,769.3 960.6,779.0 961.0,781.7 961.2,782.3 961.4,782.6 961.6,782.5 962.0,781.3 962.4,777.9 963.0,765.3 964.4,695.4 964.8,680.9 965.0,678.2 965.2,678.9 965.6,690.0 966.6,744.0 967.2,767.7 967.8,778.8 968.2,781.6 968.4,782.2 968.6,782.3 968.8,782.0 969.2,780.0 969.4,778.0 970.0,764.8 970.6,736.9 971.6,673.2 972.0,660.1 972.2,659.3 972.4,662.5 972.8,679.6 974.2,762.0 974.8,776.9 975.2,780.8 975.6,782.2 975.8,782.1 976.0,781.7 976.2,780.7 976.6,776.5 977.2,761.1 978.6,680.1 979.0,664.7 979.2,662.3 979.4,663.9 979.8,678.0 981.2,759.6 981.8,775.8 982.2,780.4 982.6,782.1 982.8,782.3 983.0,782.0 983.2,781.3 983.6,778.0 984.2,765.3 985.8,681.3 986.2,670.7 986.4,670.7 986.8,681.3 988.4,765.3 989.0,778.0 989.6,782.1 989.8,782.4 990.0,782.3 990.2,781.8 990.6,779.4 991.2,769.5 991.8,747.7 992.8,696.1 993.2,684.3 993.4,683.0 993.6,685.0 994.0,697.8 995.4,765.0 996.0,777.7 996.4,781.2 996.8,782.5 997.0,782.6 997.2,782.4 997.4,781.8 997.8,779.3 998.4,769.9 999.8,717.4 1000.2,706.5 1000.4,704.4 1000.6,704.9 1001.0,713.3 1002.0,753.8 1002.6,771.6 1003.2,780.0 1003.8,782.6 1004.0,782.8 1004.2,782.8 1004.4,782.5 1004.8,781.0 1005.4,774.8 1006.0,761.8 1007.0,732.0 1007.4,725.9 1007.6,725.5 1007.8,727.0 1008.2,735.0 1009.6,773.5 1010.2,780.5 1010.8,782.8 1011.0,783.0 1011.4,782.9 1011.8,782.1 1012.4,778.5 1013.0,770.4 1014.0,750.2 1014.4,745.3 1014.6,744.5 1014.8,745.0 1015.2,749.6 1016.6,775.9 1017.2,781.1 1017.8,783.0 1018.2,783.2 1018.6,783.0 1019.0,782.3 1019.4,780.6 1020.0,775.6 1021.2,759.8 1021.6,757.3 1021.8,757.3 1022.4,762.0 1023.6,777.7 1024.2,781.6 1024.8,783.1 1025.4,783.3 1025.8,782.9 1026.2,782.0 1026.6,780.0 1027.2,774.5 1028.2,761.5 1028.6,758.5 1028.8,758.2 1029.0,758.7 1029.4,761.9 1030.8,778.9 1031.2,781.3 1031.8,783.0 1032.2,783.3 1032.8,783.2 1033.2,782.7 1033.6,781.5 1034.2,778.0 1035.4,767.6 1035.8,766.1 1036.0,766.2 1036.4,768.1 1037.8,779.9 1038.2,781.8 1038.8,783.1 1039.2,783.4 1039.8,783.3 1040.2,782.9 1040.6,782.0 1041.2,779.1 1042.4,769.6 1042.8,767.9 1043.0,767.8 1043.4,769.1 1044.6,778.5 1045.2,781.7 1045.6,782.8 1046.0,783.3 1046.6,783.5 1048.0,783.6" stroke="#2E2A86"/><path d="M1099.6,649.9L1101.0,649.7 1101.8,649.3 1102.6,648.2 1104.0,645.6 1104.6,645.1 1105.0,645.2 1105.4,645.6 1107.2,648.7 1107.8,649.2 1108.4,649.0 1109.0,648.0 1109.4,646.8 1111.2,637.4 1111.6,636.1 1111.8,635.8 1112.0,635.8 1112.6,637.3 1114.4,646.5 1115.0,647.9 1115.4,648.0 1115.6,647.8 1116.2,645.7 1116.6,643.1 1118.4,622.6 1118.8,619.6 1119.0,618.9 1119.2,618.8 1119.6,620.3 1120.0,623.8 1121.6,642.3 1122.2,645.6 1122.4,646.1 1122.6,646.2 1122.8,645.9 1123.4,642.6 1123.8,638.1 1125.6,602.0 1126.0,596.6 1126.2,595.2 1126.4,594.9 1126.8,597.4 1127.2,603.4 1128.8,636.2 1129.4,642.5 1129.8,643.9 1130.0,643.7 1130.6,639.4 1131.0,633.0 1132.8,580.2 1133.2,572.1 1133.4,570.0 1133.6,569.4 1134.0,572.7 1134.4,581.3 1135.6,619.2 1136.2,633.5 1136.6,639.2 1137.0,641.6 1137.2,641.7 1137.6,639.3 1137.8,636.8 1138.2,629.1 1140.0,563.0 1140.4,552.5 1140.8,548.7 1141.2,552.5 1141.6,563.0 1142.8,610.6 1143.4,628.9 1143.8,636.4 1144.0,638.6 1144.2,640.0 1144.4,640.3 1144.8,638.2 1145.0,635.6 1145.4,627.4 1146.0,607.4 1147.2,554.8 1147.6,542.9 1148.0,538.3 1148.2,539.2 1148.4,542.1 1148.8,553.3 1150.6,626.3 1151.0,634.9 1151.2,637.6 1151.6,639.9 1151.8,639.6 1152.0,638.3 1152.2,635.9 1152.8,622.7 1154.4,556.9 1154.8,544.8 1155.2,539.9 1155.4,540.6 1155.6,543.2 1156.0,554.0 1157.8,626.2 1158.2,634.9 1158.4,637.7 1158.8,640.5 1159.0,640.4 1159.2,639.5 1159.4,637.6 1160.0,626.3 1161.6,568.1 1162.0,557.2 1162.4,552.5 1162.6,552.9 1162.8,555.0 1163.2,564.3 1165.0,628.4 1165.4,636.4 1166.0,641.8 1166.2,642.0 1166.6,640.0 1167.2,631.2 1169.0,579.3 1169.4,572.6 1169.6,571.2 1169.8,571.4 1170.0,573.0 1170.4,580.2 1172.2,632.2 1172.8,641.0 1173.0,642.6 1173.4,643.8 1173.8,642.5 1174.4,636.2 1176.2,597.7 1176.6,592.4 1176.8,591.3 1177.0,591.3 1177.6,597.7 1179.4,636.4 1180.0,643.2 1180.2,644.4 1180.6,645.5 1180.8,645.4 1181.0,644.8 1181.6,640.6 1183.4,614.1 1183.8,610.4 1184.0,609.5 1184.2,609.5 1184.8,613.6 1186.6,640.4 1187.2,645.2 1187.4,646.1 1187.8,647.0 1188.0,647.0 1188.2,646.7 1188.8,644.2 1190.6,627.5 1191.0,625.1 1191.2,624.5 1191.4,624.4 1191.8,625.7 1192.2,628.5 1193.8,643.8 1194.4,646.9 1195.0,648.1 1195.4,647.9 1196.0,646.5 1197.8,636.3 1198.2,634.8 1198.6,634.3 1199.0,635.0 1199.4,636.7 1201.0,646.1 1201.6,648.0 1202.2,648.8 1202.6,648.8 1203.2,648.1 1205.0,642.5 1205.4,641.7 1205.8,641.4 1206.2,641.7 1206.6,642.7 1208.2,647.8 1208.8,648.9 1209.4,649.3 1209.8,649.3 1210.4,649.0 1212.2,646.1 1212.6,645.7 1213.0,645.5 1213.4,645.7 1213.8,646.1 1215.4,648.8 1216.4,649.6 1217.0,649.6 1217.6,649.5 1219.4,648.1 1220.2,647.8 1221.0,648.1 1222.4,649.2 1223.2,649.6 1224.2,649.9 1226.0,649.9" stroke="#D8286C"/><path d="M1100.2,783.5L1101.0,783.3 1101.4,783.1 1101.8,782.4 1102.2,781.3 1103.8,771.0 1104.2,769.7 1104.4,769.7 1104.8,771.0 1106.0,779.3 1106.6,781.9 1107.0,782.8 1107.4,783.2 1108.0,783.3 1108.6,782.8 1109.2,781.1 1109.6,778.7 1110.8,766.2 1111.4,762.4 1111.6,762.4 1112.0,764.4 1113.2,777.1 1113.8,781.1 1114.2,782.4 1114.6,783.1 1115.2,783.2 1115.6,782.7 1116.2,780.4 1116.8,774.2 1118.0,749.6 1118.6,742.2 1118.8,742.2 1119.2,746.1 1120.4,770.9 1121.0,778.8 1121.4,781.4 1121.8,782.7 1122.0,782.9 1122.4,783.0 1122.8,782.3 1123.4,778.7 1124.0,769.3 1125.2,732.0 1125.8,720.7 1126.0,720.7 1126.4,726.6 1127.6,764.4 1128.2,776.4 1128.8,781.5 1129.2,782.6 1129.4,782.8 1129.6,782.7 1129.8,782.4 1130.4,779.2 1131.0,769.5 1132.6,705.5 1133.0,697.4 1133.2,697.4 1133.6,705.5 1134.8,757.3 1135.4,773.8 1136.0,780.8 1136.4,782.4 1136.6,782.6 1136.8,782.6 1137.0,782.2 1137.6,778.5 1138.2,767.2 1139.8,692.4 1140.2,682.9 1140.4,682.9 1140.8,692.4 1142.0,752.9 1142.6,772.1 1143.2,780.3 1143.6,782.2 1143.8,782.5 1144.0,782.4 1144.2,782.1 1144.8,778.0 1145.4,765.6 1147.0,683.4 1147.4,673.0 1147.6,673.0 1148.0,683.4 1149.6,765.6 1150.2,778.0 1150.6,781.3 1151.0,782.4 1151.2,782.4 1151.4,782.1 1151.6,781.3 1152.0,778.1 1152.6,765.7 1154.2,684.3 1154.6,674.0 1154.8,674.0 1155.2,684.3 1156.8,765.7 1157.4,778.1 1157.8,781.3 1158.2,782.5 1158.4,782.5 1158.6,782.2 1158.8,781.6 1159.2,778.8 1159.8,768.0 1161.4,697.1 1161.8,688.1 1162.0,688.1 1162.4,697.1 1164.0,768.0 1164.6,778.8 1165.0,781.6 1165.4,782.6 1165.6,782.6 1165.8,782.3 1166.0,781.8 1166.4,779.2 1167.0,769.4 1168.6,704.6 1169.0,696.4 1169.2,696.4 1169.6,704.6 1171.2,769.4 1171.8,779.2 1172.4,782.4 1172.6,782.7 1172.8,782.7 1173.0,782.5 1173.4,781.2 1174.0,775.3 1174.6,761.4 1175.8,717.7 1176.2,710.8 1176.4,710.8 1176.8,717.7 1178.4,771.7 1179.0,779.9 1179.6,782.6 1179.8,782.9 1180.2,782.8 1180.6,781.9 1181.2,777.8 1181.8,768.1 1183.0,737.7 1183.4,732.9 1183.6,732.9 1184.0,737.7 1185.6,775.3 1186.2,781.0 1186.8,782.9 1187.0,783.0 1187.4,782.9 1187.8,782.2 1188.4,778.8 1189.0,770.9 1190.2,746.1 1190.6,742.2 1190.8,742.2 1191.2,746.1 1192.8,776.8 1193.4,781.5 1194.0,783.0 1194.2,783.1 1194.6,783.1 1195.0,782.7 1195.6,780.7 1196.2,775.8 1197.4,760.7 1197.8,758.3 1198.0,758.3 1198.6,762.8 1199.8,777.8 1200.4,781.6 1201.0,783.0 1201.4,783.3 1202.0,783.0 1202.4,782.4 1202.8,780.9 1203.4,776.6 1204.6,762.9 1205.0,760.8 1205.2,760.8 1205.8,764.9 1207.0,778.4 1207.6,781.8 1208.2,783.1 1208.6,783.3 1209.2,783.2 1209.6,782.8 1210.0,781.9 1210.6,779.3 1211.8,771.0 1212.2,769.7 1212.4,769.7 1212.8,771.0 1214.0,779.3 1214.6,781.9 1215.0,782.8 1215.4,783.2 1216.0,783.3 1216.6,783.0 1217.2,781.6 1217.6,779.7 1219.0,768.2 1219.4,766.6 1219.6,766.6 1220.0,768.2 1221.6,780.8 1222.0,782.2 1222.4,783.0 1222.8,783.3 1223.6,783.5" stroke="#2E2A86"/><path d="M1291.8,651.1L1294.0,650.9 1295.2,650.4 1296.2,649.2 1298.2,645.6 1299.0,645.0 1299.4,645.1 1300.0,645.6 1301.8,648.9 1302.6,649.9 1303.4,650.3 1303.8,650.2 1304.2,649.9 1305.0,648.3 1305.6,646.1 1307.8,632.4 1308.4,629.7 1308.8,629.0 1309.0,629.0 1309.2,629.3 1309.8,631.4 1311.6,643.1 1312.4,646.9 1312.8,648.0 1313.2,648.6 1313.6,648.7 1314.0,648.1 1314.8,644.6 1315.4,639.7 1317.6,608.1 1318.2,602.2 1318.6,600.6 1318.8,600.7 1319.0,601.3 1319.6,606.2 1321.2,630.1 1322.0,639.9 1322.8,645.3 1323.2,646.3 1323.4,646.3 1323.6,646.1 1324.0,644.6 1324.4,641.7 1325.2,631.1 1327.4,576.5 1328.0,566.3 1328.4,563.8 1328.6,563.9 1328.8,565.0 1329.4,573.6 1331.0,615.0 1331.8,631.9 1332.6,641.4 1333.0,643.4 1333.2,643.7 1333.4,643.5 1333.8,641.7 1334.2,637.9 1335.0,623.2 1337.2,547.9 1337.8,534.0 1338.2,530.6 1338.4,530.8 1338.6,532.4 1339.2,544.4 1340.8,601.7 1341.6,624.9 1342.4,638.2 1342.8,641.1 1343.0,641.7 1343.2,641.7 1343.6,639.9 1344.0,635.5 1344.8,618.7 1347.0,532.1 1347.6,516.3 1348.0,512.5 1348.2,512.9 1348.4,514.8 1349.0,528.8 1350.6,594.7 1351.4,621.4 1352.0,633.9 1352.4,638.7 1352.8,640.9 1353.0,641.1 1353.2,640.6 1353.6,637.8 1354.4,624.0 1355.2,598.8 1356.8,533.2 1357.4,517.7 1357.8,514.1 1358.0,514.6 1358.2,516.5 1358.8,530.5 1360.4,595.7 1361.2,622.0 1361.8,634.4 1362.2,639.3 1362.6,641.6 1362.8,641.9 1363.0,641.6 1363.4,639.2 1364.2,627.3 1365.0,605.4 1366.6,548.5 1367.2,535.3 1367.6,532.3 1367.8,532.8 1368.0,534.5 1368.6,546.8 1370.2,603.4 1371.0,626.2 1371.6,636.9 1372.0,641.1 1372.4,643.2 1372.6,643.6 1372.8,643.4 1373.2,641.7 1374.0,632.6 1374.8,615.6 1376.4,571.9 1377.0,561.8 1377.4,559.6 1377.6,560.0 1377.8,561.4 1378.4,571.0 1380.0,614.7 1380.8,632.1 1381.4,640.3 1381.8,643.6 1382.2,645.3 1382.4,645.6 1382.6,645.5 1383.0,644.4 1383.8,638.0 1384.6,626.2 1386.2,595.8 1386.8,588.9 1387.2,587.4 1387.4,587.7 1387.6,588.7 1388.2,595.5 1389.8,625.9 1390.6,638.0 1391.2,643.7 1391.6,646.0 1392.0,647.2 1392.4,647.4 1392.8,646.8 1393.6,642.7 1394.4,635.2 1396.0,616.0 1396.6,611.7 1397.0,610.8 1397.4,611.7 1398.0,616.0 1399.6,635.3 1400.4,642.9 1401.0,646.5 1401.4,647.9 1401.8,648.7 1402.2,648.9 1402.6,648.5 1403.4,646.2 1404.2,641.9 1405.8,630.8 1406.4,628.4 1406.8,627.9 1407.2,628.4 1407.8,631.0 1409.4,642.1 1410.2,646.4 1410.8,648.5 1411.6,649.8 1412.0,649.9 1412.4,649.7 1413.2,648.5 1414.0,646.2 1415.6,640.3 1416.2,639.0 1416.6,638.8 1417.0,639.1 1417.6,640.5 1419.8,648.2 1420.4,649.4 1421.0,650.2 1421.8,650.5 1422.8,650.0 1423.6,649.0 1425.4,645.7 1426.0,645.1 1426.4,645.0 1426.8,645.2 1427.4,645.8 1429.0,648.8 1430.0,650.1 1431.2,650.9 1432.8,651.1" stroke="#D8286C"/><path d="M1294.1,782.9L1294.9,782.3 1295.5,781.3 1297.5,775.1 1298.1,774.2 1298.5,774.4 1298.9,775.1 1300.5,780.4 1301.3,782.0 1301.9,782.7 1302.7,783.0 1303.5,782.8 1304.1,782.3 1304.7,781.0 1305.3,778.5 1307.1,764.6 1307.5,762.4 1307.9,761.5 1308.3,762.1 1308.7,764.2 1310.1,775.5 1310.9,780.1 1311.5,781.8 1312.1,782.6 1312.5,782.8 1312.9,782.7 1313.5,782.0 1313.9,781.0 1314.3,779.1 1314.9,774.0 1315.5,765.6 1316.9,739.7 1317.3,735.1 1317.5,734.0 1317.7,733.7 1317.9,734.3 1318.3,738.0 1319.9,766.9 1320.7,776.8 1321.1,779.5 1321.7,781.7 1322.1,782.3 1322.5,782.4 1323.1,781.6 1323.5,780.1 1323.9,777.3 1324.7,765.8 1326.5,710.6 1326.9,701.1 1327.3,696.8 1327.5,696.8 1327.7,698.4 1328.1,705.8 1329.5,750.9 1330.3,769.9 1330.7,775.5 1331.3,780.1 1331.9,781.9 1332.3,782.0 1332.7,781.3 1333.1,779.6 1333.5,776.2 1334.3,761.5 1334.9,740.9 1336.3,674.3 1336.7,661.7 1337.1,656.8 1337.3,657.7 1337.5,660.8 1337.9,672.8 1339.3,739.2 1340.1,765.5 1340.5,773.1 1341.1,779.3 1341.7,781.5 1341.9,781.7 1342.1,781.7 1342.3,781.5 1342.9,778.9 1343.3,775.1 1344.1,758.6 1344.7,736.1 1346.1,667.2 1346.5,655.3 1346.7,652.5 1346.9,651.9 1347.1,653.6 1347.5,663.6 1349.1,740.5 1349.9,766.5 1350.3,773.8 1350.9,779.6 1351.5,781.6 1351.7,781.7 1351.9,781.6 1352.1,781.2 1352.7,778.1 1353.1,773.6 1353.9,754.7 1355.7,665.2 1356.1,650.1 1356.5,643.3 1356.7,643.5 1356.9,646.2 1357.3,658.3 1359.3,756.1 1360.1,774.2 1360.5,778.4 1361.1,781.3 1361.3,781.6 1361.5,781.7 1361.7,781.6 1362.3,779.6 1362.9,773.9 1363.3,766.9 1364.1,742.0 1365.5,678.0 1365.9,666.0 1366.3,661.5 1366.5,662.5 1366.7,665.5 1367.1,677.2 1368.5,741.2 1369.1,761.5 1369.9,776.1 1370.3,779.5 1370.9,781.7 1371.1,781.9 1371.5,781.7 1372.1,779.8 1372.7,774.5 1373.1,768.1 1373.9,746.1 1375.3,692.4 1375.7,683.3 1375.9,681.1 1376.1,680.8 1376.5,685.4 1376.9,696.2 1378.1,743.2 1378.9,766.5 1379.7,777.9 1380.1,780.4 1380.5,781.7 1380.9,782.1 1381.3,781.9 1381.9,780.1 1382.5,775.4 1382.9,769.9 1383.7,751.3 1384.9,713.5 1385.3,704.6 1385.7,700.8 1385.9,701.0 1386.1,702.7 1386.5,709.9 1387.9,753.0 1388.5,767.4 1389.3,777.9 1389.7,780.4 1390.1,781.7 1390.5,782.3 1390.9,782.3 1391.5,781.4 1392.1,778.6 1392.5,775.1 1393.3,762.9 1394.7,731.7 1395.1,726.0 1395.5,723.9 1395.9,726.0 1396.3,731.7 1397.7,762.9 1398.3,772.7 1399.1,779.8 1399.5,781.4 1399.9,782.2 1400.3,782.6 1400.7,782.5 1401.3,781.8 1401.9,779.6 1402.3,777.1 1403.1,768.2 1404.5,746.9 1404.9,743.4 1405.1,742.6 1405.3,742.4 1405.7,744.3 1406.1,748.7 1407.9,774.8 1408.5,779.3 1408.9,781.1 1409.3,782.1 1409.9,782.7 1410.3,782.8 1410.7,782.6 1411.3,781.8 1411.9,779.9 1412.7,774.9 1414.3,760.0 1414.7,758.0 1414.9,757.6 1415.1,757.7 1415.3,758.2 1415.7,760.5 1417.1,773.9 1417.7,778.3 1418.3,781.0 1418.9,782.3 1419.7,782.8 1420.5,782.7 1421.1,781.9 1421.7,780.3 1422.5,776.0 1423.9,765.3 1424.3,763.3 1424.7,762.6 1425.1,763.4 1425.5,765.4 1426.9,776.2 1427.7,780.4 1428.1,781.6 1428.7,782.5 1429.5,783.0 1430.7,783.1" stroke="#2E2A86"/><path d="M1516.9,652.2L1523.1,652.2 1524.5,652.0 1525.3,651.6 1527.1,649.5 1527.7,649.2 1528.3,649.5 1530.1,651.5 1530.7,651.7 1531.1,651.7 1531.9,650.8 1533.5,647.2 1534.1,646.5 1534.5,646.6 1534.9,647.2 1536.1,650.1 1536.7,651.1 1537.3,651.5 1537.7,651.4 1538.3,650.4 1538.7,649.1 1540.3,640.1 1540.7,638.6 1541.1,638.1 1541.3,638.3 1541.7,639.6 1543.5,649.4 1544.1,650.6 1544.5,650.6 1545.1,649.1 1545.5,647.0 1547.3,629.6 1547.7,627.6 1547.9,627.3 1548.1,627.6 1548.5,629.6 1550.3,646.9 1550.9,649.4 1551.1,649.7 1551.3,649.7 1551.9,647.7 1552.3,644.6 1554.1,617.5 1554.5,613.9 1554.7,613.2 1554.9,613.4 1555.1,614.5 1555.5,618.8 1557.1,643.4 1557.5,646.7 1557.9,648.3 1558.1,648.4 1558.5,647.3 1558.7,646.0 1559.3,638.8 1560.9,602.7 1561.5,595.8 1561.7,595.8 1561.9,597.0 1562.3,602.7 1563.5,631.1 1564.1,641.6 1564.5,645.5 1564.9,646.9 1565.1,646.6 1565.7,641.8 1566.1,634.8 1567.7,585.3 1568.1,576.7 1568.3,574.6 1568.5,574.2 1568.7,575.4 1569.1,582.6 1570.9,636.7 1571.3,642.5 1571.7,645.0 1571.9,645.0 1572.3,642.3 1572.5,639.6 1572.9,631.1 1574.7,560.9 1575.1,552.5 1575.3,551.4 1575.5,552.5 1575.9,560.9 1577.7,630.9 1578.1,639.2 1578.3,641.6 1578.5,643.1 1578.7,643.5 1579.1,641.1 1579.3,638.2 1579.7,628.9 1581.5,546.8 1581.9,535.8 1582.1,533.9 1582.3,534.5 1582.5,537.7 1582.9,550.7 1584.5,625.7 1585.1,639.4 1585.3,641.5 1585.5,642.4 1585.7,642.2 1586.3,634.2 1586.7,622.5 1588.3,543.0 1588.9,527.6 1589.1,527.6 1589.3,530.3 1589.7,543.0 1591.3,622.5 1591.7,634.3 1592.3,642.2 1592.5,642.4 1592.7,641.5 1592.9,639.5 1593.5,625.8 1595.1,551.2 1595.5,538.3 1595.7,535.1 1595.9,534.5 1596.1,536.4 1596.5,547.3 1598.3,629.0 1598.7,638.3 1598.9,641.1 1599.3,643.5 1599.5,643.2 1599.7,641.8 1599.9,639.3 1600.3,631.2 1602.1,562.1 1602.5,553.8 1602.7,552.7 1602.9,553.8 1603.3,562.1 1605.1,631.4 1605.5,639.8 1605.7,642.5 1606.1,645.1 1606.3,645.2 1606.7,642.8 1607.1,637.1 1608.9,584.5 1609.3,577.5 1609.5,576.3 1609.7,576.7 1609.9,578.7 1610.3,587.1 1611.9,635.3 1612.3,642.1 1612.9,646.9 1613.1,647.1 1613.3,646.8 1613.9,642.3 1614.5,632.5 1615.7,606.0 1616.1,600.6 1616.3,599.4 1616.5,599.4 1617.1,606.0 1618.7,639.7 1619.1,644.7 1619.7,648.5 1619.9,648.8 1620.1,648.8 1620.3,648.3 1620.9,644.7 1622.5,623.6 1622.9,619.9 1623.1,619.0 1623.3,618.8 1623.5,619.4 1623.9,622.5 1625.5,643.8 1625.9,647.2 1626.5,649.8 1626.7,650.1 1626.9,650.1 1627.1,650.0 1627.7,648.0 1629.5,634.3 1629.9,632.6 1630.1,632.4 1630.3,632.6 1630.7,634.3 1632.5,648.1 1632.9,649.8 1633.3,650.7 1633.5,651.0 1633.9,651.0 1634.5,650.0 1636.3,642.7 1636.9,641.5 1637.3,641.9 1637.7,643.0 1638.9,648.4 1639.5,650.4 1640.3,651.7 1641.3,652.1" stroke="#D8286C"/><path d="M1517.0,782.9L1519.0,782.7 1519.6,782.3 1520.6,781.2 1521.2,780.9 1521.8,781.2 1522.8,782.3 1523.4,782.7 1524.4,782.9 1525.4,782.7 1526.2,782.0 1527.4,779.4 1528.0,778.7 1528.2,778.7 1528.6,779.3 1529.6,781.5 1530.2,782.4 1531.0,782.8 1532.0,782.8 1532.6,782.3 1533.0,781.7 1534.4,777.3 1534.8,776.7 1535.0,776.7 1535.4,777.4 1536.4,780.7 1537.0,782.1 1537.8,782.8 1538.6,782.7 1539.2,781.9 1539.8,779.7 1541.2,767.9 1541.6,766.0 1541.8,765.9 1542.2,767.6 1543.2,776.6 1543.8,780.5 1544.4,782.2 1544.8,782.6 1545.4,782.6 1546.0,781.5 1546.6,778.2 1548.0,759.6 1548.4,756.3 1548.6,756.0 1549.0,758.3 1550.6,778.8 1551.2,781.7 1551.6,782.4 1551.8,782.6 1552.2,782.5 1552.8,781.2 1553.4,776.9 1554.8,751.6 1555.2,746.8 1555.4,746.1 1555.6,746.8 1556.0,751.6 1557.4,776.9 1558.0,781.2 1558.4,782.2 1558.6,782.4 1559.0,782.3 1559.6,780.6 1560.2,774.7 1561.8,733.2 1562.2,728.6 1562.4,729.2 1562.8,735.8 1564.2,773.4 1564.8,780.1 1565.2,781.8 1565.4,782.1 1565.6,782.3 1565.8,782.1 1566.2,781.0 1566.6,778.1 1567.2,767.1 1568.6,712.3 1569.0,704.7 1569.2,705.0 1569.6,713.5 1570.6,755.4 1571.2,772.7 1571.8,780.1 1572.2,781.8 1572.4,782.0 1572.6,782.0 1573.0,780.8 1573.4,777.4 1574.0,764.6 1575.4,696.6 1575.8,685.9 1576.0,685.6 1576.4,695.0 1577.4,746.8 1578.0,769.2 1578.6,779.1 1579.0,781.4 1579.2,781.8 1579.4,781.8 1579.8,780.5 1580.2,776.6 1580.8,761.5 1582.2,676.9 1582.6,662.1 1582.8,660.8 1583.2,671.0 1584.8,764.4 1585.4,777.7 1585.8,780.9 1586.0,781.5 1586.2,781.7 1586.4,781.4 1586.8,779.3 1587.0,777.2 1587.6,762.9 1589.0,678.9 1589.4,662.6 1589.6,660.4 1589.8,662.6 1590.2,678.9 1591.6,762.9 1592.2,777.2 1592.6,780.7 1592.8,781.4 1593.0,781.7 1593.2,781.5 1593.6,779.6 1593.8,777.6 1594.4,764.0 1596.0,668.9 1596.4,658.5 1596.6,659.8 1597.0,674.9 1598.4,761.1 1599.0,776.5 1599.6,781.3 1599.8,781.7 1600.0,781.6 1600.2,781.1 1600.6,778.3 1601.2,766.3 1601.8,739.1 1602.8,676.3 1603.2,664.9 1603.4,665.4 1603.8,678.3 1605.2,760.7 1605.8,776.2 1606.4,781.3 1606.6,781.8 1606.8,781.8 1607.0,781.5 1607.4,779.5 1608.0,770.3 1608.6,749.0 1609.6,697.4 1610.0,686.8 1610.2,686.5 1610.6,695.8 1612.0,763.4 1612.6,776.9 1613.2,781.5 1613.4,781.9 1613.6,782.1 1613.8,781.9 1614.2,780.7 1614.8,774.5 1615.4,759.9 1616.4,722.8 1616.8,714.4 1617.0,713.7 1617.2,715.4 1617.6,725.3 1618.8,768.0 1619.4,778.2 1620.0,781.8 1620.2,782.2 1620.4,782.3 1620.6,782.3 1621.0,781.5 1621.6,777.5 1622.2,767.6 1623.2,741.5 1623.6,735.1 1623.8,734.2 1624.0,735.1 1624.4,741.5 1625.6,771.7 1626.0,777.5 1626.6,781.5 1627.0,782.3 1627.2,782.5 1627.6,782.3 1628.0,781.4 1628.4,779.4 1629.0,772.7 1630.2,751.3 1630.6,748.4 1630.8,748.8 1631.2,753.0 1632.6,776.9 1633.0,780.1 1633.4,781.8 1634.0,782.6 1634.6,782.4 1635.0,781.6 1635.4,780.0 1636.0,775.3 1637.0,764.5 1637.4,762.6 1637.6,762.6 1638.0,764.9 1639.0,775.7 1639.6,780.2 1640.2,782.2 1640.6,782.7 1641.4,782.9" stroke="#2E2A86"/><path d="M1721.5,650.0L1723.7,649.9 1724.9,649.7 1725.9,649.0 1726.7,647.9 1727.5,646.0 1728.1,644.0 1730.5,633.8 1731.1,632.2 1731.7,631.6 1732.3,632.2 1732.9,633.8 1735.3,644.0 1736.5,647.5 1737.3,648.7 1738.1,649.1 1738.9,648.7 1739.5,647.9 1740.5,644.6 1741.5,638.1 1742.3,630.1 1744.3,605.9 1744.9,601.2 1745.5,599.1 1745.7,599.2 1746.1,600.2 1746.7,604.3 1749.1,632.5 1750.3,642.5 1750.9,645.4 1751.7,647.5 1752.1,647.9 1752.5,647.9 1753.1,647.0 1753.7,644.9 1754.1,642.6 1755.1,633.0 1756.1,616.7 1758.3,570.5 1758.9,562.9 1759.3,560.6 1759.5,560.3 1759.7,560.7 1760.1,563.2 1760.7,571.2 1762.9,617.5 1764.1,635.9 1764.7,641.4 1765.5,645.6 1766.1,646.8 1766.5,646.8 1766.9,646.1 1767.5,643.8 1768.1,639.3 1769.1,625.9 1770.1,603.6 1772.1,547.9 1772.7,537.1 1773.1,533.3 1773.3,532.6 1773.5,532.8 1773.9,535.4 1774.5,544.9 1776.9,610.2 1777.9,630.2 1778.5,637.9 1779.1,642.8 1779.5,644.8 1779.9,646.0 1780.3,646.3 1780.7,646.0 1781.3,643.9 1781.9,639.6 1782.9,626.3 1783.9,603.8 1786.1,540.5 1786.7,530.2 1787.1,527.2 1787.3,526.9 1787.5,527.5 1787.9,531.2 1788.5,542.3 1790.5,600.5 1791.5,624.1 1792.1,633.8 1792.7,640.3 1793.3,644.3 1793.9,646.2 1794.3,646.5 1794.7,646.1 1795.1,644.9 1795.5,642.9 1796.1,638.0 1796.7,630.6 1797.7,611.5 1799.9,555.6 1800.5,545.8 1800.9,542.5 1801.1,541.9 1801.3,542.1 1801.7,544.7 1802.3,553.6 1804.5,609.2 1805.5,629.1 1806.1,637.0 1806.7,642.3 1807.3,645.5 1807.9,647.0 1808.3,647.1 1808.7,646.8 1809.3,645.0 1809.9,641.7 1810.5,636.4 1811.5,622.6 1813.9,577.5 1814.5,570.8 1814.9,568.9 1815.1,568.8 1815.3,569.3 1815.7,571.8 1816.3,579.3 1818.3,617.7 1819.3,633.2 1819.9,639.5 1820.5,643.8 1821.1,646.4 1821.7,647.7 1822.1,648.0 1822.5,647.9 1823.1,646.9 1823.9,644.0 1824.5,640.3 1825.5,630.9 1827.7,603.6 1828.3,598.9 1828.7,597.3 1828.9,597.1 1829.1,597.2 1829.5,598.6 1830.1,603.0 1832.3,630.3 1833.3,639.9 1834.3,645.6 1834.9,647.5 1835.5,648.5 1836.1,648.8 1836.5,648.7 1836.9,648.3 1837.7,646.8 1838.3,644.8 1839.3,639.6 1841.7,622.6 1842.3,620.1 1842.7,619.4 1842.9,619.4 1843.5,620.6 1844.1,623.5 1846.1,638.0 1847.1,643.8 1848.1,647.3 1848.7,648.4 1849.3,649.1 1849.9,649.3 1850.7,649.2 1851.5,648.5 1852.1,647.5 1853.3,644.3 1855.5,636.3 1856.1,634.9 1856.7,634.4 1857.3,634.9 1857.9,636.2 1860.1,644.2 1860.9,646.6 1861.9,648.5 1862.9,649.4 1863.5,649.6 1864.3,649.7 1865.1,649.5 1865.9,649.0 1867.1,647.8 1869.5,644.1 1870.1,643.6 1870.7,643.5 1871.3,643.8 1871.9,644.4 1874.7,648.5 1876.1,649.5 1877.1,649.8 1878.3,650.0 1885.5,650.0" stroke="#D8286C"/><path d="M1722.3,782.9L1725.3,782.8 1726.5,782.5 1727.5,781.5 1728.3,779.4 1728.9,776.7 1729.5,772.9 1731.7,752.8 1732.3,749.4 1732.7,748.4 1732.9,748.4 1733.1,748.8 1733.7,751.4 1735.9,771.3 1737.1,778.7 1737.9,781.1 1738.3,781.8 1738.9,782.3 1739.5,782.5 1740.1,782.3 1740.7,781.7 1741.1,780.9 1741.7,778.9 1742.1,776.8 1742.9,770.1 1743.7,759.7 1745.5,730.9 1746.1,725.0 1746.5,723.5 1746.7,723.6 1746.9,724.2 1747.5,728.9 1749.7,763.2 1750.3,770.5 1750.9,775.7 1751.7,779.8 1752.5,781.7 1752.9,782.1 1753.5,782.2 1754.1,781.7 1754.5,781.0 1755.1,779.0 1755.5,776.7 1756.5,766.2 1757.5,747.1 1759.3,703.2 1759.9,694.5 1760.3,692.4 1760.5,692.6 1760.7,693.6 1761.3,701.0 1763.5,753.3 1764.5,769.9 1765.1,775.8 1765.9,780.1 1766.3,781.1 1766.9,781.9 1767.5,781.8 1768.1,781.0 1768.7,778.8 1769.3,774.8 1770.3,761.3 1771.1,742.5 1773.1,681.1 1773.7,670.3 1774.1,667.8 1774.3,668.1 1774.5,669.5 1775.1,679.2 1777.3,745.8 1778.3,766.7 1778.9,774.1 1779.7,779.4 1780.1,780.7 1780.7,781.7 1781.3,781.7 1781.7,781.2 1782.5,778.6 1783.1,774.3 1784.1,760.0 1784.9,740.3 1786.9,676.5 1787.5,665.6 1787.9,663.2 1788.1,663.6 1788.3,665.1 1788.9,675.5 1790.9,739.2 1791.9,763.0 1792.9,775.7 1793.5,779.3 1793.9,780.7 1794.3,781.5 1794.7,781.8 1795.3,781.6 1795.7,781.0 1796.1,779.9 1796.9,775.2 1797.5,768.8 1798.7,745.4 1800.7,690.0 1801.3,680.7 1801.7,678.8 1802.1,680.7 1802.7,690.0 1804.7,745.4 1805.7,765.9 1806.7,776.8 1807.3,779.9 1807.7,781.1 1808.1,781.7 1808.5,782.0 1809.1,781.8 1809.5,781.3 1809.9,780.3 1810.7,776.4 1811.3,771.0 1812.3,755.5 1814.5,705.5 1815.1,698.0 1815.3,696.9 1815.5,696.6 1815.9,698.3 1816.5,706.2 1818.5,752.2 1819.3,766.4 1820.3,776.7 1820.9,779.8 1821.7,781.7 1822.1,782.1 1822.7,782.2 1823.3,781.7 1823.7,781.0 1824.5,778.1 1825.1,774.2 1826.1,762.9 1828.3,726.9 1828.9,721.6 1829.1,720.9 1829.3,720.7 1829.7,722.1 1830.3,727.9 1832.3,761.1 1833.1,771.2 1834.1,778.5 1834.7,780.7 1835.3,781.9 1835.7,782.2 1836.3,782.4 1836.9,782.2 1837.3,781.8 1838.1,780.1 1838.7,777.7 1839.3,773.8 1839.9,768.4 1842.1,742.7 1842.7,739.1 1842.9,738.6 1843.1,738.5 1843.5,739.6 1844.1,743.8 1845.9,765.3 1846.9,774.7 1847.9,779.8 1848.3,781.0 1848.9,782.0 1849.3,782.3 1849.9,782.6 1850.9,782.4 1851.7,781.7 1852.5,780.0 1853.7,774.9 1855.9,761.1 1856.5,759.2 1856.9,758.9 1857.3,759.5 1857.9,761.9 1859.7,773.5 1860.5,777.7 1861.3,780.4 1862.3,782.1 1863.3,782.7 1864.5,782.7 1865.5,782.2 1866.3,781.2 1867.5,778.2 1869.7,770.0 1870.3,768.9 1870.7,768.8 1871.1,769.2 1871.5,770.0 1873.9,778.8 1874.5,780.4 1875.3,781.7 1876.1,782.4 1877.1,782.8 1881.3,782.9" stroke="#2E2A86"/></g><g stroke="#222" stroke-width="1.3"><line x1="911.4" y1="783.8" x2="1048" y2="783.8"/><line x1="933.3" y1="780.5" x2="933.3" y2="789.5"/><line x1="989.9" y1="780.5" x2="989.9" y2="789.5"/><line x1="1046.7" y1="780.5" x2="1046.7" y2="789.5"/><line x1="1100.2" y1="783.8" x2="1223.6" y2="783.8"/><line x1="1107.4" y1="780.5" x2="1107.4" y2="789.5"/><line x1="1164.5" y1="780.5" x2="1164.5" y2="789.5"/><line x1="1221.9" y1="780.5" x2="1221.9" y2="789.5"/><line x1="1294.1" y1="783.8" x2="1432" y2="783.8"/><line x1="1294.6" y1="780.5" x2="1294.6" y2="789.5"/><line x1="1353.3" y1="780.5" x2="1353.3" y2="789.5"/><line x1="1412" y1="780.5" x2="1412" y2="789.5"/><line x1="1517" y1="783.8" x2="1641.4" y2="783.8"/><line x1="1517.8" y1="780.5" x2="1517.8" y2="789.5"/><line x1="1559.1" y1="780.5" x2="1559.1" y2="789.5"/><line x1="1600.4" y1="780.5" x2="1600.4" y2="789.5"/><line x1="1641.4" y1="780.5" x2="1641.4" y2="789.5"/><line x1="1722.3" y1="783.8" x2="1881.9" y2="783.8"/><line x1="1728.3" y1="780.5" x2="1728.3" y2="789.5"/><line x1="1783.7" y1="780.5" x2="1783.7" y2="789.5"/><line x1="1838.9" y1="780.5" x2="1838.9" y2="789.5"/></g><text x="933.3" y="806.6" font-size="16" text-anchor="middle" font-weight="normal" >2924</text><text x="1047" y="806.6" font-size="16" text-anchor="middle" font-weight="normal" >2928</text><text x="1107.4" y="806.6" font-size="16" text-anchor="middle" font-weight="normal" >2987</text><text x="1222" y="806.6" font-size="16" text-anchor="middle" font-weight="normal" >2991</text><text x="1294.6" y="806.6" font-size="16" text-anchor="middle" font-weight="normal" >3086</text><text x="1412.5" y="804.2" font-size="14" text-anchor="middle" font-weight="normal" >3090</text><text x="1519" y="806.6" font-size="16" text-anchor="middle" font-weight="normal" >3168</text><text x="1601" y="806.6" font-size="16" text-anchor="middle" font-weight="normal" >3172</text><text x="1728.3" y="806.6" font-size="16" text-anchor="middle" font-weight="normal" >3534</text><text x="1838.9" y="806.6" font-size="16" text-anchor="middle" font-weight="normal" >3538</text><text x="902.5" y="543" font-size="40" text-anchor="start" font-weight="bold" >i</text><path d="M931.7,1141.5L932.0,1158.2 932.2,1158.2 932.5,1158.2 932.7,1141.1 933.0,1151.7 933.3,1156.6 933.5,1157.9 933.8,1145.5 934.0,1157.3 934.3,1158.2 934.6,1144.0 934.8,1158.2 935.1,1151.6 935.3,1148.7 935.6,1152.6 935.9,1149.5 936.1,1138.4 936.4,1153.2 936.6,1158.2 936.9,1158.2 937.2,1150.8 937.4,1152.0 937.7,1147.1 937.9,1152.9 938.2,1153.1 938.5,1135.6 938.7,1153.4 939.0,1148.0 939.2,1152.4 939.5,1148.5 939.8,1134.2 940.0,1145.6 940.3,1158.2 940.5,1135.6 940.8,1146.7 941.1,1157.0 941.3,1142.2 941.6,1149.4 941.8,1138.0 942.1,1154.6 942.4,1157.5 942.6,1149.2 942.9,1141.1 943.1,1152.2 943.4,1146.3 943.7,1134.7 943.9,1158.2 944.2,1147.7 944.4,1152.2 944.7,1158.2 945.0,1158.0 945.2,1149.9 945.5,1146.4 945.7,1154.1 946.0,1149.4 946.3,1144.1 946.5,1147.6 946.8,1143.0 947.0,1146.2 947.3,1145.9 947.6,1135.2 947.8,1144.7 948.1,1148.7 948.3,1144.0 948.6,1156.9 948.9,1152.2 949.1,1143.2 949.4,1144.4 949.6,1137.0 949.9,1149.3 950.2,1158.2 950.4,1119.9 950.7,1140.5 950.9,1157.6 951.2,1138.1 951.5,1148.8 951.7,1158.1 952.0,1152.3 952.2,1153.0 952.5,1136.1 952.8,1155.2 953.0,1150.8 953.3,1150.9 953.5,1151.7 953.8,1153.9 954.1,1146.8 954.3,1139.9 954.6,1143.5 954.8,1126.8 955.1,1132.6 955.4,1136.6 955.6,1144.6 955.9,1151.4 956.1,1155.0 956.4,1132.6 956.7,1140.8 956.9,1155.9 957.2,1140.7 957.4,1137.2 957.7,1158.0 958.0,1152.3 958.2,1150.9 958.5,1142.6 958.7,1148.7 959.0,1134.0 959.3,1148.1 959.5,1132.8 959.8,1130.3 960.0,1151.7 960.3,1154.8 960.6,1122.1 960.8,1155.2 961.1,1151.9 961.3,1147.0 961.6,1143.3 961.9,1130.4 962.1,1144.0 962.4,1154.1 962.6,1143.0 962.9,1145.0 963.2,1132.0 963.4,1147.1 963.7,1157.6 963.9,1155.3 964.2,1135.3 964.5,1151.2 964.7,1158.2 965.0,1151.4 965.2,1146.8 965.5,1137.2 965.8,1154.8 966.0,1141.3 966.3,1140.3 966.5,1152.2 966.8,1148.1 967.1,1132.4 967.3,1132.8 967.6,1139.7 967.8,1143.8 968.1,1137.3 968.4,1147.5 968.6,1143.2 968.9,1153.2 969.1,1146.3 969.4,1146.9 969.7,1124.1 969.9,1147.8 970.2,1129.3 970.4,1135.6 970.7,1145.6 971.0,1136.8 971.2,1137.2 971.5,1123.7 971.7,1132.3 972.0,1100.7 972.3,1082.1 972.5,1093.1 972.8,1077.6 973.0,1107.3 973.3,1109.4 973.6,1108.4 973.8,1123.0 974.1,1137.6 974.3,1143.2 974.6,1143.9 974.9,1146.1 975.1,1135.0 975.4,1142.8 975.6,1140.5 975.9,1146.7 976.2,1154.8 976.4,1151.2 976.7,1140.2 976.9,1144.6 977.2,1152.6 977.5,1157.2 977.7,1144.4 978.0,1148.0 978.2,1148.1 978.5,1147.9 978.8,1134.0 979.0,1142.8 979.3,1122.9 979.5,1137.7 979.8,1134.4 980.1,1138.6 980.3,1147.7 980.6,1145.4 980.8,1141.0 981.1,1123.6 981.4,1140.5 981.6,1135.6 981.9,1151.2 982.1,1155.1 982.4,1135.2 982.7,1144.6 982.9,1139.0 983.2,1155.3 983.4,1130.7 983.7,1136.1 984.0,1131.0 984.2,1147.3 984.5,1143.6 984.7,1145.8 985.0,1146.6 985.3,1150.4 985.5,1134.2 985.8,1144.6 986.0,1143.7 986.3,1143.5 986.6,1158.2 986.8,1140.0 987.1,1146.8 987.3,1146.4 987.6,1143.5 987.9,1151.8 988.1,1137.3 988.4,1149.6 988.6,1151.2 988.9,1146.9 989.2,1142.6 989.4,1137.9 989.7,1148.6 989.9,1155.9 990.2,1135.3 990.5,1152.3 990.7,1134.1 991.0,1126.5 991.2,1149.2 991.5,1143.5 991.8,1139.9 992.0,1130.4 992.3,1145.3 992.5,1136.1 992.8,1109.8 993.1,1145.5 993.3,1153.0 993.6,1140.9 993.8,1144.0 994.1,1149.1 994.4,1149.8 994.6,1154.7 994.9,1139.9 995.1,1158.2 995.4,1136.0 995.7,1122.4 995.9,1129.9 996.2,1140.1 996.4,1140.7 996.7,1130.2 997.0,1117.6 997.2,1143.9 997.5,1150.4 997.7,1145.2 998.0,1150.5 998.3,1150.3 998.5,1137.0 998.8,1145.1 999.0,1147.4 999.3,1137.9 999.6,1155.5 999.8,1146.3 1000.1,1130.1 1000.3,1144.7 1000.6,1135.5 1000.9,1136.0 1001.1,1134.6 1001.4,1139.3 1001.6,1156.3 1001.9,1128.9 1002.2,1148.4 1002.4,1157.8 1002.7,1149.1 1002.9,1155.5 1003.2,1158.2 1003.5,1143.9 1003.7,1145.9 1004.0,1151.1 1004.2,1153.3 1004.5,1150.0 1004.8,1148.9 1005.0,1149.1 1005.3,1146.3 1005.5,1149.4 1005.8,1142.8 1006.1,1141.8 1006.3,1130.0 1006.6,1151.4 1006.8,1151.0 1007.1,1142.6 1007.4,1139.4 1007.6,1146.5 1007.9,1158.2 1008.1,1158.2 1008.4,1143.6 1008.7,1143.6 1008.9,1135.2 1009.2,1140.6 1009.4,1144.6 1009.7,1146.3 1010.0,1157.8 1010.2,1139.4 1010.5,1151.3 1010.7,1142.5 1011.0,1144.9 1011.3,1144.4 1011.5,1139.4 1011.8,1150.5 1012.0,1149.7 1012.3,1153.5 1012.6,1149.7 1012.8,1133.4 1013.1,1149.7 1013.3,1137.3 1013.6,1140.2 1013.9,1141.0 1014.1,1140.4 1014.4,1155.0 1014.6,1143.9 1014.9,1134.2 1015.2,1152.5 1015.4,1147.4 1015.7,1152.5 1015.9,1144.5 1016.2,1155.7 1016.5,1134.2 1016.7,1150.2 1017.0,1158.2 1017.2,1132.9 1017.5,1139.5 1017.8,1143.1 1018.0,1143.0 1018.3,1150.2 1018.5,1149.1 1018.8,1141.6 1019.1,1140.0 1019.3,1140.0 1019.6,1145.7 1019.8,1151.2 1020.1,1149.0 1020.4,1138.6 1020.6,1136.0 1020.9,1150.3 1021.1,1151.4 1021.4,1137.7 1021.7,1141.9 1021.9,1142.1 1022.2,1158.2 1022.4,1150.7 1022.7,1151.8 1023.0,1146.0 1023.2,1158.2 1023.5,1137.6 1023.7,1145.3 1024.0,1144.3 1024.3,1157.2 1024.5,1148.0 1024.8,1137.1 1025.0,1158.2 1025.3,1145.3 1025.6,1142.2 1025.8,1153.3 1026.1,1141.3 1026.3,1150.5 1026.6,1138.0 1026.9,1143.6 1027.1,1146.1 1027.4,1131.8 1027.6,1141.2 1027.9,1137.4 1028.2,1157.4 1028.4,1153.1 1028.7,1141.2 1028.9,1140.7 1029.2,1148.4 1029.5,1141.7 1029.7,1156.4 1030.0,1146.2 1030.2,1157.1 1030.5,1145.2 1030.8,1151.9 1031.0,1153.1 1031.3,1147.5 1031.5,1133.5 1031.8,1156.1 1032.1,1152.8 1032.3,1139.5 1032.6,1151.4 1032.8,1133.9 1033.1,1146.3 1033.4,1147.3 1033.6,1145.2 1033.9,1134.1 1034.1,1142.8 1034.4,1144.0 1034.7,1146.1 1034.9,1158.2 1035.2,1131.9 1035.4,1136.3 1035.7,1141.6 1036.0,1144.1 1036.2,1143.1 1036.5,1152.5 1036.7,1145.5 1037.0,1145.7 1037.3,1144.9 1037.5,1153.7 1037.8,1149.6 1038.0,1144.2 1038.3,1150.4 1038.6,1142.5 1038.8,1144.0 1039.1,1144.7 1039.3,1136.9 1039.6,1158.2 1039.9,1158.2 1040.1,1142.4 1040.4,1139.7 1040.6,1131.1 1040.9,1141.0 1041.2,1140.4 1041.4,1154.0 1041.7,1140.9 1041.9,1141.4 1042.2,1155.2 1042.5,1153.8 1042.7,1147.5 1043.0,1144.2 1043.2,1158.2 1043.5,1145.8 1043.8,1144.5 1044.0,1147.7 1044.3,1144.1 1044.5,1142.5 1044.8,1154.2 1045.1,1142.7 1045.3,1147.9 1045.6,1153.4 1045.8,1144.1 1046.1,1133.8 1046.4,1157.3 1046.6,1158.2 1046.9,1158.2 1047.1,1129.6 1047.4,1147.4 1047.7,1145.8 1047.9,1151.5 1048.2,1152.7 1048.4,1158.2 1048.7,1143.7 1049.0,1142.9 1049.2,1158.2 1049.5,1153.2 1049.7,1150.7 1050.0,1144.9 1050.3,1142.7 1050.5,1135.6 1050.8,1133.6 1051.0,1135.9 1051.3,1133.6 1051.6,1153.6 1051.8,1148.7 1052.1,1135.1 1052.3,1141.9 1052.6,1144.0 1052.9,1158.2 1053.1,1158.2 1053.4,1138.2 1053.6,1141.2 1053.9,1146.3 1054.2,1147.2 1054.4,1157.7 1054.7,1140.8 1054.9,1135.5 1055.2,1130.6 1055.5,1134.8 1055.7,1145.3 1056.0,1152.4 1056.2,1133.8 1056.5,1129.9 1056.8,1148.4 1057.0,1141.1 1057.3,1142.7 1057.5,1148.0 1057.8,1158.2 1058.1,1143.4 1058.3,1127.4 1058.6,1154.8 1058.8,1149.9 1059.1,1158.2 1059.4,1132.8 1059.6,1139.1 1059.9,1142.7 1060.1,1132.3 1060.4,1148.0 1060.7,1143.5 1060.9,1145.3 1061.2,1144.8 1061.4,1143.1 1061.7,1141.7 1062.0,1130.3 1062.2,1154.3 1062.5,1140.5 1062.7,1147.6 1063.0,1151.7 1063.3,1158.1 1063.5,1137.6 1063.8,1150.4 1064.0,1148.5 1064.3,1138.7 1064.6,1151.1 1064.8,1142.1 1065.1,1142.9 1065.3,1135.9 1065.6,1134.1 1065.9,1149.1 1066.1,1134.8 1066.4,1142.9 1066.6,1141.1 1066.9,1143.8 1067.2,1136.0 1067.4,1143.3 1067.7,1140.2 1067.9,1132.9 1068.2,1119.2 1068.5,1099.2 1068.7,1092.6 1069.0,1092.8 1069.2,1117.1 1069.5,1135.5 1069.8,1136.7 1070.0,1140.4 1070.3,1143.3 1070.5,1149.3 1070.8,1135.9 1071.1,1130.9 1071.3,1154.9 1071.6,1136.5 1071.8,1141.7 1072.1,1136.7 1072.4,1123.6 1072.6,1133.7 1072.9,1140.8 1073.1,1142.0 1073.4,1155.0 1073.7,1137.4 1073.9,1149.6 1074.2,1142.2 1074.4,1142.9 1074.7,1136.1 1075.0,1127.6 1075.2,1136.0 1075.5,1131.4 1075.7,1145.9 1076.0,1140.4 1076.3,1138.0 1076.5,1155.7 1076.8,1127.9 1077.0,1150.0 1077.3,1154.6 1077.6,1131.3 1077.8,1110.6 1078.1,1150.1 1078.3,1149.5 1078.6,1119.7 1078.9,1143.8 1079.1,1158.2 1079.4,1149.7 1079.6,1128.8 1079.9,1097.8 1080.2,1139.0 1080.4,1135.2 1080.7,1139.7 1080.9,1147.8 1081.2,1158.0 1081.5,1124.1 1081.7,1154.3 1082.0,1122.1 1082.2,1131.4 1082.5,1141.2 1082.8,1145.1 1083.0,1145.1 1083.3,1139.9 1083.5,1138.4 1083.8,1156.4 1084.1,1144.4 1084.3,1132.2 1084.6,1140.0 1084.8,1152.2 1085.1,1151.6 1085.4,1158.2 1085.6,1152.6 1085.9,1133.5 1086.1,1147.0 1086.4,1143.5 1086.7,1151.2 1086.9,1125.3 1087.2,1147.5 1087.4,1149.6 1087.7,1153.0 1088.0,1141.8 1088.2,1134.6 1088.5,1151.5 1088.7,1151.4 1089.0,1137.6 1089.3,1158.2 1089.5,1152.0 1089.8,1150.3 1090.0,1146.0 1090.3,1149.6 1090.6,1154.6 1090.8,1143.6 1091.1,1157.1 1091.3,1158.2 1091.6,1141.2 1091.9,1141.8 1092.1,1145.8 1092.4,1144.4 1092.6,1142.7 1092.9,1141.6 1093.2,1149.5 1093.4,1152.6 1093.7,1147.6 1093.9,1153.1 1094.2,1138.6 1094.5,1138.4 1094.7,1155.7 1095.0,1134.2 1095.2,1135.9 1095.5,1152.4 1095.8,1145.3 1096.0,1139.0 1096.3,1158.2 1096.5,1156.4 1096.8,1157.4 1097.1,1147.7 1097.3,1145.8 1097.6,1148.7 1097.8,1154.8 1098.1,1153.2 1098.4,1136.4 1098.6,1140.0 1098.9,1147.9 1099.1,1158.2 1099.4,1143.9 1099.7,1138.2 1099.9,1144.1 1100.2,1135.0 1100.4,1142.3 1100.7,1156.6 1101.0,1156.5 1101.2,1137.7 1101.5,1147.1 1101.7,1141.7 1102.0,1149.6 1102.3,1156.3 1102.5,1146.1 1102.8,1135.8 1103.0,1145.5 1103.3,1157.2 1103.6,1150.6 1103.8,1152.1 1104.1,1146.7 1104.3,1139.8 1104.6,1132.2 1104.9,1142.9 1105.1,1151.3 1105.4,1147.2 1105.6,1147.7 1105.9,1151.2 1106.2,1147.6 1106.4,1147.8 1106.7,1157.2 1106.9,1143.3 1107.2,1150.6 1107.5,1155.6 1107.7,1143.8 1108.0,1151.6 1108.2,1133.7 1108.5,1143.9 1108.8,1147.1 1109.0,1153.7 1109.3,1150.9 1109.5,1140.9 1109.8,1153.2 1110.1,1119.9 1110.3,1158.2 1110.6,1146.1 1110.8,1141.1 1111.1,1145.0 1111.4,1147.7 1111.6,1139.6 1111.9,1154.4 1112.1,1155.3 1112.4,1146.5 1112.7,1137.6 1112.9,1143.7 1113.2,1148.6 1113.4,1144.5 1113.7,1143.3 1114.0,1156.6 1114.2,1158.2 1114.5,1154.7 1114.7,1158.2 1115.0,1137.2 1115.3,1155.7 1115.5,1152.9 1115.8,1142.4 1116.0,1145.0 1116.3,1145.8 1116.6,1132.2 1116.8,1149.1 1117.1,1148.3 1117.3,1135.0 1117.6,1153.9 1117.9,1157.9 1118.1,1134.3 1118.4,1136.9 1118.6,1139.7 1118.9,1139.3 1119.2,1137.0 1119.4,1147.9 1119.7,1144.6 1119.9,1152.8 1120.2,1142.7 1120.5,1141.8 1120.7,1147.1 1121.0,1138.0 1121.2,1119.6 1121.5,1152.4 1121.8,1136.4 1122.0,1111.8 1122.3,1134.2 1122.5,1149.0 1122.8,1114.2 1123.1,1137.1 1123.3,1143.2 1123.6,1144.8 1123.8,1140.0 1124.1,1134.3 1124.4,1134.6 1124.6,1123.2 1124.9,1144.2 1125.1,1136.3 1125.4,1144.6 1125.7,1134.8 1125.9,1139.8 1126.2,1145.6 1126.4,1151.3 1126.7,1146.7 1127.0,1138.7 1127.2,1128.9 1127.5,1134.5 1127.7,1150.4 1128.0,1144.8 1128.3,1140.7 1128.5,1142.1 1128.8,1140.7 1129.0,1135.2 1129.3,1139.9 1129.6,1147.3 1129.8,1157.3 1130.1,1144.7 1130.3,1155.5 1130.6,1143.5 1130.9,1139.8 1131.1,1153.2 1131.4,1143.8 1131.6,1145.5 1131.9,1127.7 1132.2,1139.4 1132.4,1158.2 1132.7,1139.8 1132.9,1140.1 1133.2,1145.2 1133.5,1146.6 1133.7,1139.0 1134.0,1138.5 1134.2,1140.5 1134.5,1152.0 1134.8,1146.1 1135.0,1156.7 1135.3,1143.5 1135.5,1130.6 1135.8,1152.9 1136.1,1147.9 1136.3,1124.8 1136.6,1140.8 1136.8,1152.0 1137.1,1158.2 1137.4,1151.8 1137.6,1156.6 1137.9,1158.2 1138.1,1139.6 1138.4,1149.3 1138.7,1142.0 1138.9,1120.9 1139.2,1143.5 1139.4,1144.8 1139.7,1143.0 1140.0,1148.0 1140.2,1152.5 1140.5,1147.6 1140.7,1136.9 1141.0,1148.2 1141.3,1157.1 1141.5,1156.1 1141.8,1144.1 1142.0,1146.2 1142.3,1142.5 1142.6,1142.5 1142.8,1136.9 1143.1,1148.1 1143.3,1139.8 1143.6,1127.0 1143.9,1140.9 1144.1,1158.2 1144.4,1136.6 1144.6,1158.2 1144.9,1155.7 1145.2,1140.5 1145.4,1149.9 1145.7,1132.7 1145.9,1145.5 1146.2,1155.1 1146.5,1145.7 1146.7,1150.2 1147.0,1134.7 1147.2,1112.3 1147.5,1141.3 1147.8,1150.5 1148.0,1146.7 1148.3,1139.0 1148.5,1153.9 1148.8,1153.9 1149.1,1140.8 1149.3,1141.8 1149.6,1149.7 1149.8,1150.0 1150.1,1158.2 1150.4,1138.6 1150.6,1149.1 1150.9,1158.2 1151.1,1157.3 1151.4,1155.5 1151.7,1134.8 1151.9,1143.0 1152.2,1158.2 1152.4,1133.8 1152.7,1138.0 1153.0,1137.7 1153.2,1158.2 1153.5,1141.3 1153.7,1153.9 1154.0,1150.2 1154.3,1153.4 1154.5,1139.2 1154.8,1137.5 1155.0,1143.0 1155.3,1150.7 1155.6,1147.5 1155.8,1144.7 1156.1,1158.2 1156.3,1139.9 1156.6,1152.5 1156.9,1147.8 1157.1,1148.7 1157.4,1142.5 1157.6,1141.2 1157.9,1131.9 1158.2,1152.4 1158.4,1156.7 1158.7,1148.3 1158.9,1154.5 1159.2,1142.3 1159.5,1155.5 1159.7,1147.9 1160.0,1141.4 1160.2,1140.7 1160.5,1147.1 1160.8,1137.4 1161.0,1138.3 1161.3,1158.2 1161.5,1145.6 1161.8,1146.9 1162.1,1150.6 1162.3,1153.3 1162.6,1147.7 1162.8,1121.5 1163.1,1145.7 1163.4,1136.9 1163.6,1139.8 1163.9,1152.4 1164.1,1153.7 1164.4,1124.8 1164.7,1153.0 1164.9,1146.1 1165.2,1143.5 1165.4,1139.0 1165.7,1143.0 1166.0,1135.5 1166.2,1150.7 1166.5,1141.6 1166.7,1152.1 1167.0,1145.3 1167.3,1145.7 1167.5,1154.1 1167.8,1158.2 1168.0,1138.8 1168.3,1143.5 1168.6,1145.2 1168.8,1151.9 1169.1,1148.9 1169.3,1142.5 1169.6,1145.9 1169.9,1136.7 1170.1,1145.0 1170.4,1152.4 1170.6,1140.9 1170.9,1150.8 1171.2,1143.9 1171.4,1158.2 1171.7,1148.3 1171.9,1141.1 1172.2,1150.8 1172.5,1145.9 1172.7,1141.0 1173.0,1145.2 1173.2,1131.5 1173.5,1147.9 1173.8,1147.4 1174.0,1147.3 1174.3,1158.2 1174.5,1148.4 1174.8,1141.9 1175.1,1148.8 1175.3,1116.6 1175.6,1146.9 1175.8,1147.7 1176.1,1138.1 1176.4,1144.2 1176.6,1133.6 1176.9,1154.9 1177.1,1143.0 1177.4,1141.1 1177.7,1142.2 1177.9,1137.4 1178.2,1138.4 1178.4,1127.9 1178.7,1151.2 1179.0,1138.9 1179.2,1146.4 1179.5,1139.1 1179.7,1136.0 1180.0,1145.2 1180.3,1154.0 1180.5,1148.8 1180.8,1140.5 1181.0,1148.7 1181.3,1136.3 1181.6,1146.5 1181.8,1145.8 1182.1,1151.9 1182.3,1147.7 1182.6,1138.2 1182.9,1149.8 1183.1,1137.7 1183.4,1132.3 1183.6,1141.0 1183.9,1158.2 1184.2,1152.6 1184.4,1140.1 1184.7,1136.1 1184.9,1147.2 1185.2,1120.3 1185.5,1158.2 1185.7,1141.7 1186.0,1145.4 1186.2,1157.6 1186.5,1158.2 1186.8,1152.0 1187.0,1145.8 1187.3,1144.9 1187.5,1147.0 1187.8,1133.8 1188.1,1142.2 1188.3,1158.2 1188.6,1150.9 1188.8,1151.9 1189.1,1139.5 1189.4,1151.7 1189.6,1139.7 1189.9,1147.0 1190.1,1128.9 1190.4,1148.0 1190.7,1147.6 1190.9,1148.5 1191.2,1146.4 1191.4,1128.1 1191.7,1151.6 1192.0,1154.5 1192.2,1149.1 1192.5,1142.1 1192.7,1155.4 1193.0,1141.1 1193.3,1141.3 1193.5,1148.7 1193.8,1149.4 1194.0,1153.7 1194.3,1149.5 1194.6,1153.7 1194.8,1137.4 1195.1,1134.3 1195.3,1149.5 1195.6,1147.6 1195.9,1158.2 1196.1,1151.5 1196.4,1144.5 1196.6,1145.0 1196.9,1146.2 1197.2,1140.4 1197.4,1146.4 1197.7,1150.2 1197.9,1134.3 1198.2,1158.2 1198.5,1156.3 1198.7,1152.9 1199.0,1152.9 1199.2,1153.2 1199.5,1148.8 1199.8,1152.7 1200.0,1147.5 1200.3,1142.3 1200.5,1146.8 1200.8,1145.9 1201.1,1154.4 1201.3,1156.0 1201.6,1149.3 1201.8,1139.5 1202.1,1143.9 1202.4,1138.2 1202.6,1139.0 1202.9,1137.9 1203.1,1153.3 1203.4,1137.0 1203.7,1140.8 1203.9,1130.3 1204.2,1142.2 1204.4,1144.3 1204.7,1136.5 1205.0,1145.5 1205.2,1158.2 1205.5,1148.8 1205.7,1147.1 1206.0,1138.9 1206.3,1152.0 1206.5,1145.7 1206.8,1132.3 1207.0,1151.0 1207.3,1140.1 1207.6,1151.0 1207.8,1147.5 1208.1,1143.1 1208.3,1139.7 1208.6,1150.6 1208.9,1154.8 1209.1,1134.7 1209.4,1145.2 1209.6,1140.4 1209.9,1139.4 1210.2,1140.7 1210.4,1148.7 1210.7,1147.7 1210.9,1158.0 1211.2,1145.2 1211.5,1150.4 1211.7,1146.8 1212.0,1131.8 1212.2,1141.2 1212.5,1146.2 1212.8,1157.4 1213.0,1140.8 1213.3,1134.5 1213.5,1153.1 1213.8,1139.1 1214.1,1150.7 1214.3,1147.8 1214.6,1149.4 1214.8,1155.7 1215.1,1150.6 1215.4,1154.2 1215.6,1135.6 1215.9,1138.3 1216.1,1146.2 1216.4,1144.3 1216.7,1145.2 1216.9,1142.6 1217.2,1139.4 1217.4,1130.7 1217.7,1131.5 1218.0,1129.2 1218.2,1127.0 1218.5,1105.6 1218.7,1106.3 1219.0,1106.1 1219.3,1092.6 1219.5,1038.5 1219.8,1007.8 1220.0,1011.8 1220.3,1007.9 1220.6,878.9 1220.8,904.2 1221.1,984.2 1221.3,982.4 1221.6,1073.3 1221.9,1085.6 1222.1,1083.1 1222.4,1101.9 1222.6,1095.0 1222.9,1118.3 1223.2,1118.4 1223.4,1132.6 1223.7,1133.9 1223.9,1144.3 1224.2,1144.1 1224.5,1141.5 1224.7,1141.3 1225.0,1131.9 1225.2,1118.6 1225.5,1106.8 1225.8,1129.7 1226.0,1136.4 1226.3,1143.0 1226.5,1148.4 1226.8,1118.0 1227.1,1137.8 1227.3,1150.8 1227.6,1154.1 1227.8,1156.9 1228.1,1138.9 1228.4,1136.3 1228.6,1132.1 1228.9,1145.1 1229.1,1111.8 1229.4,1152.1 1229.7,1141.8 1229.9,1105.0 1230.2,1144.3 1230.4,1147.0 1230.7,1123.7 1231.0,1158.1 1231.2,1150.0 1231.5,1151.1 1231.7,1147.4 1232.0,1151.7 1232.3,1148.4 1232.5,1146.1 1232.8,1142.5 1233.0,1146.0 1233.3,1150.7 1233.6,1148.6 1233.8,1139.3 1234.1,1147.9 1234.3,1153.8 1234.6,1154.0 1234.9,1143.9 1235.1,1141.7 1235.4,1136.5 1235.6,1134.1 1235.9,1135.2 1236.2,1148.6 1236.4,1147.6 1236.7,1150.2 1236.9,1141.6 1237.2,1137.5 1237.5,1145.8 1237.7,1127.5 1238.0,1157.5 1238.2,1144.3 1238.5,1148.1 1238.8,1146.9 1239.0,1150.2 1239.3,1152.1 1239.5,1148.5 1239.8,1141.7 1240.1,1137.6 1240.3,1145.1 1240.6,1142.5 1240.8,1146.5 1241.1,1132.0 1241.4,1155.5 1241.6,1127.1 1241.9,1140.1 1242.1,1133.4 1242.4,1149.4 1242.7,1143.6 1242.9,1151.7 1243.2,1118.8 1243.4,1118.0 1243.7,1139.1 1244.0,1145.4 1244.2,1118.6 1244.5,1148.0 1244.7,1139.5 1245.0,1146.4 1245.3,1147.4 1245.5,1143.3 1245.8,1141.0 1246.0,1113.9 1246.3,1155.5 1246.6,1142.2 1246.8,1144.1 1247.1,1157.7 1247.3,1156.9 1247.6,1149.7 1247.9,1141.3 1248.1,1142.2 1248.4,1136.0 1248.6,1134.8 1248.9,1119.1 1249.2,1155.1 1249.4,1144.2 1249.7,1135.7 1249.9,1151.3 1250.2,1128.2 1250.5,1142.5 1250.7,1135.5 1251.0,1115.9 1251.2,1157.9 1251.5,1153.5 1251.8,1125.9 1252.0,1133.2 1252.3,1141.7 1252.5,1143.2 1252.8,1130.6 1253.1,1131.8 1253.3,1142.9 1253.6,1109.4 1253.8,1135.7 1254.1,1153.0 1254.4,1141.4 1254.6,1143.4 1254.9,1155.4 1255.1,1135.3 1255.4,1132.1 1255.7,1133.6 1255.9,1142.5 1256.2,1127.3 1256.4,1143.5 1256.7,1140.1 1257.0,1147.7 1257.2,1131.3 1257.5,1151.5 1257.7,1131.3 1258.0,1146.2 1258.3,1137.8 1258.5,1143.6 1258.8,1141.2 1259.0,1133.1 1259.3,1143.6 1259.6,1152.1 1259.8,1142.9 1260.1,1139.7 1260.3,1152.0 1260.6,1137.2 1260.9,1136.3 1261.1,1158.2 1261.4,1146.1 1261.6,1138.5 1261.9,1154.0 1262.2,1148.2 1262.4,1146.8 1262.7,1140.6 1262.9,1136.3 1263.2,1145.3 1263.5,1144.5 1263.7,1137.8 1264.0,1140.8 1264.2,1146.0 1264.5,1134.7 1264.8,1156.3 1265.0,1144.0 1265.3,1148.5 1265.5,1149.2 1265.8,1143.7 1266.1,1145.0 1266.3,1126.0 1266.6,1140.3 1266.8,1142.6 1267.1,1132.4 1267.4,1137.4 1267.6,1158.2 1267.9,1144.5 1268.1,1139.6 1268.4,1150.2 1268.7,1143.2 1268.9,1149.1 1269.2,1142.6 1269.4,1158.2 1269.7,1158.2 1270.0,1150.0 1270.2,1143.9 1270.5,1135.2 1270.7,1147.9 1271.0,1151.7 1271.3,1138.6 1271.5,1145.6 1271.8,1131.6 1272.0,1146.6 1272.3,1158.2 1272.6,1152.2 1272.8,1153.5 1273.1,1157.0 1273.3,1152.2 1273.6,1151.5 1273.9,1148.3 1274.1,1150.4 1274.4,1142.9 1274.6,1142.9 1274.9,1144.8 1275.2,1143.3 1275.4,1158.2 1275.7,1158.2 1275.9,1153.3 1276.2,1144.3 1276.5,1157.9 1276.7,1149.7 1277.0,1144.4 1277.2,1130.6 1277.5,1144.2 1277.8,1150.4 1278.0,1137.5 1278.3,1144.5 1278.5,1148.5 1278.8,1137.3 1279.1,1153.3 1279.3,1144.5 1279.6,1145.3 1279.8,1138.8 1280.1,1155.0 1280.4,1156.1 1280.6,1128.6 1280.9,1148.0 1281.1,1145.4 1281.4,1148.7 1281.7,1142.3 1281.9,1140.2 1282.2,1143.9 1282.4,1154.0 1282.7,1136.4 1283.0,1157.7 1283.2,1125.7 1283.5,1138.4 1283.7,1150.3 1284.0,1135.1 1284.3,1130.2 1284.5,1132.8 1284.8,1141.8 1285.0,1137.4 1285.3,1149.2 1285.6,1141.9 1285.8,1141.5 1286.1,1144.3 1286.3,1143.8 1286.6,1146.6 1286.9,1156.0 1287.1,1141.7 1287.4,1142.3 1287.6,1128.5 1287.9,1116.3 1288.2,1144.1 1288.4,1137.7 1288.7,1139.6 1288.9,1144.7 1289.2,1147.5 1289.5,1156.1 1289.7,1143.4 1290.0,1131.4 1290.2,1158.2 1290.5,1151.8 1290.8,1138.2 1291.0,1142.7 1291.3,1140.8 1291.5,1158.2 1291.8,1148.8 1292.1,1140.0 1292.3,1139.3 1292.6,1141.7 1292.8,1151.0 1293.1,1139.7 1293.4,1153.5 1293.6,1151.4 1293.9,1153.2 1294.1,1132.4 1294.4,1147.2 1294.7,1143.4 1294.9,1158.2 1295.2,1135.1 1295.4,1140.1 1295.7,1157.0 1296.0,1156.6 1296.2,1130.5 1296.5,1151.3 1296.7,1129.0 1297.0,1147.4 1297.3,1158.2 1297.5,1134.8 1297.8,1139.6 1298.0,1138.2 1298.3,1138.5 1298.6,1145.3 1298.8,1135.9 1299.1,1150.1 1299.3,1158.2 1299.6,1136.3 1299.9,1148.5 1300.1,1133.3 1300.4,1147.3 1300.6,1146.9 1300.9,1145.4 1301.2,1158.2 1301.4,1134.0 1301.7,1148.4 1301.9,1144.9 1302.2,1131.6 1302.5,1142.4 1302.7,1136.1 1303.0,1140.6 1303.2,1137.1 1303.5,1141.0 1303.8,1134.0 1304.0,1144.9 1304.3,1139.5 1304.5,1148.8 1304.8,1133.7 1305.1,1158.2 1305.3,1141.6 1305.6,1140.2 1305.8,1140.3 1306.1,1143.1 1306.4,1132.3 1306.6,1126.1 1306.9,1147.8 1307.1,1158.2 1307.4,1152.0 1307.7,1149.9 1307.9,1144.6 1308.2,1144.0 1308.4,1135.1 1308.7,1147.2 1309.0,1144.2 1309.2,1143.1 1309.5,1151.1 1309.7,1146.8 1310.0,1122.3 1310.3,1145.2 1310.5,1152.2 1310.8,1158.2 1311.0,1115.7 1311.3,1147.4 1311.6,1150.0 1311.8,1125.5 1312.1,1133.7 1312.3,1158.2 1312.6,1148.2 1312.9,1137.5 1313.1,1138.9 1313.4,1154.6 1313.6,1131.6 1313.9,1131.1 1314.2,1154.9 1314.4,1158.2 1314.7,1157.4 1314.9,1141.0 1315.2,1125.5 1315.5,1145.1 1315.7,1151.5 1316.0,1147.6 1316.2,1142.4 1316.5,1156.7 1316.8,1158.2 1317.0,1128.6 1317.3,1137.5 1317.5,1145.9 1317.8,1146.0 1318.1,1153.1 1318.3,1140.4 1318.6,1158.2 1318.8,1148.5 1319.1,1152.9 1319.4,1149.5 1319.6,1155.8 1319.9,1142.5 1320.1,1149.2 1320.4,1142.5 1320.7,1144.7 1320.9,1149.3 1321.2,1153.2 1321.4,1153.9 1321.7,1143.0 1322.0,1156.7 1322.2,1150.9 1322.5,1151.2 1322.7,1146.5 1323.0,1150.5 1323.3,1131.7 1323.5,1158.2 1323.8,1144.1 1324.0,1149.0 1324.3,1139.8 1324.6,1158.2 1324.8,1138.8 1325.1,1158.2 1325.3,1142.9 1325.6,1144.3 1325.9,1148.1 1326.1,1154.2 1326.4,1154.7 1326.6,1147.4 1326.9,1154.1 1327.2,1158.2 1327.4,1158.2 1327.7,1141.5 1327.9,1141.2 1328.2,1143.6 1328.5,1147.3 1328.7,1144.6 1329.0,1143.6 1329.2,1145.5 1329.5,1153.7 1329.8,1153.2 1330.0,1156.5 1330.3,1146.0 1330.5,1155.1 1330.8,1148.3 1331.1,1136.5 1331.3,1149.9 1331.6,1139.1 1331.8,1134.3 1332.1,1158.2 1332.4,1158.1 1332.6,1142.8 1332.9,1152.2 1333.1,1142.2 1333.4,1140.7 1333.7,1150.4 1333.9,1139.6 1334.2,1132.2 1334.4,1138.4 1334.7,1153.0 1335.0,1147.1 1335.2,1150.2 1335.5,1133.3 1335.7,1147.3 1336.0,1151.2 1336.3,1145.2 1336.5,1141.4 1336.8,1148.5 1337.0,1144.6 1337.3,1142.3 1337.6,1139.6 1337.8,1124.9 1338.1,1138.5 1338.3,1149.3 1338.6,1142.4 1338.9,1152.8 1339.1,1137.1 1339.4,1142.9 1339.6,1143.7 1339.9,1158.0 1340.2,1126.8 1340.4,1134.1 1340.7,1135.6 1340.9,1144.8 1341.2,1140.4 1341.5,1123.0 1341.7,1151.3 1342.0,1139.9 1342.2,1127.8 1342.5,1144.7 1342.8,1143.0 1343.0,1153.7 1343.3,1140.7 1343.5,1154.9 1343.8,1131.2 1344.1,1139.5 1344.3,1152.7 1344.6,1152.3 1344.8,1145.1 1345.1,1141.9 1345.4,1144.8 1345.6,1132.6 1345.9,1135.5 1346.1,1133.1 1346.4,1120.4 1346.7,1122.3 1346.9,1103.4 1347.2,1089.6 1347.4,1087.2 1347.7,1057.0 1348.0,1045.2 1348.2,1033.4 1348.5,968.4 1348.7,1059.4 1349.0,1033.3 1349.3,1094.6 1349.5,1098.0 1349.8,1100.1 1350.0,1113.2 1350.3,1131.1 1350.6,1123.2 1350.8,1136.3 1351.1,1141.4 1351.3,1135.0 1351.6,1129.6 1351.9,1118.2 1352.1,1121.7 1352.4,1121.3 1352.6,1132.9 1352.9,1139.8 1353.2,1144.8 1353.4,1151.4 1353.7,1148.3 1353.9,1131.2 1354.2,1149.5 1354.5,1154.3 1354.7,1153.7 1355.0,1145.0 1355.2,1136.9 1355.5,1152.2 1355.8,1144.9 1356.0,1144.5 1356.3,1142.5 1356.5,1145.0 1356.8,1137.7 1357.1,1140.6 1357.3,1145.2 1357.6,1126.6 1357.8,1152.3 1358.1,1156.5 1358.4,1130.4 1358.6,1144.4 1358.9,1133.7 1359.1,1144.2 1359.4,1140.3 1359.7,1149.2 1359.9,1150.8 1360.2,1150.8 1360.4,1152.6 1360.7,1152.1 1361.0,1133.3 1361.2,1143.4 1361.5,1141.2 1361.7,1128.6 1362.0,1137.1 1362.3,1158.0 1362.5,1132.8 1362.8,1139.9 1363.0,1150.0 1363.3,1153.6 1363.6,1134.3 1363.8,1151.0 1364.1,1152.4 1364.3,1145.4 1364.6,1154.2 1364.9,1146.3 1365.1,1128.9 1365.4,1148.6 1365.6,1137.8 1365.9,1153.5 1366.2,1107.3 1366.4,1147.1 1366.7,1146.3 1366.9,1138.9 1367.2,1127.8 1367.5,1146.1 1367.7,1134.7 1368.0,1142.4 1368.2,1121.4 1368.5,1149.0 1368.8,1151.0 1369.0,1147.0 1369.3,1151.6 1369.5,1145.6 1369.8,1154.0 1370.1,1145.5 1370.3,1144.2 1370.6,1131.1 1370.8,1131.9 1371.1,1138.6 1371.4,1149.8 1371.6,1141.0 1371.9,1119.8 1372.1,1147.5 1372.4,1152.8 1372.7,1158.2 1372.9,1104.9 1373.2,1092.0 1373.4,1147.8 1373.7,1112.2 1374.0,1143.3 1374.2,1142.4 1374.5,1140.2 1374.7,1141.7 1375.0,1147.6 1375.3,1143.5 1375.5,1118.6 1375.8,1136.8 1376.0,1149.6 1376.3,1139.3 1376.6,1132.6 1376.8,1117.1 1377.1,1146.5 1377.3,1149.1 1377.6,1140.7 1377.9,1158.2 1378.1,1158.2 1378.4,1149.3 1378.6,1140.0 1378.9,1137.9 1379.2,1153.6 1379.4,1134.3 1379.7,1135.0 1379.9,1152.2 1380.2,1143.0 1380.5,1136.8 1380.7,1105.2 1381.0,1158.2 1381.2,1151.8 1381.5,1146.7 1381.8,1139.9 1382.0,1155.4 1382.3,1145.2 1382.5,1156.8 1382.8,1146.6 1383.1,1157.8 1383.3,1150.8 1383.6,1158.2 1383.8,1154.8 1384.1,1158.2 1384.4,1158.2 1384.6,1137.0 1384.9,1137.3 1385.1,1142.8 1385.4,1149.5 1385.7,1134.8 1385.9,1148.7 1386.2,1143.0 1386.4,1137.2 1386.7,1144.5 1387.0,1134.4 1387.2,1147.3 1387.5,1147.3 1387.7,1145.0 1388.0,1155.2 1388.3,1154.5 1388.5,1139.6 1388.8,1158.2 1389.0,1136.6 1389.3,1143.4 1389.6,1136.1 1389.8,1139.4 1390.1,1140.6 1390.3,1131.4 1390.6,1145.9 1390.9,1146.1 1391.1,1136.1 1391.4,1150.4 1391.6,1136.0 1391.9,1130.3 1392.2,1149.0 1392.4,1155.1 1392.7,1158.2 1392.9,1129.8 1393.2,1156.7 1393.5,1154.3 1393.7,1137.7 1394.0,1140.8 1394.2,1142.8 1394.5,1143.8 1394.8,1147.8 1395.0,1151.8 1395.3,1150.3 1395.5,1139.5 1395.8,1135.6 1396.1,1134.7 1396.3,1144.5 1396.6,1158.2 1396.8,1140.0 1397.1,1145.3 1397.4,1158.2 1397.6,1127.1 1397.9,1142.3 1398.1,1144.5 1398.4,1142.5 1398.7,1143.1 1398.9,1142.2 1399.2,1138.0 1399.4,1143.9 1399.7,1139.5 1400.0,1141.2 1400.2,1124.7 1400.5,1142.9 1400.7,1148.1 1401.0,1148.8 1401.3,1140.9 1401.5,1143.0 1401.8,1141.9 1402.0,1145.5 1402.3,1145.4 1402.6,1137.8 1402.8,1133.0 1403.1,1141.1 1403.3,1144.7 1403.6,1153.2 1403.9,1153.2 1404.1,1143.6 1404.4,1145.9 1404.6,1144.8 1404.9,1152.9 1405.2,1145.0 1405.4,1158.2 1405.7,1153.7 1405.9,1150.5 1406.2,1139.4 1406.5,1149.1 1406.7,1151.8 1407.0,1142.1 1407.2,1145.0 1407.5,1121.5 1407.8,1141.7 1408.0,1142.6 1408.3,1145.9 1408.5,1139.1 1408.8,1138.9 1409.1,1156.7 1409.3,1117.3 1409.6,1148.3 1409.8,1144.1 1410.1,1139.5 1410.4,1136.4 1410.6,1158.2 1410.9,1152.9 1411.1,1134.7 1411.4,1158.2 1411.7,1140.8 1411.9,1147.5 1412.2,1151.7 1412.4,1145.6 1412.7,1158.2 1413.0,1141.4 1413.2,1135.2 1413.5,1156.1 1413.7,1150.0 1414.0,1135.0 1414.3,1141.7 1414.5,1147.3 1414.8,1133.2 1415.0,1158.2 1415.3,1147.0 1415.6,1144.0 1415.8,1147.3 1416.1,1138.4 1416.3,1158.2 1416.6,1144.4 1416.9,1151.1 1417.1,1135.2 1417.4,1136.4 1417.6,1150.8 1417.9,1153.7 1418.2,1145.2 1418.4,1151.8 1418.7,1149.5 1418.9,1141.5 1419.2,1148.6 1419.5,1130.4 1419.7,1144.4 1420.0,1149.2 1420.2,1153.9 1420.5,1149.2 1420.8,1136.1 1421.0,1140.6 1421.3,1133.5 1421.5,1134.5 1421.8,1140.6 1422.1,1150.6 1422.3,1146.3 1422.6,1144.5 1422.8,1158.2 1423.1,1142.4 1423.4,1153.4 1423.6,1145.8 1423.9,1149.3 1424.1,1140.5 1424.4,1124.0 1424.7,1154.7 1424.9,1145.3 1425.2,1128.7 1425.4,1147.8 1425.7,1147.0 1426.0,1146.0 1426.2,1142.7 1426.5,1158.2 1426.7,1142.7 1427.0,1140.4 1427.3,1124.8 1427.5,1145.9 1427.8,1149.9 1428.0,1144.3 1428.3,1158.2 1428.6,1142.7 1428.8,1132.9 1429.1,1145.7 1429.3,1145.7 1429.6,1147.4 1429.9,1144.4 1430.1,1155.5 1430.4,1133.2 1430.6,1149.3 1430.9,1149.3 1431.2,1132.3 1431.4,1145.5 1431.7,1149.0 1431.9,1132.4 1432.2,1144.2 1432.5,1138.2 1432.7,1150.3 1433.0,1158.2 1433.2,1144.4 1433.5,1134.3 1433.8,1149.5 1434.0,1142.9 1434.3,1140.1 1434.5,1143.8 1434.8,1145.3 1435.1,1139.7 1435.3,1144.2 1435.6,1150.3 1435.8,1137.5 1436.1,1139.6 1436.4,1143.0 1436.6,1140.3 1436.9,1158.2 1437.1,1144.0 1437.4,1145.8 1437.7,1158.2 1437.9,1129.5 1438.2,1143.4 1438.4,1149.8 1438.7,1149.3 1439.0,1144.2 1439.2,1146.5 1439.5,1158.2 1439.7,1149.6 1440.0,1141.8 1440.3,1141.5 1440.5,1139.5 1440.8,1155.0 1441.0,1151.6 1441.3,1143.5 1441.6,1151.4 1441.8,1144.8 1442.1,1153.2 1442.3,1141.8 1442.6,1145.9 1442.9,1141.7 1443.1,1146.0 1443.4,1152.6 1443.6,1156.0 1443.9,1145.8 1444.2,1151.1 1444.4,1158.1 1444.7,1150.5 1444.9,1139.7 1445.2,1136.0 1445.5,1139.8 1445.7,1123.2 1446.0,1141.8 1446.2,1147.0 1446.5,1153.4 1446.8,1152.0 1447.0,1132.7 1447.3,1142.2 1447.5,1140.4 1447.8,1111.0 1448.1,1130.0 1448.3,1152.5 1448.6,1137.6 1448.8,1151.5 1449.1,1137.4 1449.4,1158.2 1449.6,1152.9 1449.9,1152.7 1450.1,1129.1 1450.4,1158.2 1450.7,1136.3 1450.9,1136.5 1451.2,1144.2 1451.4,1138.4 1451.7,1124.3 1452.0,1143.0 1452.2,1147.2 1452.5,1134.1 1452.7,1138.6 1453.0,1154.2 1453.3,1143.4 1453.5,1142.6 1453.8,1154.1 1454.0,1152.5 1454.3,1150.1 1454.6,1154.5 1454.8,1140.6 1455.1,1142.3 1455.3,1158.2 1455.6,1148.1 1455.9,1143.4 1456.1,1155.6 1456.4,1146.9 1456.6,1142.3 1456.9,1158.2 1457.2,1147.2 1457.4,1158.2 1457.7,1138.7 1457.9,1150.8 1458.2,1156.7 1458.5,1158.2 1458.7,1158.2 1459.0,1134.7 1459.2,1152.0 1459.5,1149.9 1459.8,1148.5 1460.0,1157.6 1460.3,1139.2 1460.5,1158.2 1460.8,1138.3 1461.1,1151.7 1461.3,1145.3 1461.6,1143.3 1461.8,1138.9 1462.1,1155.8 1462.4,1140.8 1462.6,1146.3 1462.9,1147.1 1463.1,1148.2 1463.4,1136.9 1463.7,1142.2 1463.9,1135.7 1464.2,1138.6 1464.4,1158.2 1464.7,1147.0 1465.0,1138.0 1465.2,1153.5 1465.5,1158.2 1465.7,1158.2 1466.0,1130.1 1466.3,1153.9 1466.5,1145.0 1466.8,1155.2 1467.0,1143.0 1467.3,1133.0 1467.6,1158.2 1467.8,1147.1 1468.1,1132.0 1468.3,1158.2 1468.6,1153.9 1468.9,1146.4 1469.1,1136.6 1469.4,1136.3 1469.6,1146.9 1469.9,1158.2 1470.2,1141.4 1470.4,1146.8 1470.7,1147.0 1470.9,1156.2 1471.2,1148.2 1471.5,1130.9 1471.7,1134.7 1472.0,1136.5 1472.2,1141.5 1472.5,1150.2 1472.8,1146.9 1473.0,1145.7 1473.3,1135.4 1473.5,1149.8 1473.8,1154.1 1474.1,1137.9 1474.3,1150.1 1474.6,1140.1 1474.8,1148.5 1475.1,1141.5 1475.4,1142.8 1475.6,1141.0 1475.9,1141.4 1476.1,1154.8 1476.4,1158.2 1476.7,1147.5 1476.9,1133.6 1477.2,1153.9 1477.4,1154.7 1477.7,1106.5 1478.0,1158.2 1478.2,1151.8 1478.5,1136.7 1478.7,1152.7 1479.0,1152.5 1479.3,1138.4 1479.5,1145.5 1479.8,1145.7 1480.0,1158.2 1480.3,1140.8 1480.6,1145.9 1480.8,1146.0 1481.1,1140.5 1481.3,1144.7 1481.6,1147.5 1481.9,1143.9 1482.1,1153.1 1482.4,1154.7 1482.6,1158.2 1482.9,1139.4 1483.2,1152.7 1483.4,1145.9 1483.7,1138.3 1483.9,1132.6 1484.2,1150.3 1484.5,1146.0 1484.7,1146.6 1485.0,1158.0 1485.2,1151.3 1485.5,1124.6 1485.8,1147.9 1486.0,1133.0 1486.3,1141.2 1486.5,1133.1 1486.8,1136.6 1487.1,1145.5 1487.3,1157.4 1487.6,1135.5 1487.8,1141.4 1488.1,1143.1 1488.4,1139.9 1488.6,1153.4 1488.9,1145.8 1489.1,1146.8 1489.4,1158.2 1489.7,1156.5 1489.9,1147.6 1490.2,1141.9 1490.4,1140.5 1490.7,1140.1 1491.0,1147.0 1491.2,1144.0 1491.5,1158.2 1491.7,1141.0 1492.0,1140.0 1492.3,1141.9 1492.5,1138.5 1492.8,1146.4 1493.0,1119.6 1493.3,1142.2 1493.6,1139.2 1493.8,1136.8 1494.1,1151.8 1494.3,1154.7 1494.6,1139.1 1494.9,1155.6 1495.1,1150.2 1495.4,1137.2 1495.6,1154.1 1495.9,1153.1 1496.2,1155.1 1496.4,1153.4 1496.7,1129.6 1496.9,1140.4 1497.2,1136.9 1497.5,1158.2 1497.7,1158.2 1498.0,1153.9 1498.2,1136.0 1498.5,1134.9 1498.8,1158.2 1499.0,1158.2 1499.3,1138.9 1499.5,1142.1 1499.8,1140.6 1500.1,1138.7 1500.3,1152.2 1500.6,1142.9 1500.8,1146.2 1501.1,1133.8 1501.4,1146.3 1501.6,1158.2 1501.9,1133.4 1502.1,1129.0 1502.4,1135.9 1502.7,1146.6 1502.9,1151.7 1503.2,1135.8 1503.4,1148.4 1503.7,1139.9 1504.0,1137.8 1504.2,1145.4 1504.5,1158.2 1504.7,1140.3 1505.0,1152.6 1505.3,1157.2 1505.5,1144.9 1505.8,1128.3 1506.0,1145.4 1506.3,1139.6 1506.6,1158.2 1506.8,1140.1 1507.1,1131.7 1507.3,1145.6 1507.6,1132.6 1507.9,1146.5 1508.1,1135.2 1508.4,1146.7 1508.6,1151.7 1508.9,1158.2 1509.2,1115.6 1509.4,1133.8 1509.7,1145.4 1509.9,1128.6 1510.2,1148.8 1510.5,1139.7 1510.7,1156.3 1511.0,1153.9 1511.2,1145.8 1511.5,1141.9 1511.8,1140.8 1512.0,1153.2 1512.3,1150.3 1512.5,1146.9 1512.8,1148.4 1513.1,1148.2 1513.3,1139.5 1513.6,1136.8 1513.8,1158.2 1514.1,1135.6 1514.4,1144.9 1514.6,1143.8 1514.9,1143.7 1515.1,1138.9 1515.4,1140.9 1515.7,1158.2 1515.9,1139.6 1516.2,1155.9 1516.4,1143.6 1516.7,1129.0 1517.0,1158.2 1517.2,1146.5 1517.5,1148.6 1517.7,1151.9 1518.0,1129.8 1518.3,1144.9 1518.5,1149.1 1518.8,1131.8 1519.0,1146.1 1519.3,1146.9 1519.6,1158.2 1519.8,1140.7 1520.1,1137.4 1520.3,1129.9 1520.6,1153.5 1520.9,1136.7 1521.1,1133.7 1521.4,1139.1 1521.6,1144.9 1521.9,1158.2 1522.2,1143.2 1522.4,1149.1 1522.7,1158.2 1522.9,1139.5 1523.2,1145.3 1523.5,1146.1 1523.7,1128.1 1524.0,1148.3 1524.2,1158.2 1524.5,1158.2 1524.8,1139.4 1525.0,1145.4 1525.3,1149.7 1525.5,1158.2 1525.8,1150.1 1526.1,1152.4 1526.3,1144.1 1526.6,1150.1 1526.8,1150.1 1527.1,1143.3 1527.4,1149.2 1527.6,1140.1 1527.9,1158.2 1528.1,1152.6 1528.4,1132.6 1528.7,1137.8 1528.9,1151.1 1529.2,1143.7 1529.4,1146.8 1529.7,1145.0 1530.0,1130.3 1530.2,1145.2 1530.5,1140.0 1530.7,1148.5 1531.0,1147.6 1531.3,1154.0 1531.5,1146.7 1531.8,1144.6 1532.0,1143.8 1532.3,1140.9 1532.6,1140.6 1532.8,1136.0 1533.1,1143.1 1533.3,1130.7 1533.6,1136.5 1533.9,1130.2 1534.1,1141.8 1534.4,1131.6 1534.6,1140.7 1534.9,1154.9 1535.2,1141.6 1535.4,1142.9 1535.7,1153.3 1535.9,1149.5 1536.2,1146.5 1536.5,1123.1 1536.7,1139.1 1537.0,1126.9 1537.2,1134.0 1537.5,1132.8 1537.8,1135.0 1538.0,1153.7 1538.3,1131.5 1538.5,1149.8 1538.8,1138.1 1539.1,1142.5 1539.3,1128.6 1539.6,1132.0 1539.8,1126.9 1540.1,1137.7 1540.4,1141.6 1540.6,1135.5 1540.9,1122.4 1541.1,1137.5 1541.4,1141.4 1541.7,1151.7 1541.9,1147.8 1542.2,1142.5 1542.4,1136.4 1542.7,1136.8 1543.0,1142.6 1543.2,1120.4 1543.5,1129.5 1543.7,1127.0 1544.0,1132.2 1544.3,1129.6 1544.5,1131.9 1544.8,1127.2 1545.0,1152.1 1545.3,1146.1 1545.6,1135.4 1545.8,1138.9 1546.1,1131.2 1546.3,1156.8 1546.6,1140.8 1546.9,1140.0 1547.1,1147.7 1547.4,1143.5 1547.6,1134.4 1547.9,1138.8 1548.2,1143.7 1548.4,1141.1 1548.7,1143.9 1548.9,1135.5 1549.2,1143.9 1549.5,1135.3 1549.7,1147.8 1550.0,1143.7 1550.2,1152.5 1550.5,1145.3 1550.8,1137.0 1551.0,1144.3 1551.3,1146.8 1551.5,1143.3 1551.8,1147.1 1552.1,1137.6 1552.3,1154.4 1552.6,1137.6 1552.8,1134.0 1553.1,1131.4 1553.4,1145.4 1553.6,1151.5 1553.9,1157.8 1554.1,1139.7 1554.4,1138.7 1554.7,1143.1 1554.9,1142.8 1555.2,1140.3 1555.4,1148.7 1555.7,1157.8 1556.0,1157.5 1556.2,1152.5 1556.5,1153.6 1556.7,1158.2 1557.0,1150.0 1557.3,1155.0 1557.5,1141.4 1557.8,1147.4 1558.0,1140.6 1558.3,1157.7 1558.6,1156.0 1558.8,1158.2 1559.1,1145.1 1559.3,1122.4 1559.6,1145.9 1559.9,1137.5 1560.1,1146.2 1560.4,1148.2 1560.6,1140.3 1560.9,1148.3 1561.2,1153.2 1561.4,1158.2 1561.7,1145.7 1561.9,1140.4 1562.2,1147.2 1562.5,1155.4 1562.7,1151.7 1563.0,1150.7 1563.2,1143.3 1563.5,1148.4 1563.8,1138.3 1564.0,1149.3 1564.3,1152.8 1564.5,1132.6 1564.8,1155.4 1565.1,1153.6 1565.3,1130.4 1565.6,1144.8 1565.8,1132.6 1566.1,1158.2 1566.4,1136.7 1566.6,1146.7 1566.9,1145.8 1567.1,1142.5 1567.4,1158.2 1567.7,1153.5 1567.9,1142.6 1568.2,1120.0 1568.4,1152.1 1568.7,1126.9 1569.0,1140.7 1569.2,1137.4 1569.5,1153.3 1569.7,1140.6 1570.0,1152.3 1570.3,1155.1 1570.5,1134.9 1570.8,1150.8 1571.0,1149.1 1571.3,1122.9 1571.6,1151.4 1571.8,1154.9 1572.1,1142.8 1572.3,1142.3 1572.6,1132.2 1572.9,1153.4 1573.1,1138.4 1573.4,1138.4 1573.6,1147.6 1573.9,1145.3 1574.2,1143.7 1574.4,1152.1 1574.7,1154.3 1574.9,1137.9 1575.2,1152.1 1575.5,1151.2 1575.7,1136.9 1576.0,1147.6 1576.2,1146.4 1576.5,1154.3 1576.8,1152.9 1577.0,1154.2 1577.3,1154.2 1577.5,1133.1 1577.8,1151.1 1578.1,1158.2 1578.3,1152.4 1578.6,1137.9 1578.8,1153.0 1579.1,1144.1 1579.4,1151.4 1579.6,1158.1 1579.9,1148.4 1580.1,1152.4 1580.4,1142.8 1580.7,1125.0 1580.9,1144.8 1581.2,1123.1 1581.4,1153.0 1581.7,1133.7 1582.0,1141.2 1582.2,1133.3 1582.5,1118.3 1582.7,1158.2 1583.0,1147.2 1583.3,1120.1 1583.5,1144.8 1583.8,1155.7 1584.0,1149.5 1584.3,1142.5 1584.6,1135.3 1584.8,1150.1 1585.1,1144.6 1585.3,1153.0 1585.6,1155.2 1585.9,1149.8 1586.1,1134.8 1586.4,1139.9 1586.6,1148.0 1586.9,1146.1 1587.2,1141.6 1587.4,1147.0 1587.7,1149.6 1587.9,1148.6 1588.2,1141.1 1588.5,1149.5 1588.7,1140.1 1589.0,1135.5 1589.2,1152.7 1589.5,1150.1 1589.8,1141.9 1590.0,1154.2 1590.3,1151.1 1590.5,1144.3 1590.8,1147.8 1591.1,1152.5 1591.3,1149.8 1591.6,1154.6 1591.8,1140.7 1592.1,1142.8 1592.4,1140.1 1592.6,1128.8 1592.9,1136.8 1593.1,1142.7 1593.4,1147.4 1593.7,1128.3 1593.9,1144.4 1594.2,1148.0 1594.4,1135.7 1594.7,1142.5 1595.0,1147.9 1595.2,1142.2 1595.5,1129.8 1595.7,1144.3 1596.0,1142.2 1596.3,1152.2 1596.5,1148.8 1596.8,1137.7 1597.0,1145.5 1597.3,1143.7 1597.6,1135.8 1597.8,1147.1 1598.1,1132.0 1598.3,1149.5 1598.6,1150.4 1598.9,1149.4 1599.1,1138.6 1599.4,1139.7 1599.6,1144.0 1599.9,1133.1 1600.2,1133.1 1600.4,1138.0 1600.7,1133.3 1600.9,1145.8 1601.2,1145.3 1601.5,1158.2 1601.7,1128.4 1602.0,1144.9 1602.2,1138.3 1602.5,1148.0 1602.8,1141.0 1603.0,1134.7 1603.3,1137.7 1603.5,1142.8 1603.8,1146.6 1604.1,1140.1 1604.3,1157.9 1604.6,1142.2 1604.8,1147.0 1605.1,1131.8 1605.4,1137.2 1605.6,1144.8 1605.9,1145.7 1606.1,1119.4 1606.4,1151.2 1606.7,1128.0 1606.9,1135.8 1607.2,1136.9 1607.4,1158.2 1607.7,1136.6 1608.0,1147.3 1608.2,1150.5 1608.5,1138.5 1608.7,1149.0 1609.0,1124.3 1609.3,1150.9 1609.5,1138.6 1609.8,1139.8 1610.0,1150.1 1610.3,1151.0 1610.6,1148.8 1610.8,1147.7 1611.1,1148.3 1611.3,1128.6 1611.6,1140.1 1611.9,1146.3 1612.1,1146.1 1612.4,1150.0 1612.6,1141.3 1612.9,1144.1 1613.2,1149.0 1613.4,1149.1 1613.7,1146.8 1613.9,1152.1 1614.2,1142.6 1614.5,1150.9 1614.7,1139.2 1615.0,1146.2 1615.2,1139.3 1615.5,1148.2 1615.8,1158.2 1616.0,1154.1 1616.3,1145.8 1616.5,1140.4 1616.8,1140.2 1617.1,1139.3 1617.3,1137.9 1617.6,1140.5 1617.8,1139.9 1618.1,1145.2 1618.4,1138.9 1618.6,1144.2 1618.9,1143.9 1619.1,1141.8 1619.4,1124.9 1619.7,1155.1 1619.9,1147.1 1620.2,1145.4 1620.4,1139.9 1620.7,1143.1 1621.0,1130.2 1621.2,1155.7 1621.5,1128.7 1621.7,1153.2 1622.0,1139.2 1622.3,1138.9 1622.5,1142.8 1622.8,1143.7 1623.0,1143.0 1623.3,1140.6 1623.6,1136.1 1623.8,1140.6 1624.1,1154.0 1624.3,1138.4 1624.6,1133.2 1624.9,1128.8 1625.1,1136.8 1625.4,1135.8 1625.6,1142.0 1625.9,1128.0 1626.2,1149.2 1626.4,1147.4 1626.7,1151.0 1626.9,1132.4 1627.2,1146.8 1627.5,1131.2 1627.7,1156.2 1628.0,1157.0 1628.2,1137.4 1628.5,1139.8 1628.8,1138.7 1629.0,1143.9 1629.3,1148.0 1629.5,1149.0 1629.8,1154.7 1630.1,1148.9 1630.3,1135.2 1630.6,1147.3 1630.8,1156.6 1631.1,1148.2 1631.4,1154.2 1631.6,1155.6 1631.9,1147.4 1632.1,1152.7 1632.4,1156.8 1632.7,1134.7 1632.9,1133.2 1633.2,1145.9 1633.4,1135.3 1633.7,1150.8 1634.0,1147.5 1634.2,1136.9 1634.5,1145.1 1634.7,1140.5 1635.0,1158.2 1635.3,1145.4 1635.5,1151.2 1635.8,1145.7 1636.0,1158.2 1636.3,1153.6 1636.6,1143.5 1636.8,1143.6 1637.1,1142.0 1637.3,1141.3 1637.6,1139.3 1637.9,1144.9 1638.1,1149.8 1638.4,1152.4 1638.6,1151.1 1638.9,1155.4 1639.2,1155.6 1639.4,1148.3 1639.7,1158.2 1639.9,1157.2 1640.2,1153.7 1640.5,1143.0 1640.7,1138.6 1641.0,1144.4 1641.2,1147.4 1641.5,1150.9 1641.8,1137.9 1642.0,1135.1 1642.3,1151.9 1642.5,1146.8 1642.8,1143.2 1643.1,1120.6 1643.3,1149.0 1643.6,1134.2 1643.8,1136.8 1644.1,1149.4 1644.4,1147.5 1644.6,1153.2 1644.9,1153.0 1645.1,1143.1 1645.4,1134.2 1645.7,1133.9 1645.9,1143.8 1646.2,1148.2 1646.4,1150.3 1646.7,1141.6 1647.0,1148.6 1647.2,1139.1 1647.5,1145.7 1647.7,1142.3 1648.0,1148.7 1648.3,1128.3 1648.5,1135.3 1648.8,1143.5 1649.0,1151.2 1649.3,1139.6 1649.6,1138.0 1649.8,1153.0 1650.1,1143.2 1650.3,1127.5 1650.6,1142.2 1650.9,1146.7 1651.1,1138.8 1651.4,1128.8 1651.6,1146.8 1651.9,1146.7 1652.2,1145.2 1652.4,1142.6 1652.7,1133.7 1652.9,1140.5 1653.2,1158.2 1653.5,1139.7 1653.7,1140.0 1654.0,1138.0 1654.2,1140.9 1654.5,1144.1 1654.8,1139.0 1655.0,1148.5 1655.3,1156.6 1655.5,1145.8 1655.8,1151.9 1656.1,1129.7 1656.3,1144.1 1656.6,1130.8 1656.8,1133.4 1657.1,1152.9 1657.4,1139.9 1657.6,1157.0 1657.9,1148.5 1658.1,1158.2 1658.4,1140.1 1658.7,1157.2 1658.9,1144.6 1659.2,1157.6 1659.4,1139.7 1659.7,1135.0 1660.0,1142.6 1660.2,1151.5 1660.5,1140.2 1660.7,1135.8 1661.0,1137.5 1661.3,1133.6 1661.5,1128.5 1661.8,1141.9 1662.0,1145.7 1662.3,1148.7 1662.6,1143.8 1662.8,1145.5 1663.1,1147.9 1663.3,1141.0 1663.6,1127.9 1663.9,1150.0 1664.1,1147.6 1664.4,1146.6 1664.6,1152.0 1664.9,1135.4 1665.2,1145.0 1665.4,1139.1 1665.7,1156.7 1665.9,1139.4 1666.2,1144.9 1666.5,1155.5 1666.7,1137.0 1667.0,1136.3 1667.2,1142.0 1667.5,1140.0 1667.8,1151.2 1668.0,1135.4 1668.3,1145.4 1668.5,1139.7 1668.8,1138.6 1669.1,1139.5 1669.3,1149.1 1669.6,1141.1 1669.8,1142.0 1670.1,1133.7 1670.4,1149.1 1670.6,1135.4 1670.9,1139.2 1671.1,1142.5 1671.4,1127.8 1671.7,1136.3 1671.9,1147.1 1672.2,1140.3 1672.4,1148.6 1672.7,1151.9 1673.0,1146.5 1673.2,1146.4 1673.5,1128.8 1673.7,1136.0 1674.0,1158.2 1674.3,1143.5 1674.5,1147.8 1674.8,1143.3 1675.0,1140.7 1675.3,1141.8 1675.6,1138.6 1675.8,1148.2 1676.1,1130.6 1676.3,1142.9 1676.6,1132.0 1676.9,1142.5 1677.1,1137.7 1677.4,1149.3 1677.6,1132.7 1677.9,1139.2 1678.2,1144.7 1678.4,1138.4 1678.7,1137.6 1678.9,1153.7 1679.2,1147.3 1679.5,1149.2 1679.7,1134.6 1680.0,1139.7 1680.2,1146.4 1680.5,1146.7 1680.8,1141.3 1681.0,1158.2 1681.3,1142.2 1681.5,1128.3 1681.8,1152.1 1682.1,1150.5 1682.3,1150.1 1682.6,1137.6 1682.8,1147.2 1683.1,1126.3 1683.4,1143.0 1683.6,1145.5 1683.9,1150.4 1684.1,1136.2 1684.4,1133.2 1684.7,1140.5 1684.9,1131.5 1685.2,1132.1 1685.4,1139.2 1685.7,1123.4 1686.0,1146.7 1686.2,1140.6 1686.5,1145.2 1686.7,1130.7 1687.0,1136.5 1687.3,1144.0 1687.5,1145.8 1687.8,1139.5 1688.0,1134.5 1688.3,1140.7 1688.6,1134.9 1688.8,1146.7 1689.1,1141.4 1689.3,1138.1 1689.6,1141.8 1689.9,1140.3 1690.1,1135.4 1690.4,1143.6 1690.6,1135.7 1690.9,1147.8 1691.2,1139.8 1691.4,1147.3 1691.7,1146.9 1691.9,1139.2 1692.2,1133.8 1692.5,1145.1 1692.7,1143.4 1693.0,1133.6 1693.2,1150.7 1693.5,1137.1 1693.8,1153.7 1694.0,1158.2 1694.3,1141.8 1694.5,1147.0 1694.8,1148.8 1695.1,1158.2 1695.3,1142.0 1695.6,1148.7 1695.8,1154.6 1696.1,1146.2 1696.4,1154.9 1696.6,1151.7 1696.9,1152.0 1697.1,1137.7 1697.4,1146.3 1697.7,1135.0 1697.9,1151.7 1698.2,1154.7 1698.4,1131.0 1698.7,1156.1 1699.0,1135.2 1699.2,1153.7 1699.5,1139.1 1699.7,1150.6 1700.0,1132.6 1700.3,1128.7 1700.5,1136.1 1700.8,1141.5 1701.0,1124.5 1701.3,1137.8 1701.6,1127.2 1701.8,1147.5 1702.1,1152.9 1702.3,1129.4 1702.6,1145.4 1702.9,1137.6 1703.1,1141.9 1703.4,1141.1 1703.6,1145.4 1703.9,1144.2 1704.2,1156.4 1704.4,1147.5 1704.7,1149.8 1704.9,1133.4 1705.2,1145.2 1705.5,1141.7 1705.7,1155.9 1706.0,1141.8 1706.2,1130.1 1706.5,1140.9 1706.8,1135.1 1707.0,1144.6 1707.3,1146.9 1707.5,1134.2 1707.8,1145.4 1708.1,1150.1 1708.3,1142.4 1708.6,1144.6 1708.8,1133.1 1709.1,1135.6 1709.4,1152.8 1709.6,1137.1 1709.9,1151.8 1710.1,1139.6 1710.4,1136.4 1710.7,1145.0 1710.9,1145.0 1711.2,1134.6 1711.4,1143.0 1711.7,1149.5 1712.0,1127.6 1712.2,1133.7 1712.5,1137.0 1712.7,1138.1 1713.0,1132.7 1713.3,1140.3 1713.5,1134.7 1713.8,1138.5 1714.0,1146.5 1714.3,1132.7 1714.6,1130.4 1714.8,1147.8 1715.1,1144.9 1715.3,1158.2 1715.6,1154.8 1715.9,1153.3 1716.1,1136.2 1716.4,1136.5 1716.6,1132.8 1716.9,1138.7 1717.2,1128.4 1717.4,1145.9 1717.7,1148.5 1717.9,1150.0 1718.2,1141.1 1718.5,1148.0 1718.7,1150.2 1719.0,1139.5 1719.2,1141.9 1719.5,1153.5 1719.8,1143.4 1720.0,1143.6 1720.3,1130.2 1720.5,1142.4 1720.8,1154.0 1721.1,1141.8 1721.3,1142.4 1721.6,1154.1 1721.8,1158.2 1722.1,1138.2 1722.4,1145.7 1722.6,1150.1 1722.9,1145.8 1723.1,1134.3 1723.4,1130.6 1723.7,1134.9 1723.9,1132.6 1724.2,1145.2 1724.4,1144.9 1724.7,1145.7 1725.0,1145.6 1725.2,1146.3 1725.5,1150.7 1725.7,1145.2 1726.0,1153.5 1726.3,1141.0 1726.5,1150.8 1726.8,1141.7 1727.0,1146.6 1727.3,1158.2 1727.6,1136.1 1727.8,1143.2 1728.1,1146.0 1728.3,1148.1 1728.6,1131.1 1728.9,1147.3 1729.1,1137.7 1729.4,1143.7 1729.6,1155.9 1729.9,1139.5 1730.2,1157.4 1730.4,1141.6 1730.7,1141.9 1730.9,1143.3 1731.2,1151.1 1731.5,1133.9 1731.7,1130.9 1732.0,1152.4 1732.2,1148.1 1732.5,1132.0 1732.8,1148.4 1733.0,1129.3 1733.3,1152.7 1733.5,1149.9 1733.8,1142.7 1734.1,1141.2 1734.3,1156.3 1734.6,1153.1 1734.8,1140.6 1735.1,1134.4 1735.4,1140.5 1735.6,1141.7 1735.9,1141.1 1736.1,1154.3 1736.4,1141.3 1736.7,1134.3 1736.9,1139.6 1737.2,1153.7 1737.4,1152.0 1737.7,1135.3 1738.0,1155.3 1738.2,1152.8 1738.5,1131.5 1738.7,1151.4 1739.0,1150.0 1739.3,1139.0 1739.5,1137.8 1739.8,1145.4 1740.0,1155.4 1740.3,1148.1 1740.6,1142.6 1740.8,1151.2 1741.1,1151.7 1741.3,1133.8 1741.6,1139.5 1741.9,1137.5 1742.1,1136.6 1742.4,1151.9 1742.6,1140.0 1742.9,1134.3 1743.2,1138.4 1743.4,1153.2 1743.7,1156.4 1743.9,1150.4 1744.2,1139.6 1744.5,1145.5 1744.7,1141.8 1745.0,1154.1 1745.2,1137.4 1745.5,1149.9 1745.8,1135.1 1746.0,1144.3 1746.3,1158.2 1746.5,1145.8 1746.8,1151.2 1747.1,1151.0 1747.3,1145.5 1747.6,1135.7 1747.8,1137.5 1748.1,1133.1 1748.4,1144.4 1748.6,1158.2 1748.9,1148.8 1749.1,1151.6 1749.4,1149.9 1749.7,1123.1 1749.9,1138.1 1750.2,1152.2 1750.4,1134.9 1750.7,1146.9 1751.0,1155.3 1751.2,1135.2 1751.5,1148.4 1751.7,1143.6 1752.0,1126.2 1752.3,1152.8 1752.5,1113.3 1752.8,1147.2 1753.0,1153.6 1753.3,1146.7 1753.6,1143.4 1753.8,1143.3 1754.1,1157.1 1754.3,1138.1 1754.6,1151.7 1754.9,1142.4 1755.1,1143.2 1755.4,1149.3 1755.6,1140.1 1755.9,1150.7 1756.2,1152.5 1756.4,1156.3 1756.7,1158.2 1756.9,1135.0 1757.2,1158.2 1757.5,1147.6 1757.7,1149.0 1758.0,1118.1 1758.2,1153.7 1758.5,1135.2 1758.8,1141.3 1759.0,1141.8 1759.3,1149.1 1759.5,1150.6 1759.8,1146.5 1760.1,1144.2 1760.3,1134.6 1760.6,1147.7 1760.8,1131.0 1761.1,1129.9 1761.4,1158.2 1761.6,1142.1 1761.9,1144.0 1762.1,1150.8 1762.4,1158.2 1762.7,1156.6 1762.9,1144.2 1763.2,1137.0 1763.4,1138.9 1763.7,1138.3 1764.0,1144.0 1764.2,1134.0 1764.5,1138.2 1764.7,1132.9 1765.0,1142.9 1765.3,1147.0 1765.5,1153.9 1765.8,1129.1 1766.0,1146.1 1766.3,1149.7 1766.6,1158.2 1766.8,1136.6 1767.1,1152.0 1767.3,1140.3 1767.6,1138.5 1767.9,1129.3 1768.1,1146.3 1768.4,1156.1 1768.6,1133.4 1768.9,1138.2 1769.2,1145.3 1769.4,1140.4 1769.7,1124.9 1769.9,1139.4 1770.2,1145.0 1770.5,1140.3 1770.7,1134.9 1771.0,1136.5 1771.2,1136.6 1771.5,1136.6 1771.8,1148.5 1772.0,1134.4 1772.3,1130.9 1772.5,1134.0 1772.8,1139.8 1773.1,1140.0 1773.3,1137.9 1773.6,1138.9 1773.8,1152.7 1774.1,1140.5 1774.4,1129.4 1774.6,1122.8 1774.9,1143.8 1775.1,1134.7 1775.4,1138.9 1775.7,1145.2 1775.9,1138.3 1776.2,1126.0 1776.4,1125.0 1776.7,1138.5 1777.0,1141.1 1777.2,1130.2 1777.5,1136.1 1777.7,1135.4 1778.0,1140.4 1778.3,1150.3 1778.5,1151.5 1778.8,1140.6 1779.0,1148.7 1779.3,1131.9 1779.6,1132.6 1779.8,1128.2 1780.1,1139.2 1780.3,1124.5 1780.6,1129.9 1780.9,1137.0 1781.1,1134.1 1781.4,1144.7 1781.6,1158.2 1781.9,1131.8 1782.2,1136.3 1782.4,1126.8 1782.7,1136.4 1782.9,1141.8 1783.2,1144.3 1783.5,1145.4 1783.7,1139.2 1784.0,1155.1 1784.2,1149.6 1784.5,1134.0 1784.8,1157.1 1785.0,1153.3 1785.3,1145.6 1785.5,1144.2 1785.8,1140.4 1786.1,1134.2 1786.3,1138.7 1786.6,1136.3 1786.8,1145.7 1787.1,1140.8 1787.4,1146.6 1787.6,1141.2 1787.9,1136.1 1788.1,1136.6 1788.4,1155.7 1788.7,1149.6 1788.9,1124.5 1789.2,1156.7 1789.4,1139.7 1789.7,1149.6 1790.0,1141.8 1790.2,1144.7 1790.5,1139.4 1790.7,1148.7 1791.0,1131.4 1791.3,1122.2 1791.5,1158.2 1791.8,1146.3 1792.0,1151.6 1792.3,1138.4 1792.6,1128.0 1792.8,1107.0 1793.1,1128.5 1793.3,1137.2 1793.6,1143.4 1793.9,1129.8 1794.1,1143.7 1794.4,1145.0 1794.6,1138.1 1794.9,1148.5 1795.2,1140.0 1795.4,1145.9 1795.7,1137.5 1795.9,1130.5 1796.2,1142.6 1796.5,1134.3 1796.7,1127.3 1797.0,1144.1 1797.2,1138.4 1797.5,1140.6 1797.8,1123.1 1798.0,1141.6 1798.3,1136.5 1798.5,1148.7 1798.8,1144.7 1799.1,1132.4 1799.3,1139.4 1799.6,1131.1 1799.8,1136.4 1800.1,1115.9 1800.4,1138.7 1800.6,1129.1 1800.9,1142.4 1801.1,1140.1 1801.4,1148.8 1801.7,1115.2 1801.9,1153.3 1802.2,1135.5 1802.4,1140.1 1802.7,1130.2 1803.0,1141.1 1803.2,1121.6 1803.5,1127.7 1803.7,1132.6 1804.0,1132.9 1804.3,1128.4 1804.5,1133.5 1804.8,1124.2 1805.0,1129.9 1805.3,1137.4 1805.6,1133.5 1805.8,1135.4 1806.1,1127.6 1806.3,1139.3 1806.6,1136.4 1806.9,1147.4 1807.1,1124.2 1807.4,1135.5 1807.6,1142.5 1807.9,1123.8 1808.2,1137.4 1808.4,1147.0 1808.7,1128.6 1808.9,1139.3 1809.2,1158.2 1809.5,1135.2 1809.7,1138.2 1810.0,1137.6 1810.2,1139.9 1810.5,1144.9 1810.8,1123.1 1811.0,1152.1 1811.3,1140.1 1811.5,1131.8 1811.8,1130.8 1812.1,1142.8 1812.3,1123.4 1812.6,1136.6 1812.8,1142.6 1813.1,1137.8 1813.4,1144.7 1813.6,1132.4 1813.9,1146.9 1814.1,1145.1 1814.4,1148.8 1814.7,1146.1 1814.9,1142.0 1815.2,1124.9 1815.4,1137.9 1815.7,1130.5 1816.0,1139.6 1816.2,1132.5 1816.5,1148.6 1816.7,1149.3 1817.0,1125.3 1817.3,1137.2 1817.5,1152.9 1817.8,1135.4 1818.0,1141.8 1818.3,1142.4 1818.6,1133.6 1818.8,1150.0 1819.1,1130.3 1819.3,1138.1 1819.6,1144.1 1819.9,1151.0 1820.1,1126.1 1820.4,1143.1 1820.6,1151.3 1820.9,1141.4 1821.2,1136.4 1821.4,1135.2 1821.7,1128.3 1821.9,1135.7 1822.2,1140.6 1822.5,1122.2 1822.7,1124.0 1823.0,1149.2 1823.2,1132.3 1823.5,1144.9 1823.8,1128.0 1824.0,1147.7 1824.3,1137.6 1824.5,1127.3 1824.8,1137.3 1825.1,1131.2 1825.3,1145.6 1825.6,1150.0 1825.8,1148.1 1826.1,1135.0 1826.4,1145.2 1826.6,1128.1 1826.9,1142.6 1827.1,1129.1 1827.4,1137.1 1827.7,1148.6 1827.9,1139.4 1828.2,1135.9 1828.4,1135.9 1828.7,1140.6 1829.0,1130.9 1829.2,1132.1 1829.5,1132.2 1829.7,1146.0 1830.0,1156.8 1830.3,1135.1 1830.5,1146.5 1830.8,1144.1 1831.0,1141.7 1831.3,1137.1 1831.6,1153.8 1831.8,1140.8 1832.1,1128.8 1832.3,1151.5 1832.6,1142.1 1832.9,1128.0 1833.1,1133.0 1833.4,1134.7 1833.6,1138.5 1833.9,1151.2 1834.2,1138.8 1834.4,1147.4 1834.7,1138.7 1834.9,1145.8 1835.2,1149.1 1835.5,1139.7 1835.7,1131.1 1836.0,1143.7 1836.2,1138.2 1836.5,1133.9 1836.8,1117.3 1837.0,1142.0 1837.3,1144.2 1837.5,1136.8 1837.8,1139.5 1838.1,1125.5 1838.3,1134.9 1838.6,1146.8 1838.8,1134.2 1839.1,1130.7 1839.4,1134.4 1839.6,1135.6 1839.9,1151.0 1840.1,1140.2 1840.4,1134.9 1840.7,1142.9 1840.9,1142.4 1841.2,1136.1 1841.4,1144.9 1841.7,1146.9 1842.0,1141.0 1842.2,1140.5 1842.5,1132.9 1842.7,1141.1 1843.0,1149.1 1843.3,1135.9 1843.5,1146.2 1843.8,1133.9 1844.0,1127.1 1844.3,1135.2 1844.6,1137.3 1844.8,1141.4 1845.1,1150.0 1845.3,1143.0 1845.6,1110.7 1845.9,1138.3 1846.1,1130.5 1846.4,1139.2 1846.6,1139.7 1846.9,1147.6 1847.2,1136.8 1847.4,1130.2 1847.7,1146.7 1847.9,1131.8 1848.2,1148.2 1848.5,1121.8 1848.7,1117.1 1849.0,1144.9 1849.2,1129.7 1849.5,1148.3 1849.8,1127.6 1850.0,1140.3 1850.3,1133.0 1850.5,1126.9 1850.8,1138.0 1851.1,1151.2 1851.3,1151.5 1851.6,1144.9 1851.8,1134.6 1852.1,1140.0 1852.4,1139.0 1852.6,1143.8 1852.9,1130.5 1853.1,1150.4 1853.4,1126.0 1853.7,1131.9 1853.9,1135.9 1854.2,1141.8 1854.4,1144.1 1854.7,1141.8 1855.0,1146.2 1855.2,1145.3 1855.5,1148.4 1855.7,1135.9 1856.0,1141.3 1856.3,1138.6 1856.5,1138.1 1856.8,1152.2 1857.0,1149.7 1857.3,1140.6 1857.6,1151.9 1857.8,1137.8 1858.1,1150.2 1858.3,1146.3 1858.6,1140.9 1858.9,1152.4 1859.1,1158.2 1859.4,1133.8 1859.6,1144.5 1859.9,1148.3 1860.2,1130.5 1860.4,1126.0 1860.7,1143.2 1860.9,1141.0 1861.2,1122.5 1861.5,1148.5 1861.7,1134.1 1862.0,1135.8 1862.2,1148.2 1862.5,1151.4 1862.8,1149.7 1863.0,1142.4 1863.3,1140.7 1863.5,1106.3 1863.8,1133.9 1864.1,1141.8 1864.3,1149.7 1864.6,1136.4 1864.8,1139.9 1865.1,1153.8 1865.4,1146.8 1865.6,1142.7 1865.9,1128.2 1866.1,1138.8 1866.4,1137.6 1866.7,1142.8 1866.9,1123.6 1867.2,1142.3 1867.4,1135.1 1867.7,1138.2 1868.0,1149.9 1868.2,1143.2 1868.5,1148.9 1868.7,1143.7 1869.0,1138.2 1869.3,1141.9 1869.5,1143.5 1869.8,1147.4 1870.0,1130.7 1870.3,1142.5 1870.6,1150.2 1870.8,1146.3 1871.1,1134.9 1871.3,1126.2 1871.6,1132.2 1871.9,1145.0 1872.1,1135.5 1872.4,1155.6 1872.6,1135.6 1872.9,1144.1 1873.2,1140.1 1873.4,1145.3 1873.7,1139.2 1873.9,1152.3 1874.2,1155.2 1874.5,1130.2 1874.7,1152.0 1875.0,1134.7 1875.2,1146.5 1875.5,1142.9 1875.8,1142.0 1876.0,1133.1 1876.3,1138.5 1876.5,1149.0 1876.8,1146.1 1877.1,1131.3 1877.3,1131.0 1877.6,1145.5 1877.8,1134.6 1878.1,1142.2 1878.4,1133.5 1878.6,1149.5 1878.9,1135.0 1879.1,1145.9 1879.4,1151.6 1879.7,1136.5 1879.9,1136.7 1880.2,1153.1 1880.4,1158.2 1880.7,1142.1 1881.0,1137.5 1881.2,1145.3 1881.5,1140.3 1881.7,1144.3 1882.0,1145.3 1882.3,1137.7 1882.5,1131.0 1882.8,1137.0 1883.0,1143.2 1883.3,1128.6 1883.6,1139.0 1883.8,1158.1 1884.1,1139.6 1884.3,1141.3 1884.6,1140.5 1884.9,1142.5 1885.1,1141.8 1885.4,1151.8 1885.6,1134.9 1885.9,1142.6 1886.2,1139.9 1886.4,1143.9 1886.7,1151.7 1886.9,1134.9 1887.2,1141.5 1887.5,1141.7 1887.7,1136.6 1888.0,1126.0 1888.2,1139.8 1888.5,1135.1 1888.8,1124.6 1889.0,1141.7 1889.3,1129.5 1889.5,1138.8 1889.8,1131.0 1890.1,1138.0 1890.3,1131.2 1890.6,1144.7 1890.8,1142.6 1891.1,1143.6 1891.4,1141.0 1891.6,1111.5 1891.9,1119.5 1892.1,1133.3 1892.4,1140.4 1892.7,1138.0 1892.9,1135.5 1893.2,1136.0 1893.4,1143.4 1893.7,1142.1 1894.0,1147.6 1894.2,1133.2 1894.5,1130.8 1894.7,1124.2 1895.0,1158.2 1895.3,1132.8 1895.5,1135.0 1895.8,1118.5 1896.0,1143.4 1896.3,1146.0 1896.6,1138.2 1896.8,1151.5 1897.1,1151.3 1897.3,1135.6 1897.6,1153.6 1897.9,1132.0 1898.1,1131.0 1898.4,1135.8 1898.6,1151.0 1898.9,1129.6 1899.2,1140.2 1899.4,1143.7 1899.7,1120.6 1899.9,1141.9 1900.2,1131.9 1900.5,1136.6 1900.7,1148.4 1901.0,1145.7 1901.2,1135.3 1901.5,1146.5 1901.8,1149.5 1902.0,1152.2 1902.3,1135.1 1902.5,1141.9 1902.8,1143.7 1903.1,1149.2 1903.3,1146.6 1903.6,1142.6 1903.8,1144.0 1904.1,1139.7 1904.4,1126.5 1904.6,1123.9 1904.9,1124.9 1905.1,1123.6 1905.4,1117.4 1905.7,1080.6 1905.9,1078.9 1906.2,1057.4 1906.4,1029.5 1906.7,977.6 1907.0,993.0 1907.2,936.3 1907.5,868.8 1907.7,940.9 1908.0,997.0 1908.3,968.3 1908.5,1059.6 1908.8,1051.3 1909.0,1062.0 1909.3,1084.0 1909.6,1103.4 1909.8,1104.2 1910.1,1126.8 1910.3,1120.8 1910.6,1133.3 1910.9,1123.6 1911.1,1117.2 1911.4,1121.5 1911.6,1130.5 1911.9,1136.1 1912.2,1144.4 1912.4,1151.0 1912.7,1145.0 1912.9,1148.3 1913.2,1135.4 1913.5,1150.3 1913.7,1137.2 1914.0,1145.5 1914.2,1132.9 1914.5,1141.6 1914.8,1135.3 1915.0,1157.2 1915.3,1139.6 1915.5,1150.2 1915.8,1134.3 1916.1,1142.4 1916.3,1113.9 1916.6,1142.3 1916.8,1088.7 1917.1,1158.0 1917.4,1138.1 1917.6,1131.3 1917.9,1144.6 1918.1,1120.4 1918.4,1135.6 1918.7,1149.5 1918.9,1136.5 1919.2,1154.3 1919.4,1147.1 1919.7,1135.0 1920.0,1152.3 1920.2,1141.8 1920.5,1141.2 1920.7,1140.3 1921.0,1149.5 1921.3,1153.0 1921.5,1099.4 1921.8,1136.5 1922.0,1137.0 1922.3,1135.2 1922.6,1132.8 1922.8,1139.1 1923.1,1133.5 1923.3,1133.8 1923.6,1132.0 1923.9,1139.5 1924.1,1139.3 1924.4,1107.8 1924.6,1094.1 1924.9,1145.7 1925.2,1129.7 1925.4,1149.1 1925.7,1125.9 1925.9,1136.4 1926.2,1093.9 1926.5,1139.4 1926.7,1136.0 1927.0,1154.1 1927.2,1112.3 1927.5,1140.0 1927.8,1138.2 1928.0,1136.2 1928.3,1140.3 1928.5,1142.0 1928.8,1134.0 1929.1,1153.7 1929.3,1145.2 1929.6,1136.0 1929.8,1142.2 1930.1,1132.0 1930.4,1137.9 1930.6,1124.6 1930.9,1136.6 1931.1,1127.0 1931.4,1152.0 1931.7,1155.4 1931.9,1142.0 1932.2,1151.7 1932.4,1097.8 1932.7,1134.2 1933.0,1141.9 1933.2,1139.8 1933.5,1103.2 1933.7,1135.9 1934.0,1139.4 1934.3,1139.8 1934.5,1132.6 1934.8,1150.8 1935.0,1128.1 1935.3,1139.6 1935.6,1114.0 1935.8,1104.0 1936.1,1135.5 1936.3,1147.7 1936.6,1143.1 1936.9,1148.0 1937.1,1126.7 1937.4,1138.6 1937.6,1122.1 1937.9,1133.8 1938.2,1147.2 1938.4,1112.7 1938.7,1152.3 1938.9,1144.0 1939.2,1138.7 1939.5,1138.7 1939.7,1148.2 1940.0,1147.5 1940.2,1155.4 1940.5,1158.2 1940.8,1143.2 1941.0,1132.3 1941.3,1137.5 1941.5,1136.6 1941.8,1141.1 1942.1,1141.4 1942.3,1141.5 1942.6,1127.7 1942.8,1143.7 1943.1,1131.4 1943.4,1152.3 1943.6,1149.6 1943.9,1141.5 1944.1,1152.9 1944.4,1128.5 1944.7,1139.0 1944.9,1137.4 1945.2,1144.4 1945.4,1136.8 1945.7,1145.8 1946.0,1129.8 1946.2,1130.0 1946.5,1145.8 1946.7,1147.2 1947.0,1152.3 1947.3,1151.9 1947.5,1130.0 1947.8,1133.7 1948.0,1127.3 1948.3,1135.7 1948.6,1132.7 1948.8,1134.3 1949.1,1143.5 1949.3,1137.9 1949.6,1131.9 1949.9,1138.3 1950.1,1147.1 1950.4,1147.2 1950.6,1115.6 1950.9,1146.2 1951.2,1144.6 1951.4,1138.7 1951.7,1139.8 1951.9,1131.0 1952.2,1142.5 1952.5,1134.0 1952.7,1138.6 1953.0,1138.6 1953.2,1140.8 1953.5,1146.4 1953.8,1143.5 1954.0,1148.7 1954.3,1143.1 1954.5,1138.7 1954.8,1137.8 1955.1,1148.8 1955.3,1145.8 1955.6,1142.5 1955.8,1129.4 1956.1,1138.3 1956.4,1137.0 1956.6,1130.2 1956.9,1136.1 1957.1,1144.2 1957.4,1126.8 1957.7,1141.2 1957.9,1130.7 1958.2,1137.0 1958.4,1135.2 1958.7,1130.0 1959.0,1144.0 1959.2,1151.9 1959.5,1138.0 1959.7,1141.0 1960.0,1142.7 1960.3,1140.6 1960.5,1144.6 1960.8,1141.0 1961.0,1143.2 1961.3,1125.0 1961.6,1141.8 1961.8,1144.1 1962.1,1136.1 1962.3,1110.4 1962.6,1142.1 1962.9,1148.3 1963.1,1147.0 1963.4,1132.0 1963.6,1155.1 1963.9,1141.6 1964.2,1139.9 1964.4,1138.5 1964.7,1158.2 1964.9,1140.7 1965.2,1141.0 1965.5,1147.3 1965.7,1150.9 1966.0,1158.2 1966.2,1129.8 1966.5,1146.6 1966.8,1156.8 1967.0,1153.0 1967.3,1145.0 1967.5,1138.5 1967.8,1143.9 1968.1,1153.6 1968.3,1131.5 1968.6,1141.1 1968.8,1111.2 1969.1,1132.6 1969.4,1141.0 1969.6,1132.5 1969.9,1144.1 1970.1,1134.9 1970.4,1156.2 1970.7,1157.7 1970.9,1151.9 1971.2,1139.0 1971.4,1142.0 1971.7,1148.9 1972.0,1147.8 1972.2,1147.6 1972.5,1142.0 1972.7,1134.4 1973.0,1135.1 1973.3,1144.5 1973.5,1143.1 1973.8,1138.2 1974.0,1151.5 1974.3,1142.8 1974.6,1138.2 1974.8,1139.1 1975.1,1126.8 1975.3,1149.2 1975.6,1149.9 1975.9,1123.4 1976.1,1123.3 1976.4,1152.4 1976.6,1158.2 1976.9,1142.4 1977.2,1130.5 1977.4,1144.7 1977.7,1149.5 1977.9,1136.0 1978.2,1145.0 1978.5,1143.6 1978.7,1140.2 1979.0,1145.0 1979.2,1137.0 1979.5,1135.9 1979.8,1143.1 1980.0,1146.8 1980.3,1139.9 1980.5,1158.2 1980.8,1145.7 1981.1,1131.4 1981.3,1136.6 1981.6,1150.9 1981.8,1118.3 1982.1,1133.2 1982.4,1139.0 1982.6,1131.9 1982.9,1141.0 1983.1,1147.1 1983.4,1139.9 1983.7,1139.7 1983.9,1126.7 1984.2,1142.6 1984.4,1134.7 1984.7,1131.4 1985.0,1133.2 1985.2,1143.7 1985.5,1151.2 1985.7,1133.4 1986.0,1128.2 1986.3,1136.4 1986.5,1132.2 1986.8,1140.3 1987.0,1134.7 1987.3,1130.7 1987.6,1141.2 1987.8,1131.4 1988.1,1141.4 1988.3,1148.4 1988.6,1138.0 1988.9,1133.7 1989.1,1137.4 1989.4,1136.5 1989.6,1142.4 1989.9,1137.7 1990.2,1120.6 1990.4,1134.4 1990.7,1148.2 1990.9,1151.8 1991.2,1132.7 1991.5,1156.6 1991.7,1143.0 1992.0,1142.6 1992.2,1134.3 1992.5,1142.9 1992.8,1142.9 1993.0,1155.6 1993.3,1133.4 1993.5,1142.4 1993.8,1141.4 1994.1,1147.6 1994.3,1132.3 1994.6,1148.7 1994.8,1152.1 1995.1,1130.9 1995.4,1146.5 1995.6,1139.4 1995.9,1137.9 1996.1,1153.3 1996.4,1118.1 1996.7,1149.4 1996.9,1140.7 1997.2,1137.7 1997.4,1141.9 1997.7,1131.2 1998.0,1133.7 1998.2,1148.3 1998.5,1151.8 1998.7,1131.8 1999.0,1131.3 1999.3,1145.4 1999.5,1143.0 1999.8,1141.3 2000.0,1158.2 2000.3,1145.8 2000.6,1132.1 2000.8,1149.4 2001.1,1130.8 2001.3,1125.4 2001.6,1142.5 2001.9,1147.2 2002.1,1120.2 2002.4,1152.9 2002.6,1131.0 2002.9,1137.3 2003.2,1152.7 2003.4,1147.7 2003.7,1143.9 2003.9,1132.6 2004.2,1134.6 2004.5,1146.5 2004.7,1139.9 2005.0,1144.9 2005.2,1137.5 2005.5,1143.5 2005.8,1124.4 2006.0,1137.6 2006.3,1143.5 2006.5,1149.9 2006.8,1152.6 2007.1,1135.5 2007.3,1134.7 2007.6,1128.7 2007.8,1149.6" fill="none" stroke="#000" stroke-width="1.1"/><path d="M970.5,1146.2 L972.4000000000001,1037.5 L973.1,1037.5 L975.3000000000001,1146.2 Z" fill="#000" stroke="#000" stroke-width="0.6"/><path d="M1066.6,1146.2 L1068.5,1067.8 L1069.2,1067.8 L1071.3999999999999,1146.2 Z" fill="#000" stroke="#000" stroke-width="0.6"/><path d="M1218.3999999999999,1146.2 L1220.3,839.6 L1221.0,839.6 L1223.1999999999998,1146.2 Z" fill="#000" stroke="#000" stroke-width="0.6"/><path d="M1346.2,1146.2 L1348.1000000000001,943.3 L1348.8000000000002,943.3 L1351.0,1146.2 Z" fill="#000" stroke="#000" stroke-width="0.6"/><path d="M1905.3,1146.2 L1907.2,831.4 L1907.9,831.4 L1910.1,1146.2 Z" fill="#000" stroke="#000" stroke-width="0.6"/><g stroke="#000" stroke-width="2"><line x1="931.7" y1="1160" x2="2008" y2="1160"/><line x1="1084.3" y1="1160" x2="1084.3" y2="1178"/><line x1="1851.3" y1="1160" x2="1851.3" y2="1178"/></g><text x="1084.3" y="1214" font-size="28.5" text-anchor="middle" font-weight="normal" >3000</text><text x="1851.3" y="1214" font-size="28.5" text-anchor="middle" font-weight="normal" >3500</text><text x="1445.5" y="1214.2" font-size="28.5" text-anchor="start" font-weight="normal" >m/z</text><g stroke="#000" stroke-width="1.8" fill="#000"><line x1="970.9" y1="804.8" x2="973.6" y2="957.2" stroke-dasharray="8 5"/><path d="M973.9,975.2 L968.3,957.3 L978.9,957.1 Z" stroke="none"/><line x1="1148.6" y1="804.8" x2="1087.3" y2="1012.5" stroke-dasharray="8 5"/><path d="M1082.2,1029.8 L1082.2,1011.0 L1092.4,1014.0 Z" stroke="none"/><line x1="1342.9" y1="804" x2="1255.5" y2="830.9" stroke-dasharray="8 5"/><path d="M1238.3,836.2 L1253.9,825.8 L1257.1,836.0 Z" stroke="none"/><line x1="1573" y1="804" x2="1373.9" y2="923.0" stroke-dasharray="8 5"/><path d="M1358.4,932.2 L1371.1,918.4 L1376.6,927.5 Z" stroke="none"/><line x1="1800.3" y1="804.8" x2="1880.8" y2="825.5" stroke-dasharray="8 5"/><path d="M1898.2,830 L1879.4,830.6 L1882.1,820.4 Z" stroke="none"/></g><text x="890.7" y="996.9" font-size="20">[<tspan font-weight="bold">1•2•3•1•2</tspan> + 4H]<tspan dy="-10.5" dx="1" font-size="14.5">4+</tspan></text><text x="891" y="1020.8" font-size="20">+ [<tspan font-weight="bold">2•3•1•2•3</tspan> + 4H]<tspan dy="-10.5" dx="1" font-size="14.5">4+</tspan></text><text x="1017.2" y="1056.7" font-size="20">[<tspan font-weight="bold">3•1•2•3•1</tspan> + 4H]<tspan dy="-10.5" dx="1" font-size="14.5">4+</tspan></text><text x="1226.5" y="869.4" font-size="20">[<tspan font-weight="bold">2•3•1•2</tspan> + 3H]<tspan dy="-10.5" dx="1" font-size="14.5">3+</tspan></text><text x="1362" y="962.9" font-size="20">[<tspan font-weight="bold">1•2•3•1</tspan> + 3H]<tspan dy="-10.5" dx="1" font-size="14.5">3+</tspan></text><text x="1362" y="988.7" font-size="20">+ [<tspan font-weight="bold">3•1•2•3</tspan> + 3H]<tspan dy="-10.5" dx="1" font-size="14.5">3+</tspan></text><text x="1767" y="868.7" font-size="20">[<tspan font-weight="bold">1•2•3</tspan> + 2H]<tspan dy="-10.5" dx="1" font-size="14.5">2+</tspan></text></svg></body></html>
